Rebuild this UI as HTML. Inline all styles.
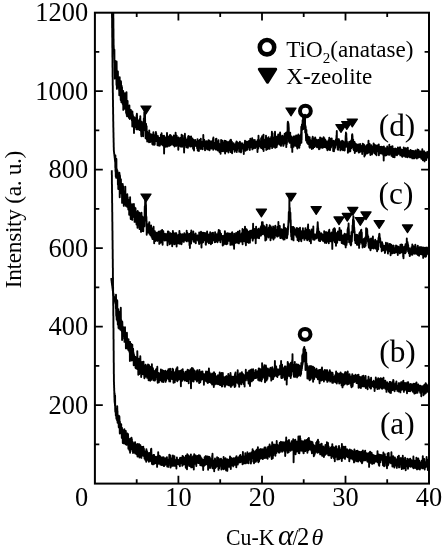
<!DOCTYPE html>
<html lang="en"><head><meta charset="utf-8"><title>XRD patterns</title>
<style>html,body{margin:0;padding:0;background:#fff}svg{display:block}</style></head>
<body>
<svg width="443" height="550" viewBox="0 0 443 550">
<rect width="443" height="550" fill="#fff"/>
<defs><clipPath id="cp"><rect x="94.9" y="12.7" width="334.1" height="470.9"/></clipPath></defs>
<g clip-path="url(#cp)" fill="none" stroke="#000" stroke-width="1.9" stroke-linejoin="round">
<polyline points="111.8,170.3 111.8,170.9 111.8,171.5 111.8,172.1 111.8,172.7 111.8,173.3 111.8,173.9 111.8,174.5 111.9,175.1 111.9,175.7 111.9,176.3 111.9,176.9 111.9,177.5 111.9,178.1 111.9,178.7 111.9,179.3 111.9,179.9 111.9,180.5 111.9,181.1 111.9,181.7 111.9,182.3 111.9,182.9 111.9,183.5 111.9,184.1 112.0,184.7 112.0,185.3 112.0,185.9 112.0,186.5 112.0,187.1 112.0,187.7 112.0,188.3 112.0,188.9 112.0,189.5 112.0,190.1 112.0,190.7 112.0,191.3 112.0,191.9 112.0,192.5 112.0,193.1 112.1,193.7 112.1,194.3 112.1,194.9 112.1,195.5 112.1,196.1 112.1,196.7 112.1,197.3 112.1,197.9 112.1,198.5 112.1,199.1 112.1,199.7 112.1,200.3 112.1,200.9 112.1,201.5 112.1,202.1 112.1,202.7 112.2,203.3 112.2,203.9 112.2,204.5 112.2,205.1 112.2,205.7 112.2,206.3 112.2,206.9 112.2,207.5 112.2,208.1 112.2,208.7 112.2,209.3 112.2,209.9 112.2,210.5 112.2,211.1 112.2,211.7 112.3,212.3 112.3,212.9 112.3,213.5 112.3,214.1 112.3,214.7 112.3,215.3 112.3,215.9 112.3,216.5 112.3,217.1 112.3,217.7 112.3,218.3 112.3,218.9 112.3,219.5 112.3,220.1 112.3,220.7 112.3,221.3 112.4,221.9 112.4,222.5 112.4,223.1 112.4,223.7 112.4,224.3 112.4,224.9 112.4,225.5 112.4,226.1 112.4,226.7 112.4,227.3 112.4,227.9 112.4,228.5 112.4,229.1 112.4,229.7 112.4,230.3 112.5,230.9 112.5,231.5 112.5,232.1 112.5,232.7 112.5,233.3 112.5,233.9 112.5,234.5 112.5,235.1 112.5,235.7 112.5,236.3 112.5,236.9 112.5,237.5 112.5,238.1 112.5,238.7 112.5,239.3 112.5,239.9 112.6,240.5 112.6,241.1 112.6,241.7 112.6,242.3 112.6,242.9 112.6,243.5 112.6,244.1 112.6,244.7 112.6,245.3 112.6,245.9 112.6,246.5 112.6,247.1 112.6,247.7 112.6,248.3 112.6,248.9 112.7,249.5 112.7,250.1 112.7,250.7 112.7,251.3 112.7,251.9 112.7,252.5 112.7,253.1 112.7,253.7 112.7,254.3 112.7,254.9 112.7,255.5 112.7,256.1 112.7,256.7 112.7,257.3 112.7,257.9 112.7,258.5 112.8,259.1 112.8,259.7 112.8,260.3 112.8,260.9 112.8,261.5 112.8,262.1 112.8,262.7 112.8,263.3 112.8,263.9 112.8,264.5 112.8,265.1 112.8,265.7 112.8,266.3 112.8,266.9 112.8,267.5 112.9,268.1 112.9,268.7 112.9,269.3 112.9,269.9 112.9,270.5 112.9,271.1 112.9,271.7 112.9,272.3 112.9,272.9 112.9,273.5 112.9,274.1 112.9,274.7 112.9,275.3 112.9,275.9 112.9,276.5 112.9,277.1 113.0,277.7 113.0,278.3 113.0,278.9 113.0,279.5 113.0,280.1 113.0,280.7 113.0,281.3 113.0,281.9 113.0,282.5 113.0,283.1 113.0,283.7 113.0,284.3 113.0,284.9 113.0,285.5 113.0,286.1 113.0,286.7 113.1,287.3 113.1,287.9 113.1,288.5 113.1,289.1 113.1,289.7 113.1,290.3 113.1,290.9 113.1,291.5 113.1,292.1 113.1,292.7 113.1,293.3 113.1,293.9 113.1,294.5 113.1,295.1 113.1,295.7 113.2,296.3 113.2,296.9 113.2,297.5 113.2,298.1 113.2,298.7 113.2,299.3 113.2,299.9 113.2,300.5 113.2,301.1 113.2,301.7 113.2,302.3 113.2,302.9 113.2,303.5 113.2,304.1 113.2,304.7 113.2,305.3 113.3,305.9 113.3,306.5 113.3,307.1 113.3,307.7 113.3,308.3 113.3,308.9 113.3,309.5 113.3,310.1 113.3,310.7 113.3,311.3 113.3,311.9 113.3,312.5 113.3,313.1 113.3,313.7 113.3,314.3 113.3,314.9 113.3,315.5 113.4,316.1 113.4,316.7 113.4,317.3 113.4,317.9 113.4,318.5 113.4,319.1 113.4,319.7 113.4,320.3 113.4,320.9 113.4,321.5 113.4,322.1 113.4,322.7 113.4,323.3 113.4,323.9 113.4,324.5 113.4,325.1 113.4,325.7 113.4,326.3 113.4,326.9 113.4,327.5 113.5,328.1 113.5,328.7 113.5,329.3 113.5,329.9 113.5,330.5 113.5,331.1 113.5,331.7 113.5,332.3 113.5,332.9 113.5,333.5 113.5,334.1 113.5,334.7 113.5,335.3 113.5,335.9 113.5,336.5 113.5,337.1 113.5,337.7 113.5,338.3 113.5,338.9 113.6,339.5 113.6,340.1 113.6,340.7 113.6,341.3 113.6,341.9 113.6,342.5 113.6,343.1 113.6,343.7 113.6,344.3 113.6,344.9 113.6,345.5 113.6,346.1 113.6,346.7 113.6,347.3 113.6,347.9 113.6,348.5 113.6,349.1 113.6,349.7 113.6,350.3 113.7,350.9 113.7,351.5 113.7,352.1 113.7,352.7 113.7,353.3 113.7,353.9 113.7,354.5 113.7,355.1 113.7,355.7 113.7,356.3 113.7,356.9 113.7,357.5 113.7,358.1 113.7,358.7 113.7,359.3 113.7,359.9 113.7,360.5 113.7,361.1 113.7,361.7 113.7,362.3 113.8,362.9 113.8,363.5 113.8,364.1 113.8,364.7 113.8,365.3 113.8,365.9 113.8,366.5 113.8,367.1 113.8,367.7 113.8,368.3 113.8,368.9 113.8,369.5 113.8,370.1 113.8,370.7 113.8,371.3 113.8,371.9 113.8,372.5 113.8,373.1 113.8,373.7 113.9,374.3 113.9,374.9 113.9,375.5 113.9,376.1 113.9,376.7 113.9,377.3 113.9,377.9 113.9,378.5 113.9,379.1 113.9,379.7 113.9,380.3 113.9,380.9 113.9,381.5 114.0,382.1 114.0,382.7 114.0,383.3 114.0,383.9 114.0,384.5 114.1,385.1 114.1,385.7 114.1,386.3 114.1,386.9 114.1,387.5 114.2,388.1 114.2,388.7 114.2,389.3 114.2,389.9 114.2,390.5 114.3,391.1 114.3,391.7 114.3,392.3 114.3,392.9 114.3,393.5 114.3,394.1 114.4,394.7 114.4,395.3 114.4,395.9 114.4,396.5 114.4,397.1 114.5,397.7 114.5,398.3 114.5,398.9 114.5,399.5 114.5,400.1 114.6,400.7 114.6,401.3 114.6,401.9 114.6,393.1 114.7,402.9 114.8,401.9 115.0,405.8 115.1,395.4 115.2,409.8 115.3,411.5 115.4,412.1 115.6,409.1 115.7,409.3 115.8,415.6 115.9,413.1 116.0,408.9 116.2,413.1 116.3,415.6 116.4,418.7 116.5,415.3 116.6,409.2 116.8,411.3 116.9,415.4 117.0,416.4 117.1,420.5 117.2,406.1 117.4,412.6 117.5,410.9 117.6,422.8 117.7,421.7 117.8,420.1 118.0,422.9 118.1,416.6 118.2,422.5 118.3,420.7 118.4,421.3 118.6,420.7 118.7,426.4 118.8,427.4 118.9,415.7 119.0,420.5 119.2,423.8 119.3,426.6 119.4,416.5 119.5,420.1 119.6,423.5 119.8,433.6 119.9,421.6 120.0,424.2 120.1,426.3 120.2,426.3 120.4,427.8 120.5,427.3 120.6,426.9 120.7,429.4 120.8,429.7 121.0,430.5 121.1,430.9 121.2,424.1 121.3,430.5 121.4,430.7 121.6,433.9 121.7,433.7 121.8,437.9 121.9,427.6 122.0,430.9 122.2,432.7 122.3,429.2 122.4,431.1 122.5,430.9 122.6,430.7 122.8,443.1 122.9,433.0 123.0,440.0 123.1,430.1 123.2,435.3 123.4,431.5 123.5,436.0 123.6,442.0 123.7,443.4 123.8,438.7 124.0,437.4 124.1,435.6 124.2,437.5 124.3,441.9 124.4,429.3 124.6,435.1 124.7,432.5 124.8,441.1 124.9,431.7 125.0,440.7 125.2,432.5 125.3,433.0 125.4,444.0 125.5,442.2 125.6,434.3 125.8,431.0 125.9,434.5 126.0,441.0 126.1,438.6 126.2,435.0 126.4,441.3 126.5,444.9 126.6,434.7 126.7,439.2 126.8,436.3 127.0,444.3 127.1,440.4 127.2,437.4 127.3,433.4 127.4,443.2 127.6,439.3 127.7,441.1 127.8,440.0 127.9,442.5 128.0,434.0 128.2,437.8 128.3,442.6 128.4,448.7 128.5,442.8 128.6,441.3 128.8,439.2 128.9,439.2 129.0,441.1 129.1,438.9 129.2,442.7 129.4,442.4 129.5,450.4 129.6,442.2 129.7,447.1 129.8,441.2 130.0,446.7 130.1,452.7 130.2,440.9 130.3,438.8 130.4,447.6 130.6,443.8 130.7,442.6 130.8,445.5 130.9,445.0 131.0,448.8 131.2,445.7 131.3,442.0 131.4,440.0 131.5,437.7 131.6,440.3 131.8,448.9 131.9,439.2 132.0,445.0 132.1,449.7 132.2,447.3 132.4,451.0 132.5,448.1 132.6,451.3 132.7,443.2 132.8,442.3 133.0,453.1 133.1,447.0 133.2,446.2 133.3,443.8 133.4,452.1 133.6,448.0 133.7,448.1 133.8,443.8 133.9,446.7 134.0,444.9 134.2,446.2 134.3,447.9 134.4,444.8 134.5,443.7 134.6,449.9 134.8,443.2 134.9,452.4 135.0,453.0 135.1,442.1 135.2,453.4 135.4,444.4 135.5,452.5 135.6,445.5 135.7,450.6 135.8,443.9 136.0,450.3 136.1,448.3 136.2,453.9 136.3,451.0 136.4,444.9 136.6,449.5 136.7,445.9 136.8,449.2 136.9,454.3 137.0,454.5 137.2,449.4 137.3,445.9 137.4,449.2 137.5,456.6 137.6,448.6 137.8,443.9 137.9,444.2 138.0,445.0 138.1,453.4 138.2,448.3 138.4,446.9 138.5,450.9 138.6,453.2 138.7,449.3 138.8,447.0 139.0,450.8 139.1,453.0 139.2,444.2 139.3,445.2 139.4,457.5 139.6,451.9 139.7,451.8 139.8,445.6 139.9,447.1 140.0,449.8 140.2,455.3 140.3,451.2 140.4,445.2 140.5,456.5 140.6,456.7 140.8,454.3 140.9,447.4 141.0,449.1 141.1,450.5 141.2,452.0 141.4,457.9 141.5,446.9 141.6,449.2 141.7,451.8 141.8,449.9 142.0,450.2 142.1,446.9 142.2,452.3 142.3,451.1 142.4,452.9 142.6,455.6 142.7,451.5 142.8,452.1 142.9,453.5 143.0,451.1 143.2,453.4 143.3,446.8 143.4,449.9 143.5,454.7 143.6,453.8 143.8,456.0 143.9,448.7 144.0,451.5 144.1,453.1 144.2,453.1 144.4,452.8 144.5,458.4 144.6,452.1 144.7,452.7 144.8,455.6 145.0,455.5 145.1,454.5 145.2,459.7 145.3,456.1 145.4,453.5 145.6,451.1 145.7,458.5 145.8,452.4 145.9,455.9 146.0,452.9 146.2,461.8 146.3,457.3 146.4,449.1 146.5,456.0 146.6,450.5 146.8,453.3 146.9,457.9 147.0,451.1 147.1,456.5 147.2,455.2 147.4,458.0 147.5,452.5 147.6,457.8 147.7,454.6 147.8,459.2 148.0,456.1 148.1,458.2 148.2,460.5 148.3,459.7 148.4,456.2 148.6,458.6 148.7,456.4 148.8,457.9 148.9,461.8 149.0,453.9 149.2,452.9 149.3,458.3 149.4,455.1 149.5,460.9 149.6,459.7 149.8,459.1 149.9,457.1 150.0,455.7 150.1,454.5 150.2,455.6 150.4,457.3 150.5,454.4 150.6,460.7 150.7,459.6 150.8,453.5 151.0,449.2 151.1,461.2 151.2,454.0 151.3,448.8 151.4,452.8 151.6,458.7 151.7,462.3 151.8,461.0 151.9,462.8 152.0,463.8 152.2,464.1 152.3,455.4 152.4,457.9 152.5,456.6 152.6,458.7 152.8,457.5 152.9,459.5 153.0,464.4 153.1,456.6 153.2,461.1 153.4,455.9 153.5,454.9 153.6,462.1 153.7,458.6 153.8,459.2 154.0,463.5 154.1,455.0 154.2,459.4 154.3,463.7 154.4,456.1 154.6,460.1 154.7,462.2 154.8,462.2 154.9,461.5 155.0,462.4 155.2,461.0 155.3,461.9 155.4,460.7 155.5,456.9 155.6,460.0 155.8,459.4 155.9,463.2 156.0,461.3 156.1,461.4 156.2,460.4 156.4,461.9 156.5,458.3 156.6,460.8 156.7,458.0 156.8,459.0 157.0,456.8 157.1,466.9 157.2,462.0 157.3,457.4 157.4,459.2 157.6,461.4 157.7,459.1 157.8,462.6 157.9,461.8 158.0,463.9 158.2,452.1 158.3,462.8 158.4,461.3 158.5,463.6 158.6,459.0 158.8,458.6 158.9,457.4 159.0,462.2 159.1,461.3 159.2,455.8 159.4,459.2 159.5,460.9 159.6,457.4 159.7,459.9 159.8,460.7 160.0,459.4 160.1,456.3 160.2,464.5 160.3,461.9 160.4,462.2 160.6,459.5 160.7,461.7 160.8,459.3 160.9,460.9 161.0,461.7 161.2,463.0 161.3,459.6 161.4,459.1 161.5,465.0 161.6,457.4 161.8,462.0 161.9,461.1 162.0,463.5 162.1,460.2 162.2,458.5 162.4,461.9 162.5,457.6 162.6,458.5 162.7,461.5 162.8,461.9 163.0,457.3 163.1,465.3 163.2,461.5 163.3,465.2 163.4,464.8 163.6,461.8 163.7,460.5 163.8,457.5 163.9,464.6 164.0,466.1 164.2,462.2 164.3,461.8 164.4,459.1 164.5,458.8 164.6,461.4 164.8,465.2 164.9,460.9 165.0,464.3 165.1,462.9 165.2,461.4 165.4,459.3 165.5,460.7 165.6,458.3 165.7,464.2 165.8,463.2 166.0,459.0 166.1,459.8 166.2,458.0 166.3,462.3 166.4,463.6 166.6,459.3 166.7,460.6 166.8,462.9 166.9,457.1 167.0,462.5 167.2,466.4 167.3,466.6 167.4,461.5 167.5,461.8 167.6,464.1 167.8,463.9 167.9,466.2 168.0,462.7 168.1,463.0 168.2,463.0 168.4,466.9 168.5,459.4 168.6,465.8 168.7,462.8 168.8,463.0 169.0,459.8 169.1,462.1 169.2,459.7 169.3,454.8 169.4,462.9 169.6,458.4 169.7,462.4 169.8,458.5 169.9,461.2 170.0,461.1 170.2,457.3 170.3,462.3 170.4,460.6 170.5,455.4 170.6,467.5 170.8,463.7 170.9,463.3 171.0,462.4 171.1,464.7 171.2,460.9 171.4,464.3 171.5,465.0 171.6,460.8 171.7,462.4 171.8,462.7 172.0,458.1 172.1,463.3 172.2,462.1 172.3,465.8 172.4,462.7 172.6,459.7 172.7,462.6 172.8,460.7 172.9,455.5 173.0,461.6 173.2,458.5 173.3,465.7 173.4,463.0 173.5,464.6 173.6,463.1 173.8,461.5 173.9,464.0 174.0,457.7 174.1,464.3 174.2,461.6 174.4,456.3 174.5,461.5 174.6,463.7 174.7,460.6 174.8,465.9 175.0,465.7 175.1,460.2 175.2,459.8 175.3,461.3 175.4,460.6 175.6,464.0 175.7,465.1 175.8,463.8 175.9,463.9 176.0,461.8 176.2,461.6 176.3,459.9 176.4,468.6 176.5,464.5 176.6,463.6 176.8,460.0 176.9,457.5 177.0,459.7 177.1,460.6 177.2,460.8 177.4,463.7 177.5,460.7 177.6,463.7 177.7,463.3 177.8,463.8 178.0,461.5 178.1,464.1 178.2,462.2 178.3,462.4 178.4,461.3 178.6,461.4 178.7,462.4 178.8,463.7 178.9,459.7 179.0,460.9 179.2,461.9 179.3,465.0 179.4,461.8 179.5,463.6 179.6,464.4 179.8,461.8 179.9,466.2 180.0,458.9 180.1,457.8 180.2,458.4 180.4,459.3 180.5,460.0 180.6,460.9 180.7,462.7 180.8,460.3 181.0,460.1 181.1,463.3 181.2,461.1 181.3,462.2 181.4,460.3 181.6,457.8 181.7,461.4 181.8,461.2 181.9,462.6 182.0,461.5 182.2,459.1 182.3,465.8 182.4,457.9 182.5,456.0 182.6,459.5 182.8,459.9 182.9,462.8 183.0,459.7 183.1,461.4 183.2,462.0 183.4,463.3 183.5,456.6 183.6,462.0 183.7,457.7 183.8,464.5 184.0,459.1 184.1,459.3 184.2,462.8 184.3,461.2 184.4,461.0 184.6,463.3 184.7,459.8 184.8,459.4 184.9,464.2 185.0,459.6 185.2,461.8 185.3,457.6 185.4,461.1 185.5,460.3 185.6,462.3 185.8,467.7 185.9,455.6 186.0,458.3 186.1,460.2 186.2,461.6 186.4,456.9 186.5,461.0 186.6,458.7 186.7,461.3 186.8,458.4 187.0,469.3 187.1,461.7 187.2,463.2 187.3,454.3 187.4,458.7 187.6,460.6 187.7,466.1 187.8,458.6 187.9,462.2 188.0,458.4 188.2,460.7 188.3,455.4 188.4,455.4 188.5,458.8 188.6,463.5 188.8,463.5 188.9,460.4 189.0,457.2 189.1,464.3 189.2,460.0 189.4,458.3 189.5,459.8 189.6,460.2 189.7,466.0 189.8,460.9 190.0,459.4 190.1,459.6 190.2,456.3 190.3,464.6 190.4,458.1 190.6,461.3 190.7,458.0 190.8,458.6 190.9,454.4 191.0,461.1 191.2,467.4 191.3,466.2 191.4,462.1 191.5,465.1 191.6,458.5 191.8,457.5 191.9,464.3 192.0,458.9 192.1,467.2 192.2,465.0 192.4,457.4 192.5,459.7 192.6,459.7 192.7,463.1 192.8,459.6 193.0,460.7 193.1,456.2 193.2,465.6 193.3,463.4 193.4,461.0 193.6,456.0 193.7,461.2 193.8,469.6 193.9,461.9 194.0,464.4 194.2,454.3 194.3,459.8 194.4,460.0 194.5,463.9 194.6,457.7 194.8,463.2 194.9,463.9 195.0,460.9 195.1,460.1 195.2,462.0 195.4,457.5 195.5,455.8 195.6,455.4 195.7,461.0 195.8,459.6 196.0,460.1 196.1,458.8 196.2,460.1 196.3,466.0 196.4,459.5 196.6,457.6 196.7,456.7 196.8,457.5 196.9,462.0 197.0,459.7 197.2,459.1 197.3,459.7 197.4,455.9 197.5,457.6 197.6,459.0 197.8,459.0 197.9,461.0 198.0,462.9 198.1,458.2 198.2,461.1 198.4,461.4 198.5,458.4 198.6,461.8 198.7,463.1 198.8,455.3 199.0,461.4 199.1,461.4 199.2,461.1 199.3,455.6 199.4,463.2 199.6,459.8 199.7,457.8 199.8,455.5 199.9,461.5 200.0,459.7 200.2,456.1 200.3,465.2 200.4,456.5 200.5,462.3 200.6,457.4 200.8,459.7 200.9,462.3 201.0,459.6 201.1,462.0 201.2,460.5 201.4,465.0 201.5,462.7 201.6,462.0 201.7,458.4 201.8,459.3 202.0,461.2 202.1,465.7 202.2,465.2 202.3,461.2 202.4,464.2 202.6,461.2 202.7,461.5 202.8,461.0 202.9,459.9 203.0,462.4 203.2,470.1 203.3,460.1 203.4,464.4 203.5,463.6 203.6,461.1 203.8,463.3 203.9,459.7 204.0,461.5 204.1,465.4 204.2,465.8 204.4,461.1 204.5,460.6 204.6,457.2 204.7,463.4 204.8,459.5 205.0,458.6 205.1,461.8 205.2,461.1 205.3,456.9 205.4,464.7 205.6,456.2 205.7,456.3 205.8,464.0 205.9,460.3 206.0,456.1 206.2,464.2 206.3,463.8 206.4,460.6 206.5,461.0 206.6,461.8 206.8,463.6 206.9,460.8 207.0,458.0 207.1,461.0 207.2,459.8 207.4,456.5 207.5,459.8 207.6,458.2 207.7,461.6 207.8,464.9 208.0,462.8 208.1,469.7 208.2,462.7 208.3,461.9 208.4,458.8 208.6,464.0 208.7,462.6 208.8,456.7 208.9,459.7 209.0,463.5 209.2,460.3 209.3,462.9 209.4,462.3 209.5,467.7 209.6,457.3 209.8,461.2 209.9,457.8 210.0,459.2 210.1,467.5 210.2,464.5 210.4,463.6 210.5,461.7 210.6,462.0 210.7,467.9 210.8,458.9 211.0,465.8 211.1,465.3 211.2,459.4 211.3,462.7 211.4,460.0 211.6,462.3 211.7,464.7 211.8,463.1 211.9,465.8 212.0,464.4 212.2,455.7 212.3,464.7 212.4,458.6 212.5,453.8 212.6,461.3 212.8,460.8 212.9,468.4 213.0,465.4 213.1,464.9 213.2,462.6 213.4,465.1 213.5,460.6 213.6,465.8 213.7,461.3 213.8,462.1 214.0,463.4 214.1,460.6 214.2,471.3 214.3,463.3 214.4,461.5 214.6,460.0 214.7,460.9 214.8,462.6 214.9,464.4 215.0,458.5 215.2,461.5 215.3,468.1 215.4,463.8 215.5,463.0 215.6,461.8 215.8,462.3 215.9,463.4 216.0,467.0 216.1,466.9 216.2,461.5 216.4,460.6 216.5,464.5 216.6,461.5 216.7,465.9 216.8,466.3 217.0,461.1 217.1,457.2 217.2,459.3 217.3,462.9 217.4,459.8 217.6,464.1 217.7,463.8 217.8,463.4 217.9,462.8 218.0,461.3 218.2,465.0 218.3,457.9 218.4,464.6 218.5,469.9 218.6,467.0 218.8,463.4 218.9,462.6 219.0,464.5 219.1,463.1 219.2,468.1 219.4,461.9 219.5,463.0 219.6,460.1 219.7,465.1 219.8,459.1 220.0,465.8 220.1,465.1 220.2,459.9 220.3,464.7 220.4,462.8 220.6,462.0 220.7,459.8 220.8,459.0 220.9,459.5 221.0,458.8 221.2,463.6 221.3,460.7 221.4,469.5 221.5,464.6 221.6,466.8 221.8,461.6 221.9,467.9 222.0,462.3 222.1,466.3 222.2,464.5 222.4,465.5 222.5,460.2 222.6,460.8 222.7,466.1 222.8,464.7 223.0,461.8 223.1,465.1 223.2,463.7 223.3,461.8 223.4,469.2 223.6,456.9 223.7,462.6 223.8,465.8 223.9,464.5 224.0,468.9 224.2,465.0 224.3,464.7 224.4,461.5 224.5,467.9 224.6,461.6 224.8,462.2 224.9,462.2 225.0,465.0 225.1,461.5 225.2,463.0 225.4,461.7 225.5,458.2 225.6,461.2 225.7,468.9 225.8,462.0 226.0,463.5 226.1,470.4 226.2,460.8 226.3,465.0 226.4,466.5 226.6,460.3 226.7,467.4 226.8,465.5 226.9,459.5 227.0,463.1 227.2,459.4 227.3,470.9 227.4,468.9 227.5,462.9 227.6,460.9 227.8,464.1 227.9,459.5 228.0,462.1 228.1,459.6 228.2,462.0 228.4,463.9 228.5,463.6 228.6,464.8 228.7,461.2 228.8,465.2 229.0,462.9 229.1,463.6 229.2,466.9 229.3,462.7 229.4,459.8 229.6,464.5 229.7,459.5 229.8,462.7 229.9,462.3 230.0,456.4 230.2,458.3 230.3,459.7 230.4,463.3 230.5,464.9 230.6,462.5 230.8,469.0 230.9,464.6 231.0,457.8 231.1,464.0 231.2,459.3 231.4,459.9 231.5,461.3 231.6,461.4 231.7,463.1 231.8,464.3 232.0,465.3 232.1,460.4 232.2,462.2 232.3,465.4 232.4,458.7 232.6,464.8 232.7,464.0 232.8,460.8 232.9,465.4 233.0,463.0 233.2,463.8 233.3,466.4 233.4,461.4 233.5,458.3 233.6,460.3 233.8,458.4 233.9,464.5 234.0,460.4 234.1,460.2 234.2,459.6 234.4,464.7 234.5,462.3 234.6,463.7 234.7,462.0 234.8,459.1 235.0,458.6 235.1,464.8 235.2,460.4 235.3,463.2 235.4,457.8 235.6,460.2 235.7,459.4 235.8,458.5 235.9,462.7 236.0,463.6 236.2,460.2 236.3,467.2 236.4,460.8 236.5,456.1 236.6,462.4 236.8,457.0 236.9,459.6 237.0,461.6 237.1,464.2 237.2,462.4 237.4,458.5 237.5,464.5 237.6,461.4 237.7,464.4 237.8,464.5 238.0,460.6 238.1,458.3 238.2,462.6 238.3,460.7 238.4,460.2 238.6,460.8 238.7,457.8 238.8,457.2 238.9,458.7 239.0,460.7 239.2,459.3 239.3,462.1 239.4,462.4 239.5,461.4 239.6,457.0 239.8,455.6 239.9,457.1 240.0,456.4 240.1,462.4 240.2,462.3 240.4,454.9 240.5,458.6 240.6,459.3 240.7,457.1 240.8,458.8 241.0,457.1 241.1,458.3 241.2,459.6 241.3,460.6 241.4,457.1 241.6,461.7 241.7,456.9 241.8,458.3 241.9,458.8 242.0,456.5 242.2,460.7 242.3,457.3 242.4,456.4 242.5,464.3 242.6,458.4 242.8,457.9 242.9,452.0 243.0,458.6 243.1,463.7 243.2,457.9 243.4,458.0 243.5,461.3 243.6,461.5 243.7,462.5 243.8,461.0 244.0,458.0 244.1,456.6 244.2,460.5 244.3,460.3 244.4,460.2 244.6,456.6 244.7,457.1 244.8,463.4 244.9,457.4 245.0,460.4 245.2,458.5 245.3,453.2 245.4,460.1 245.5,455.1 245.6,463.4 245.8,457.1 245.9,456.2 246.0,457.6 246.1,458.0 246.2,456.8 246.4,457.0 246.5,461.4 246.6,458.5 246.7,460.3 246.8,458.2 247.0,459.8 247.1,455.8 247.2,462.7 247.3,454.9 247.4,452.3 247.6,453.4 247.7,454.5 247.8,456.7 247.9,462.9 248.0,453.6 248.2,459.7 248.3,454.5 248.4,461.7 248.5,459.2 248.6,463.2 248.8,456.4 248.9,459.8 249.0,460.0 249.1,455.8 249.2,456.9 249.4,455.1 249.5,454.6 249.6,455.1 249.7,453.2 249.8,459.6 250.0,456.6 250.1,454.0 250.2,456.9 250.3,457.7 250.4,455.6 250.6,460.0 250.7,455.9 250.8,457.1 250.9,463.6 251.0,454.8 251.2,456.6 251.3,457.4 251.4,452.4 251.5,455.0 251.6,458.9 251.8,461.6 251.9,454.1 252.0,457.8 252.1,455.3 252.2,454.8 252.4,452.2 252.5,457.4 252.6,449.3 252.7,458.1 252.8,456.8 253.0,457.0 253.1,455.3 253.2,451.7 253.3,450.8 253.4,456.2 253.6,457.5 253.7,456.3 253.8,452.7 253.9,458.6 254.0,463.3 254.2,454.2 254.3,452.4 254.4,454.3 254.5,461.4 254.6,452.8 254.8,453.9 254.9,454.9 255.0,454.4 255.1,457.6 255.2,453.8 255.4,451.3 255.5,455.8 255.6,455.4 255.7,461.9 255.8,459.2 256.0,461.2 256.1,455.3 256.2,456.5 256.3,456.7 256.4,455.1 256.6,449.7 256.7,456.9 256.8,455.7 256.9,460.5 257.0,458.5 257.2,453.2 257.3,456.0 257.4,451.1 257.5,458.7 257.6,454.1 257.8,450.2 257.9,447.3 258.0,457.3 258.1,456.6 258.2,451.4 258.4,462.3 258.5,452.5 258.6,459.8 258.7,452.0 258.8,455.2 259.0,452.4 259.1,461.3 259.2,457.6 259.3,455.1 259.4,455.5 259.6,454.7 259.7,454.8 259.8,449.5 259.9,455.6 260.0,458.7 260.2,451.6 260.3,449.5 260.4,449.1 260.5,450.6 260.6,457.2 260.8,455.3 260.9,449.2 261.0,458.6 261.1,452.5 261.2,455.8 261.4,452.4 261.5,450.0 261.6,454.0 261.7,452.2 261.8,454.3 262.0,453.6 262.1,449.3 262.2,454.9 262.3,451.8 262.4,455.0 262.6,456.4 262.7,454.9 262.8,456.4 262.9,459.1 263.0,452.1 263.2,450.9 263.3,449.5 263.4,456.6 263.5,450.0 263.6,455.2 263.8,457.9 263.9,450.0 264.0,457.9 264.1,449.4 264.2,455.4 264.4,452.9 264.5,447.5 264.6,452.6 264.7,458.1 264.8,452.1 265.0,448.4 265.1,455.9 265.2,455.9 265.3,448.7 265.4,453.0 265.6,448.0 265.7,447.4 265.8,454.9 265.9,455.0 266.0,457.8 266.2,455.0 266.3,451.6 266.4,456.2 266.5,449.2 266.6,450.8 266.8,452.7 266.9,450.6 267.0,451.6 267.1,449.2 267.2,455.4 267.4,457.3 267.5,456.0 267.6,458.7 267.7,455.5 267.8,454.9 268.0,447.3 268.1,452.5 268.2,446.7 268.3,455.7 268.4,452.6 268.6,451.4 268.7,450.3 268.8,449.3 268.9,451.3 269.0,450.5 269.2,452.8 269.3,447.0 269.4,449.9 269.5,456.8 269.6,444.4 269.8,449.7 269.9,446.8 270.0,452.6 270.1,453.9 270.2,449.8 270.4,448.6 270.5,450.2 270.6,454.4 270.7,448.3 270.8,450.0 271.0,454.8 271.1,447.1 271.2,446.2 271.3,453.3 271.4,455.4 271.6,453.4 271.7,459.1 271.8,447.0 271.9,448.4 272.0,452.0 272.2,442.3 272.3,448.7 272.4,457.8 272.5,454.9 272.6,446.6 272.8,458.2 272.9,455.7 273.0,451.2 273.1,448.2 273.2,452.7 273.4,455.3 273.5,450.5 273.6,447.1 273.7,452.0 273.8,451.5 274.0,444.4 274.1,444.8 274.2,446.1 274.3,452.5 274.4,445.4 274.6,448.7 274.7,450.5 274.8,445.8 274.9,445.7 275.0,446.2 275.2,448.2 275.3,445.7 275.4,455.8 275.5,451.0 275.6,452.9 275.8,445.3 275.9,445.3 276.0,444.4 276.1,445.4 276.2,451.2 276.4,453.0 276.5,452.8 276.6,451.9 276.7,440.9 276.8,447.0 277.0,450.0 277.1,451.2 277.2,447.8 277.3,449.7 277.4,448.0 277.6,447.6 277.7,450.3 277.8,445.2 277.9,445.9 278.0,449.4 278.2,449.1 278.3,448.3 278.4,451.2 278.5,446.1 278.6,448.9 278.8,452.1 278.9,445.3 279.0,446.5 279.1,452.7 279.2,446.6 279.4,450.3 279.5,444.6 279.6,445.2 279.7,443.1 279.8,442.6 280.0,451.9 280.1,447.2 280.2,445.1 280.3,451.0 280.4,448.3 280.6,449.1 280.7,447.9 280.8,450.4 280.9,442.1 281.0,441.8 281.2,445.8 281.3,447.7 281.4,447.4 281.5,444.7 281.6,449.0 281.8,448.3 281.9,446.8 282.0,446.7 282.1,451.8 282.2,446.1 282.4,442.3 282.5,442.9 282.6,450.8 282.7,446.0 282.8,448.0 283.0,448.4 283.1,446.9 283.2,444.2 283.3,446.5 283.4,449.4 283.6,443.5 283.7,447.0 283.8,447.1 283.9,442.2 284.0,445.7 284.2,448.3 284.3,447.0 284.4,443.6 284.5,451.6 284.6,444.5 284.8,449.9 284.9,448.8 285.0,446.9 285.1,451.9 285.2,456.0 285.4,450.4 285.5,448.7 285.6,447.7 285.7,447.1 285.8,441.4 286.0,449.7 286.1,443.6 286.2,437.5 286.3,447.0 286.4,445.2 286.6,441.0 286.7,449.6 286.8,447.3 286.9,450.6 287.0,445.1 287.2,445.3 287.3,447.6 287.4,450.0 287.5,447.2 287.6,452.8 287.8,445.1 287.9,445.3 288.0,443.9 288.1,443.2 288.2,441.8 288.4,440.8 288.5,444.9 288.6,448.0 288.7,452.2 288.8,446.2 289.0,439.9 289.1,449.4 289.2,443.1 289.3,449.1 289.4,446.9 289.6,444.2 289.7,444.8 289.8,444.1 289.9,448.6 290.0,443.3 290.2,445.0 290.3,443.8 290.4,443.7 290.5,448.9 290.6,450.7 290.8,444.8 290.9,446.7 291.0,449.8 291.1,449.1 291.2,444.2 291.4,449.2 291.5,446.4 291.6,441.2 291.7,444.6 291.8,442.4 292.0,448.1 292.1,448.9 292.2,449.7 292.3,445.2 292.4,444.0 292.6,444.9 292.7,446.2 292.8,443.4 292.9,447.3 293.0,449.5 293.2,439.3 293.3,449.3 293.4,449.3 293.5,441.2 293.6,462.2 293.8,449.3 293.9,447.3 294.0,440.1 294.1,446.7 294.2,446.2 294.4,448.0 294.5,444.2 294.6,442.0 294.7,441.8 294.8,446.9 295.0,443.1 295.1,447.0 295.2,452.2 295.3,439.7 295.4,444.9 295.6,454.3 295.7,447.7 295.8,452.7 295.9,446.6 296.0,452.0 296.2,450.0 296.3,450.3 296.4,441.6 296.5,451.3 296.6,446.3 296.8,444.3 296.9,449.2 297.0,443.8 297.1,441.6 297.2,446.4 297.4,450.0 297.5,444.7 297.6,448.5 297.7,451.4 297.8,445.9 298.0,445.6 298.1,443.3 298.2,443.8 298.3,445.6 298.4,436.4 298.6,446.7 298.7,453.0 298.8,446.4 298.9,446.2 299.0,443.4 299.2,448.5 299.3,444.8 299.4,453.2 299.5,447.9 299.6,448.3 299.8,447.5 299.9,444.6 300.0,436.3 300.1,444.4 300.2,448.8 300.4,438.7 300.5,447.9 300.6,447.8 300.7,448.4 300.8,446.9 301.0,447.1 301.1,444.8 301.2,450.7 301.3,441.0 301.4,441.9 301.6,442.5 301.7,442.8 301.8,448.9 301.9,445.2 302.0,449.5 302.2,441.3 302.3,444.6 302.4,443.3 302.5,446.5 302.6,447.1 302.8,447.2 302.9,443.8 303.0,451.2 303.1,445.1 303.2,449.5 303.4,452.9 303.5,451.6 303.6,441.5 303.7,453.2 303.8,445.8 304.0,449.2 304.1,447.0 304.2,446.6 304.3,447.0 304.4,448.6 304.6,449.9 304.7,443.1 304.8,440.3 304.9,444.9 305.0,441.6 305.2,443.1 305.3,451.1 305.4,449.0 305.5,443.7 305.6,444.3 305.8,444.6 305.9,445.0 306.0,445.9 306.1,447.2 306.2,450.3 306.4,445.9 306.5,439.9 306.6,446.9 306.7,446.1 306.8,444.9 307.0,449.9 307.1,439.6 307.2,442.6 307.3,443.8 307.4,452.8 307.6,443.4 307.7,445.3 307.8,448.5 307.9,447.3 308.0,438.7 308.2,447.3 308.3,445.0 308.4,448.4 308.5,450.3 308.6,447.8 308.8,444.4 308.9,437.9 309.0,447.9 309.1,449.1 309.2,448.2 309.4,441.1 309.5,444.4 309.6,440.7 309.7,447.6 309.8,444.3 310.0,448.3 310.1,445.0 310.2,442.0 310.3,442.2 310.4,449.6 310.6,449.6 310.7,445.7 310.8,441.9 310.9,444.0 311.0,448.9 311.2,445.6 311.3,444.1 311.4,450.7 311.5,448.3 311.6,444.1 311.8,441.7 311.9,453.3 312.0,449.8 312.1,444.2 312.2,448.4 312.4,446.6 312.5,442.2 312.6,447.4 312.7,446.0 312.8,448.4 313.0,444.3 313.1,449.0 313.2,448.5 313.3,450.2 313.4,445.6 313.6,452.8 313.7,447.4 313.8,456.2 313.9,449.2 314.0,448.3 314.2,445.4 314.3,452.1 314.4,455.1 314.5,450.3 314.6,447.4 314.8,448.7 314.9,453.8 315.0,447.0 315.1,448.7 315.2,446.5 315.4,450.8 315.5,449.9 315.6,449.9 315.7,449.5 315.8,447.5 316.0,450.0 316.1,447.6 316.2,442.7 316.3,451.7 316.4,445.2 316.6,451.9 316.7,449.9 316.8,451.4 316.9,448.2 317.0,441.4 317.2,448.0 317.3,443.2 317.4,452.8 317.5,450.8 317.6,441.9 317.8,451.1 317.9,448.6 318.0,439.8 318.1,446.3 318.2,446.8 318.4,450.2 318.5,449.3 318.6,441.6 318.7,452.4 318.8,446.5 319.0,450.5 319.1,446.1 319.2,451.9 319.3,449.0 319.4,445.2 319.6,444.8 319.7,451.5 319.8,451.1 319.9,447.5 320.0,451.4 320.2,454.4 320.3,448.7 320.4,444.6 320.5,453.8 320.6,447.5 320.8,448.8 320.9,444.1 321.0,451.4 321.1,450.7 321.2,447.2 321.4,450.7 321.5,448.2 321.6,447.3 321.7,443.7 321.8,453.1 322.0,450.2 322.1,455.8 322.2,454.1 322.3,448.3 322.4,452.1 322.6,446.7 322.7,450.3 322.8,455.9 322.9,450.8 323.0,451.6 323.2,446.4 323.3,449.1 323.4,449.3 323.5,452.1 323.6,447.0 323.8,447.6 323.9,457.0 324.0,456.4 324.1,453.7 324.2,448.5 324.4,447.7 324.5,449.3 324.6,455.2 324.7,453.3 324.8,453.1 325.0,452.5 325.1,454.7 325.2,449.6 325.3,452.8 325.4,445.0 325.6,446.2 325.7,449.0 325.8,452.7 325.9,449.2 326.0,453.2 326.2,452.9 326.3,453.6 326.4,449.2 326.5,453.8 326.6,449.8 326.8,452.1 326.9,442.2 327.0,452.8 327.1,450.7 327.2,453.3 327.4,450.4 327.5,453.3 327.6,453.5 327.7,448.4 327.8,450.0 328.0,443.0 328.1,451.3 328.2,450.1 328.3,455.2 328.4,452.0 328.6,449.8 328.7,446.4 328.8,453.5 328.9,449.9 329.0,451.0 329.2,450.2 329.3,449.0 329.4,452.5 329.5,455.4 329.6,448.8 329.8,451.6 329.9,452.8 330.0,449.9 330.1,454.9 330.2,453.5 330.4,451.8 330.5,450.9 330.6,449.2 330.7,447.7 330.8,453.8 331.0,450.3 331.1,453.6 331.2,447.3 331.3,449.8 331.4,458.0 331.6,455.5 331.7,452.1 331.8,455.2 331.9,453.6 332.0,455.3 332.2,450.4 332.3,444.1 332.4,450.3 332.5,451.7 332.6,451.5 332.8,455.9 332.9,449.5 333.0,452.6 333.1,447.7 333.2,455.5 333.4,447.8 333.5,457.0 333.6,454.6 333.7,447.2 333.8,454.4 334.0,458.3 334.1,451.4 334.2,454.9 334.3,452.1 334.4,453.5 334.6,455.2 334.7,458.0 334.8,461.2 334.9,447.8 335.0,449.2 335.2,451.7 335.3,453.5 335.4,450.2 335.5,457.1 335.6,448.3 335.8,446.6 335.9,453.3 336.0,446.1 336.1,454.0 336.2,452.1 336.4,446.5 336.5,450.4 336.6,453.8 336.7,456.1 336.8,455.5 337.0,450.8 337.1,452.4 337.2,449.0 337.3,459.6 337.4,451.2 337.6,455.5 337.7,456.3 337.8,449.5 337.9,454.7 338.0,456.0 338.2,457.6 338.3,455.4 338.4,459.2 338.5,456.9 338.6,450.8 338.8,454.9 338.9,448.9 339.0,446.0 339.1,459.3 339.2,453.6 339.4,452.0 339.5,453.9 339.6,455.8 339.7,448.0 339.8,457.0 340.0,454.0 340.1,454.6 340.2,456.3 340.3,454.0 340.4,450.7 340.6,449.9 340.7,458.3 340.8,454.5 340.9,451.8 341.0,450.9 341.2,455.3 341.3,458.3 341.4,455.7 341.5,453.1 341.6,452.2 341.8,461.0 341.9,444.0 342.0,451.2 342.1,452.3 342.2,449.8 342.4,453.8 342.5,458.3 342.6,454.4 342.7,448.0 342.8,448.6 343.0,452.8 343.1,455.9 343.2,456.5 343.3,450.7 343.4,455.7 343.6,451.5 343.7,446.7 343.8,455.2 343.9,452.8 344.0,457.5 344.2,449.2 344.3,454.5 344.4,454.0 344.5,451.6 344.6,449.1 344.8,455.6 344.9,453.4 345.0,458.9 345.1,450.7 345.2,457.1 345.4,446.6 345.5,457.3 345.6,451.4 345.7,454.5 345.8,455.4 346.0,455.1 346.1,450.6 346.2,456.1 346.3,455.8 346.4,454.2 346.6,455.0 346.7,450.9 346.8,453.7 346.9,454.1 347.0,449.1 347.2,452.5 347.3,456.6 347.4,453.8 347.5,454.4 347.6,450.0 347.8,457.2 347.9,452.1 348.0,453.2 348.1,450.1 348.2,455.5 348.4,453.7 348.5,450.6 348.6,457.2 348.7,454.5 348.8,453.6 349.0,457.9 349.1,453.0 349.2,452.0 349.3,461.3 349.4,454.9 349.6,458.4 349.7,457.4 349.8,449.4 349.9,453.8 350.0,454.8 350.2,452.7 350.3,455.6 350.4,458.6 350.5,452.9 350.6,454.6 350.8,454.4 350.9,455.0 351.0,453.0 351.1,457.3 351.2,450.1 351.4,451.9 351.5,450.9 351.6,455.6 351.7,457.6 351.8,458.1 352.0,458.8 352.1,450.8 352.2,454.8 352.3,457.9 352.4,454.6 352.6,457.0 352.7,457.3 352.8,454.9 352.9,453.2 353.0,453.7 353.2,459.8 353.3,455.8 353.4,453.6 353.5,453.0 353.6,458.6 353.8,451.5 353.9,457.0 354.0,462.4 354.1,455.5 354.2,451.9 354.4,449.5 354.5,458.1 354.6,451.7 354.7,456.3 354.8,461.4 355.0,457.0 355.1,455.0 355.2,455.1 355.3,458.5 355.4,453.6 355.6,454.7 355.7,458.7 355.8,459.9 355.9,454.2 356.0,459.4 356.2,456.7 356.3,450.9 356.4,456.3 356.5,456.0 356.6,455.4 356.8,456.3 356.9,461.3 357.0,455.6 357.1,457.7 357.2,461.2 357.4,454.5 357.5,450.6 357.6,451.9 357.7,451.2 357.8,459.0 358.0,461.0 358.1,455.3 358.2,461.5 358.3,454.8 358.4,458.5 358.6,457.9 358.7,453.7 358.8,455.6 358.9,458.8 359.0,451.7 359.2,455.9 359.3,453.5 359.4,453.5 359.5,458.2 359.6,453.1 359.8,460.4 359.9,457.3 360.0,454.2 360.1,452.0 360.2,458.7 360.4,457.4 360.5,452.8 360.6,458.0 360.7,455.3 360.8,461.6 361.0,458.3 361.1,453.9 361.2,456.2 361.3,461.3 361.4,460.5 361.6,455.2 361.7,451.8 361.8,460.2 361.9,454.2 362.0,463.3 362.2,452.7 362.3,455.3 362.4,461.9 362.5,457.6 362.6,460.2 362.8,460.8 362.9,450.4 363.0,454.3 363.1,459.0 363.2,458.4 363.4,455.1 363.5,453.5 363.6,457.4 363.7,459.4 363.8,459.1 364.0,453.3 364.1,455.1 364.2,460.4 364.3,460.2 364.4,458.4 364.6,455.5 364.7,459.8 364.8,456.2 364.9,451.2 365.0,452.2 365.2,450.7 365.3,457.6 365.4,460.3 365.5,458.9 365.6,458.4 365.8,454.0 365.9,459.3 366.0,453.8 366.1,455.1 366.2,459.3 366.4,458.9 366.5,453.2 366.6,457.0 366.7,456.1 366.8,456.5 367.0,455.0 367.1,455.8 367.2,456.4 367.3,461.0 367.4,461.7 367.6,457.4 367.7,458.9 367.8,459.6 367.9,455.2 368.0,460.1 368.2,458.1 368.3,453.3 368.4,458.4 368.5,458.2 368.6,455.9 368.8,454.3 368.9,454.7 369.0,455.3 369.1,466.9 369.2,454.1 369.4,456.7 369.5,458.5 369.6,460.8 369.7,454.7 369.8,452.4 370.0,457.2 370.1,451.6 370.2,452.6 370.3,461.3 370.4,458.3 370.6,462.9 370.7,454.1 370.8,456.6 370.9,459.5 371.0,461.8 371.2,458.9 371.3,457.2 371.4,454.4 371.5,459.7 371.6,452.7 371.8,460.2 371.9,458.8 372.0,459.4 372.1,458.4 372.2,464.0 372.4,462.4 372.5,463.2 372.6,455.2 372.7,460.1 372.8,454.8 373.0,458.7 373.1,458.7 373.2,459.4 373.3,460.4 373.4,460.7 373.6,458.9 373.7,460.6 373.8,455.6 373.9,460.5 374.0,463.4 374.2,455.8 374.3,461.4 374.4,456.8 374.5,460.8 374.6,455.7 374.8,461.4 374.9,457.1 375.0,461.9 375.1,459.4 375.2,458.9 375.4,460.3 375.5,456.5 375.6,456.1 375.7,458.4 375.8,459.5 376.0,458.3 376.1,458.4 376.2,455.8 376.3,460.9 376.4,459.3 376.6,457.2 376.7,459.5 376.8,461.2 376.9,459.2 377.0,460.7 377.2,462.2 377.3,461.6 377.4,459.0 377.5,451.3 377.6,460.7 377.8,454.0 377.9,458.2 378.0,458.3 378.1,462.2 378.2,460.2 378.4,457.8 378.5,458.5 378.6,461.1 378.7,454.6 378.8,465.0 379.0,456.5 379.1,456.2 379.2,455.8 379.3,465.8 379.4,455.8 379.6,459.4 379.7,454.8 379.8,462.3 379.9,457.9 380.0,458.1 380.2,457.2 380.3,460.3 380.4,461.6 380.5,462.2 380.6,460.3 380.8,456.2 380.9,459.8 381.0,455.0 381.1,456.4 381.2,459.9 381.4,459.4 381.5,458.7 381.6,457.2 381.7,455.2 381.8,457.4 382.0,459.4 382.1,457.3 382.2,459.7 382.3,458.4 382.4,458.3 382.6,459.7 382.7,455.8 382.8,456.9 382.9,455.9 383.0,465.2 383.2,461.1 383.3,460.4 383.4,452.5 383.5,457.8 383.6,464.8 383.8,460.0 383.9,457.5 384.0,461.7 384.1,466.2 384.2,458.9 384.4,460.2 384.5,458.4 384.6,459.3 384.7,455.1 384.8,454.3 385.0,460.8 385.1,456.9 385.2,457.5 385.3,457.9 385.4,458.0 385.6,457.8 385.7,456.7 385.8,462.4 385.9,458.2 386.0,460.9 386.2,465.7 386.3,456.9 386.4,464.6 386.5,458.6 386.6,461.6 386.8,459.1 386.9,463.7 387.0,468.3 387.1,461.1 387.2,461.8 387.4,460.1 387.5,465.8 387.6,453.4 387.7,458.7 387.8,460.3 388.0,460.6 388.1,465.2 388.2,462.9 388.3,458.0 388.4,464.2 388.6,458.0 388.7,452.9 388.8,460.0 388.9,456.7 389.0,460.6 389.2,459.5 389.3,458.1 389.4,461.3 389.5,461.0 389.6,460.7 389.8,461.4 389.9,461.0 390.0,458.7 390.1,462.5 390.2,457.5 390.4,459.5 390.5,462.9 390.6,457.6 390.7,461.9 390.8,462.7 391.0,462.3 391.1,459.8 391.2,463.4 391.3,461.9 391.4,452.3 391.6,459.1 391.7,460.5 391.8,457.2 391.9,458.5 392.0,463.7 392.2,460.0 392.3,461.8 392.4,466.5 392.5,457.4 392.6,459.9 392.8,457.6 392.9,457.9 393.0,463.0 393.1,462.2 393.2,456.2 393.4,465.1 393.5,462.8 393.6,462.7 393.7,462.4 393.8,461.9 394.0,461.5 394.1,460.7 394.2,463.5 394.3,467.5 394.4,458.9 394.6,462.6 394.7,462.8 394.8,462.7 394.9,457.4 395.0,461.0 395.2,461.8 395.3,460.5 395.4,463.5 395.5,465.6 395.6,461.6 395.8,461.8 395.9,459.6 396.0,462.2 396.1,459.7 396.2,464.8 396.4,460.0 396.5,460.2 396.6,464.9 396.7,463.2 396.8,467.9 397.0,462.4 397.1,459.4 397.2,463.9 397.3,458.9 397.4,460.3 397.6,460.4 397.7,459.9 397.8,456.7 397.9,463.5 398.0,462.2 398.2,464.0 398.3,460.4 398.4,464.6 398.5,459.4 398.6,466.1 398.8,465.5 398.9,455.8 399.0,467.4 399.1,464.6 399.2,462.3 399.4,461.8 399.5,460.5 399.6,467.3 399.7,465.9 399.8,458.5 400.0,462.0 400.1,463.5 400.2,463.6 400.3,458.6 400.4,462.7 400.6,464.4 400.7,459.1 400.8,462.7 400.9,458.0 401.0,462.3 401.2,464.4 401.3,464.7 401.4,463.4 401.5,463.5 401.6,463.3 401.8,469.1 401.9,464.7 402.0,463.5 402.1,468.3 402.2,459.1 402.4,464.8 402.5,464.1 402.6,460.9 402.7,462.3 402.8,455.7 403.0,465.6 403.1,458.4 403.2,461.3 403.3,461.8 403.4,468.6 403.6,465.7 403.7,466.5 403.8,460.8 403.9,461.2 404.0,467.5 404.2,460.8 404.3,462.2 404.4,461.1 404.5,468.1 404.6,461.0 404.8,463.0 404.9,461.7 405.0,460.8 405.1,457.7 405.2,462.4 405.4,462.0 405.5,467.8 405.6,463.3 405.7,470.3 405.8,466.9 406.0,463.5 406.1,464.3 406.2,466.1 406.3,466.6 406.4,461.7 406.6,464.5 406.7,460.8 406.8,465.1 406.9,462.7 407.0,461.8 407.2,463.3 407.3,458.8 407.4,464.3 407.5,459.0 407.6,460.1 407.8,459.7 407.9,463.3 408.0,468.8 408.1,466.8 408.2,464.5 408.4,459.5 408.5,464.6 408.6,464.3 408.7,463.6 408.8,465.3 409.0,464.8 409.1,466.2 409.2,462.7 409.3,462.7 409.4,460.2 409.6,462.5 409.7,459.1 409.8,463.1 409.9,461.0 410.0,459.4 410.2,458.6 410.3,460.9 410.4,464.3 410.5,466.2 410.6,466.7 410.8,466.3 410.9,462.9 411.0,466.3 411.1,464.3 411.2,465.2 411.4,462.3 411.5,460.2 411.6,463.2 411.7,461.8 411.8,460.6 412.0,462.1 412.1,463.6 412.2,466.6 412.3,464.9 412.4,464.8 412.6,464.9 412.7,465.0 412.8,466.6 412.9,463.1 413.0,467.5 413.2,463.4 413.3,464.2 413.4,456.4 413.5,468.3 413.6,460.0 413.8,463.9 413.9,466.2 414.0,466.0 414.1,463.5 414.2,464.5 414.4,466.5 414.5,462.1 414.6,467.7 414.7,465.8 414.8,460.8 415.0,466.4 415.1,464.4 415.2,467.2 415.3,467.9 415.4,466.3 415.6,465.1 415.7,461.2 415.8,462.0 415.9,462.4 416.0,465.7 416.2,468.3 416.3,461.3 416.4,457.7 416.5,462.9 416.6,463.6 416.8,466.0 416.9,465.3 417.0,469.4 417.1,464.5 417.2,458.8 417.4,462.3 417.5,464.9 417.6,458.6 417.7,462.2 417.8,463.6 418.0,461.9 418.1,464.3 418.2,467.7 418.3,458.4 418.4,462.9 418.6,468.7 418.7,461.2 418.8,460.9 418.9,461.6 419.0,467.7 419.2,460.5 419.3,467.0 419.4,465.6 419.5,464.7 419.6,467.4 419.8,466.4 419.9,469.5 420.0,464.3 420.1,465.4 420.2,462.8 420.4,467.9 420.5,464.1 420.6,465.5 420.7,463.5 420.8,462.2 421.0,463.6 421.1,463.6 421.2,467.9 421.3,464.2 421.4,466.3 421.6,465.2 421.7,460.6 421.8,461.7 421.9,464.1 422.0,466.1 422.2,467.4 422.3,465.2 422.4,468.4 422.5,462.7 422.6,466.9 422.8,456.1 422.9,464.3 423.0,464.1 423.1,464.5 423.2,466.6 423.4,462.2 423.5,467.5 423.6,464.0 423.7,461.7 423.8,464.8 424.0,465.4 424.1,467.5 424.2,468.4 424.3,458.9 424.4,463.8 424.6,463.1 424.7,469.6 424.8,465.0 424.9,463.8 425.0,461.9 425.2,463.8 425.3,464.7 425.4,465.3 425.5,465.4 425.6,467.4 425.8,466.1 425.9,466.0 426.0,465.5 426.1,466.7 426.2,465.7 426.4,464.6 426.5,464.2 426.6,456.9 426.7,464.2 426.8,462.8 427.0,464.2 427.1,464.1 427.2,461.9 427.3,464.1 427.4,462.3 427.6,463.2 427.7,463.7 427.8,470.1 427.9,463.4 428.0,459.6 428.2,462.8 428.3,467.6 428.4,469.8"/>
<polyline points="111.2,278.0 111.3,278.6 111.4,279.2 111.4,279.8 111.5,280.4 111.6,281.0 111.7,281.6 111.7,282.2 111.8,282.8 111.9,283.4 112.0,284.0 112.0,284.6 112.1,285.2 112.2,285.8 112.3,286.4 112.4,287.0 112.4,287.6 112.5,288.2 112.6,288.8 112.7,289.4 112.7,290.0 112.8,290.6 112.9,291.2 113.0,291.8 113.1,292.4 113.2,293.0 113.3,293.6 113.5,294.2 113.6,294.8 113.7,295.4 113.8,296.0 114.0,296.6 114.1,297.2 114.2,297.8 114.3,298.4 114.5,299.0 114.6,299.6 114.7,300.2 114.8,300.8 115.0,301.4 115.1,302.0 115.2,302.6 115.3,303.2 115.5,303.8 115.5,303.8 115.6,304.1 115.7,302.7 115.9,308.5 116.0,294.8 116.1,307.3 116.2,315.4 116.3,314.7 116.5,316.6 116.6,317.0 116.7,319.6 116.8,304.1 116.9,316.3 117.1,300.3 117.2,308.3 117.3,300.8 117.4,319.0 117.5,321.1 117.7,312.3 117.8,324.5 117.9,310.3 118.0,315.6 118.1,316.1 118.3,309.3 118.4,318.6 118.5,327.9 118.6,310.9 118.7,322.7 118.9,316.9 119.0,328.6 119.1,321.5 119.2,323.1 119.3,323.3 119.5,321.4 119.6,312.3 119.7,328.8 119.8,313.3 119.9,322.9 120.1,325.5 120.2,317.6 120.3,323.5 120.4,329.7 120.5,323.3 120.7,318.8 120.8,307.8 120.9,319.1 121.0,321.6 121.1,322.4 121.3,320.3 121.4,328.1 121.5,323.2 121.6,326.2 121.7,330.9 121.9,322.8 122.0,326.2 122.1,340.0 122.2,333.3 122.3,321.8 122.5,328.8 122.6,332.6 122.7,336.6 122.8,331.1 122.9,327.7 123.1,327.0 123.2,334.7 123.3,333.3 123.4,329.2 123.5,331.2 123.7,330.4 123.8,336.8 123.9,329.6 124.0,336.1 124.1,338.4 124.3,336.8 124.4,330.1 124.5,341.9 124.6,331.6 124.7,337.7 124.9,331.9 125.0,327.1 125.1,337.6 125.2,338.3 125.3,336.7 125.5,338.8 125.6,334.4 125.7,334.3 125.8,337.5 125.9,348.4 126.1,343.2 126.2,336.7 126.3,342.5 126.4,337.5 126.5,337.9 126.7,344.9 126.8,338.2 126.9,332.8 127.0,337.0 127.1,342.2 127.3,342.7 127.4,348.6 127.5,339.2 127.6,346.6 127.7,345.4 127.9,342.9 128.0,348.0 128.1,346.6 128.2,340.3 128.3,350.0 128.5,339.1 128.6,345.6 128.7,345.6 128.8,348.0 128.9,342.7 129.1,346.3 129.2,346.1 129.3,351.8 129.4,343.5 129.5,348.0 129.7,346.6 129.8,342.0 129.9,361.1 130.0,348.4 130.1,342.0 130.3,355.9 130.4,344.5 130.5,351.5 130.6,354.1 130.7,347.3 130.9,348.6 131.0,348.4 131.1,350.5 131.2,344.0 131.3,346.0 131.5,351.3 131.6,356.9 131.7,355.3 131.8,360.5 131.9,356.1 132.1,350.9 132.2,352.9 132.3,344.6 132.4,349.7 132.5,349.7 132.7,355.7 132.8,357.6 132.9,352.4 133.0,352.6 133.1,348.6 133.3,355.1 133.4,356.9 133.5,358.0 133.6,352.9 133.7,365.2 133.9,361.9 134.0,356.5 134.1,354.9 134.2,356.0 134.3,358.2 134.5,357.7 134.6,360.1 134.7,361.5 134.8,364.3 134.9,363.5 135.1,358.3 135.2,360.7 135.3,357.5 135.4,356.9 135.5,367.7 135.7,357.8 135.8,368.3 135.9,358.7 136.0,361.4 136.1,365.0 136.3,360.8 136.4,362.5 136.5,360.0 136.6,359.2 136.7,360.6 136.9,358.8 137.0,368.4 137.1,361.1 137.2,369.1 137.3,351.1 137.5,362.3 137.6,364.7 137.7,361.4 137.8,367.2 137.9,365.5 138.1,361.9 138.2,364.9 138.3,374.7 138.4,364.4 138.5,364.8 138.7,361.9 138.8,364.4 138.9,358.8 139.0,363.3 139.1,374.1 139.3,368.6 139.4,367.1 139.5,369.0 139.6,372.3 139.7,367.3 139.9,373.2 140.0,369.4 140.1,366.0 140.2,372.2 140.3,356.3 140.5,363.4 140.6,366.9 140.7,362.4 140.8,365.5 140.9,363.7 141.1,363.8 141.2,377.0 141.3,369.0 141.4,366.5 141.5,371.9 141.7,366.0 141.8,370.5 141.9,368.5 142.0,373.6 142.1,361.9 142.3,370.5 142.4,368.1 142.5,363.3 142.6,372.0 142.7,364.7 142.9,374.3 143.0,370.2 143.1,371.0 143.2,368.8 143.3,372.0 143.5,361.6 143.6,369.1 143.7,366.5 143.8,370.1 143.9,369.0 144.1,371.6 144.2,366.2 144.3,376.4 144.4,378.2 144.5,368.9 144.7,369.7 144.8,371.0 144.9,374.7 145.0,377.1 145.1,365.8 145.3,368.0 145.4,366.5 145.5,366.4 145.6,364.6 145.7,372.1 145.9,366.6 146.0,376.5 146.1,374.4 146.2,367.4 146.3,367.5 146.5,369.1 146.6,376.5 146.7,368.5 146.8,366.2 146.9,371.6 147.1,373.2 147.2,369.6 147.3,377.9 147.4,373.0 147.5,373.8 147.7,369.2 147.8,372.3 147.9,371.9 148.0,364.5 148.1,373.7 148.3,366.3 148.4,372.7 148.5,367.7 148.6,380.2 148.7,374.2 148.9,376.2 149.0,376.5 149.1,368.6 149.2,365.3 149.3,372.3 149.5,376.7 149.6,373.9 149.7,376.4 149.8,377.0 149.9,368.5 150.1,374.8 150.2,380.8 150.3,372.0 150.4,366.9 150.5,373.3 150.7,372.5 150.8,375.6 150.9,371.1 151.0,374.6 151.1,366.6 151.3,377.3 151.4,379.9 151.5,379.0 151.6,369.3 151.7,375.7 151.9,364.3 152.0,375.6 152.1,374.5 152.2,371.3 152.3,376.0 152.5,375.3 152.6,378.1 152.7,375.3 152.8,375.8 152.9,368.3 153.1,371.0 153.2,373.4 153.3,376.1 153.4,375.1 153.5,380.3 153.7,372.2 153.8,374.4 153.9,376.1 154.0,374.5 154.1,377.0 154.3,373.4 154.4,380.2 154.5,374.3 154.6,379.2 154.7,375.3 154.9,380.6 155.0,370.7 155.1,377.3 155.2,374.1 155.3,376.3 155.5,379.6 155.6,371.7 155.7,371.1 155.8,372.2 155.9,376.5 156.1,369.3 156.2,376.0 156.3,371.3 156.4,371.8 156.5,374.5 156.7,377.0 156.8,373.6 156.9,374.1 157.0,375.6 157.1,374.9 157.3,366.7 157.4,374.4 157.5,376.1 157.6,379.6 157.7,382.8 157.9,378.1 158.0,376.1 158.1,372.6 158.2,376.2 158.3,378.5 158.5,380.2 158.6,372.9 158.7,376.7 158.8,378.6 158.9,382.2 159.1,376.7 159.2,374.0 159.3,373.5 159.4,374.6 159.5,373.6 159.7,378.7 159.8,379.5 159.9,378.3 160.0,379.9 160.1,374.3 160.3,377.1 160.4,374.5 160.5,376.0 160.6,380.0 160.7,375.7 160.9,369.5 161.0,374.9 161.1,373.4 161.2,370.6 161.3,373.1 161.5,379.0 161.6,381.5 161.7,374.1 161.8,379.1 161.9,379.7 162.1,371.8 162.2,375.6 162.3,375.6 162.4,376.3 162.5,370.3 162.7,374.5 162.8,379.3 162.9,380.0 163.0,381.9 163.1,374.5 163.3,382.0 163.4,377.9 163.5,371.0 163.6,378.2 163.7,374.4 163.9,377.4 164.0,375.3 164.1,379.7 164.2,376.5 164.3,374.6 164.5,378.9 164.6,376.5 164.7,374.2 164.8,379.9 164.9,374.2 165.1,373.4 165.2,373.7 165.3,370.6 165.4,373.7 165.5,381.9 165.7,372.4 165.8,375.6 165.9,371.7 166.0,373.4 166.1,380.7 166.3,378.6 166.4,373.4 166.5,375.5 166.6,372.7 166.7,372.8 166.9,372.3 167.0,372.4 167.1,376.6 167.2,377.5 167.3,377.1 167.5,374.9 167.6,370.8 167.7,375.2 167.8,372.3 167.9,378.4 168.1,377.3 168.2,378.0 168.3,374.2 168.4,369.2 168.5,378.7 168.7,379.6 168.8,370.3 168.9,375.8 169.0,379.4 169.1,371.7 169.3,381.4 169.4,374.1 169.5,371.7 169.6,380.0 169.7,376.3 169.9,373.1 170.0,378.3 170.1,368.6 170.2,381.5 170.3,372.5 170.5,376.3 170.6,373.9 170.7,376.8 170.8,378.3 170.9,372.4 171.1,377.9 171.2,374.2 171.3,372.9 171.4,374.5 171.5,371.8 171.7,372.5 171.8,378.5 171.9,374.7 172.0,379.1 172.1,376.7 172.3,371.7 172.4,368.7 172.5,372.8 172.6,376.1 172.7,375.2 172.9,372.3 173.0,378.6 173.1,369.2 173.2,370.8 173.3,375.6 173.5,382.7 173.6,376.6 173.7,371.7 173.8,377.2 173.9,377.5 174.1,378.3 174.2,373.7 174.3,372.4 174.4,375.5 174.5,376.5 174.7,380.6 174.8,382.3 174.9,372.6 175.0,373.3 175.1,374.8 175.3,374.2 175.4,376.7 175.5,376.7 175.6,375.9 175.7,379.7 175.9,374.5 176.0,371.4 176.1,369.7 176.2,371.5 176.3,371.4 176.5,368.5 176.6,377.3 176.7,375.6 176.8,373.5 176.9,371.9 177.1,369.5 177.2,371.8 177.3,381.3 177.4,367.3 177.5,375.4 177.7,377.5 177.8,375.4 177.9,373.8 178.0,377.6 178.1,371.1 178.3,376.8 178.4,379.8 178.5,371.3 178.6,372.1 178.7,375.4 178.9,378.3 179.0,379.5 179.1,377.2 179.2,372.6 179.3,371.1 179.5,375.7 179.6,376.3 179.7,371.1 179.8,375.1 179.9,376.0 180.1,378.5 180.2,371.5 180.3,376.8 180.4,370.9 180.5,373.4 180.7,374.6 180.8,380.1 180.9,386.3 181.0,375.8 181.1,376.6 181.3,378.4 181.4,370.2 181.5,377.5 181.6,370.6 181.7,380.5 181.9,379.9 182.0,376.6 182.1,372.1 182.2,380.7 182.3,375.8 182.5,375.3 182.6,376.9 182.7,369.1 182.8,376.4 182.9,378.4 183.1,376.1 183.2,375.5 183.3,371.7 183.4,377.2 183.5,375.7 183.7,375.0 183.8,373.1 183.9,378.0 184.0,379.3 184.1,376.4 184.3,378.1 184.4,379.6 184.5,380.5 184.6,375.9 184.7,374.4 184.9,373.7 185.0,375.2 185.1,377.0 185.2,378.4 185.3,373.7 185.5,375.7 185.6,371.7 185.7,379.5 185.8,373.8 185.9,376.4 186.1,372.7 186.2,374.2 186.3,372.9 186.4,381.1 186.5,376.5 186.7,374.7 186.8,372.0 186.9,373.2 187.0,377.2 187.1,381.0 187.3,370.4 187.4,372.2 187.5,374.7 187.6,373.2 187.7,369.6 187.9,375.4 188.0,377.9 188.1,370.0 188.2,376.1 188.3,378.7 188.5,378.7 188.6,374.0 188.7,383.3 188.8,377.3 188.9,372.7 189.1,378.8 189.2,371.6 189.3,378.5 189.4,371.2 189.5,378.2 189.7,373.5 189.8,379.4 189.9,378.0 190.0,377.0 190.1,375.7 190.3,379.2 190.4,369.4 190.5,377.0 190.6,377.0 190.7,377.5 190.9,378.4 191.0,388.2 191.1,376.0 191.2,378.4 191.3,376.2 191.5,381.0 191.6,368.8 191.7,381.4 191.8,373.4 191.9,368.0 192.1,372.0 192.2,375.1 192.3,376.4 192.4,375.6 192.5,378.5 192.7,375.6 192.8,375.6 192.9,368.5 193.0,377.5 193.1,379.2 193.3,374.4 193.4,369.5 193.5,371.3 193.6,381.5 193.7,373.8 193.9,373.6 194.0,373.1 194.1,378.2 194.2,373.9 194.3,373.0 194.5,370.8 194.6,375.6 194.7,379.4 194.8,375.5 194.9,379.0 195.1,376.6 195.2,376.5 195.3,376.6 195.4,376.2 195.5,379.5 195.7,377.7 195.8,374.1 195.9,376.5 196.0,375.8 196.1,377.7 196.3,376.7 196.4,377.5 196.5,371.2 196.6,377.4 196.7,380.6 196.9,371.6 197.0,381.6 197.1,377.2 197.2,375.5 197.3,370.1 197.5,379.9 197.6,373.0 197.7,374.5 197.8,378.1 197.9,372.8 198.1,373.0 198.2,372.4 198.3,375.9 198.4,378.3 198.5,377.7 198.7,377.7 198.8,375.2 198.9,376.9 199.0,374.1 199.1,383.1 199.3,377.1 199.4,369.9 199.5,372.9 199.6,381.8 199.7,371.9 199.9,375.0 200.0,377.9 200.1,372.9 200.2,380.1 200.3,382.2 200.5,373.8 200.6,380.4 200.7,373.6 200.8,373.3 200.9,377.5 201.1,377.5 201.2,374.7 201.3,379.5 201.4,371.8 201.5,373.9 201.7,373.2 201.8,379.3 201.9,379.5 202.0,379.0 202.1,372.5 202.3,377.3 202.4,378.4 202.5,371.5 202.6,374.2 202.7,379.1 202.9,379.3 203.0,377.8 203.1,378.8 203.2,378.1 203.3,377.5 203.5,376.7 203.6,374.2 203.7,376.3 203.8,375.8 203.9,384.8 204.1,378.0 204.2,377.2 204.3,376.4 204.4,376.9 204.5,376.4 204.7,379.1 204.8,377.2 204.9,380.0 205.0,375.1 205.1,378.5 205.3,380.3 205.4,373.6 205.5,378.0 205.6,378.3 205.7,376.4 205.9,375.9 206.0,371.4 206.1,381.3 206.2,374.5 206.3,373.5 206.5,379.8 206.6,371.6 206.7,380.8 206.8,379.1 206.9,379.7 207.1,377.2 207.2,373.8 207.3,371.6 207.4,382.6 207.5,376.3 207.7,376.2 207.8,383.0 207.9,375.8 208.0,377.1 208.1,377.2 208.3,377.5 208.4,374.6 208.5,376.2 208.6,382.2 208.7,380.5 208.9,368.4 209.0,371.7 209.1,379.2 209.2,377.8 209.3,376.9 209.5,381.6 209.6,372.4 209.7,382.1 209.8,378.7 209.9,380.0 210.1,379.1 210.2,381.0 210.3,377.5 210.4,376.6 210.5,380.9 210.7,379.0 210.8,374.3 210.9,382.8 211.0,382.4 211.1,383.1 211.3,378.7 211.4,379.6 211.5,377.3 211.6,375.4 211.7,378.8 211.9,379.2 212.0,376.5 212.1,384.5 212.2,373.4 212.3,376.0 212.5,376.5 212.6,382.9 212.7,377.9 212.8,377.7 212.9,375.9 213.1,376.3 213.2,374.6 213.3,382.1 213.4,380.8 213.5,382.0 213.7,376.7 213.8,387.0 213.9,375.8 214.0,372.3 214.1,378.0 214.3,379.4 214.4,381.4 214.5,375.8 214.6,380.9 214.7,384.5 214.9,376.3 215.0,376.7 215.1,373.7 215.2,379.9 215.3,381.9 215.5,381.6 215.6,381.8 215.7,383.7 215.8,379.6 215.9,382.3 216.1,376.2 216.2,376.8 216.3,380.1 216.4,376.7 216.5,381.2 216.7,383.7 216.8,380.7 216.9,377.1 217.0,377.0 217.1,383.8 217.3,376.9 217.4,379.8 217.5,378.7 217.6,379.7 217.7,383.0 217.9,377.8 218.0,375.1 218.1,384.2 218.2,380.3 218.3,381.9 218.5,379.6 218.6,382.1 218.7,383.7 218.8,384.0 218.9,378.9 219.1,378.6 219.2,381.0 219.3,380.4 219.4,381.6 219.5,377.6 219.7,372.5 219.8,381.3 219.9,382.3 220.0,381.9 220.1,385.1 220.3,382.6 220.4,378.7 220.5,383.0 220.6,379.7 220.7,383.9 220.9,380.7 221.0,381.4 221.1,380.7 221.2,380.2 221.3,375.3 221.5,380.2 221.6,372.9 221.7,381.6 221.8,383.2 221.9,386.5 222.1,381.3 222.2,377.9 222.3,375.2 222.4,386.3 222.5,375.7 222.7,383.0 222.8,373.0 222.9,380.1 223.0,382.4 223.1,381.3 223.3,380.1 223.4,377.7 223.5,377.4 223.6,383.4 223.7,381.7 223.9,379.8 224.0,381.0 224.1,377.4 224.2,383.5 224.3,384.3 224.5,377.9 224.6,380.7 224.7,383.7 224.8,378.4 224.9,386.8 225.1,385.1 225.2,379.6 225.3,383.5 225.4,385.6 225.5,376.6 225.7,382.4 225.8,380.1 225.9,379.8 226.0,382.7 226.1,379.1 226.3,376.2 226.4,376.1 226.5,380.5 226.6,382.5 226.7,380.5 226.9,380.1 227.0,380.5 227.1,384.6 227.2,382.3 227.3,378.3 227.5,379.8 227.6,384.4 227.7,378.9 227.8,379.5 227.9,380.6 228.1,377.4 228.2,383.5 228.3,374.0 228.4,385.2 228.5,379.4 228.7,376.9 228.8,381.7 228.9,375.5 229.0,382.5 229.1,383.2 229.3,379.0 229.4,379.6 229.5,383.7 229.6,378.7 229.7,380.9 229.9,381.9 230.0,385.6 230.1,379.3 230.2,380.9 230.3,384.3 230.5,372.9 230.6,380.0 230.7,374.9 230.8,375.1 230.9,386.9 231.1,381.4 231.2,385.4 231.3,380.0 231.4,382.4 231.5,379.4 231.7,379.1 231.8,380.5 231.9,381.1 232.0,385.5 232.1,380.1 232.3,381.9 232.4,379.9 232.5,381.1 232.6,376.6 232.7,384.0 232.9,379.0 233.0,380.8 233.1,379.9 233.2,383.7 233.3,382.2 233.5,380.6 233.6,381.1 233.7,381.6 233.8,382.9 233.9,382.1 234.1,384.5 234.2,385.5 234.3,382.3 234.4,376.3 234.5,385.8 234.7,387.1 234.8,379.2 234.9,379.0 235.0,373.9 235.1,382.7 235.3,377.1 235.4,386.0 235.5,372.5 235.6,380.4 235.7,382.3 235.9,378.9 236.0,377.7 236.1,380.9 236.2,378.5 236.3,379.0 236.5,379.9 236.6,378.3 236.7,379.3 236.8,382.5 236.9,378.8 237.1,380.5 237.2,377.6 237.3,382.8 237.4,375.9 237.5,382.9 237.7,370.3 237.8,377.0 237.9,374.8 238.0,383.0 238.1,380.6 238.3,375.6 238.4,377.9 238.5,383.9 238.6,379.5 238.7,381.4 238.9,374.8 239.0,374.8 239.1,381.4 239.2,386.8 239.3,377.8 239.5,381.4 239.6,376.5 239.7,383.4 239.8,378.0 239.9,378.0 240.1,373.3 240.2,378.0 240.3,379.9 240.4,383.6 240.5,375.5 240.7,382.3 240.8,378.1 240.9,378.2 241.0,376.1 241.1,373.7 241.3,375.2 241.4,384.2 241.5,375.2 241.6,377.6 241.7,382.5 241.9,372.1 242.0,380.3 242.1,377.2 242.2,379.4 242.3,381.5 242.5,378.2 242.6,378.1 242.7,381.0 242.8,380.7 242.9,376.3 243.1,378.0 243.2,374.2 243.3,382.7 243.4,374.6 243.5,379.0 243.7,384.0 243.8,381.0 243.9,377.4 244.0,376.0 244.1,376.3 244.3,381.2 244.4,379.3 244.5,378.2 244.6,386.6 244.7,375.4 244.9,376.5 245.0,376.9 245.1,378.8 245.2,379.0 245.3,377.1 245.5,380.4 245.6,379.7 245.7,376.9 245.8,369.8 245.9,380.4 246.1,374.7 246.2,375.6 246.3,377.2 246.4,373.6 246.5,374.9 246.7,377.7 246.8,376.3 246.9,378.5 247.0,374.6 247.1,376.6 247.3,373.8 247.4,376.3 247.5,378.2 247.6,376.4 247.7,372.4 247.9,376.5 248.0,377.6 248.1,380.8 248.2,376.9 248.3,375.6 248.5,373.1 248.6,383.5 248.7,373.8 248.8,373.1 248.9,376.3 249.1,370.8 249.2,380.3 249.3,377.4 249.4,378.3 249.5,373.4 249.7,375.0 249.8,379.5 249.9,379.6 250.0,386.0 250.1,380.2 250.3,370.2 250.4,376.8 250.5,375.3 250.6,380.1 250.7,376.1 250.9,378.0 251.0,375.3 251.1,378.4 251.2,381.2 251.3,374.2 251.5,369.4 251.6,372.8 251.7,381.4 251.8,376.9 251.9,375.1 252.1,372.9 252.2,379.6 252.3,377.0 252.4,375.6 252.5,374.2 252.7,375.4 252.8,374.8 252.9,377.8 253.0,380.2 253.1,369.2 253.3,370.9 253.4,375.4 253.5,376.0 253.6,370.5 253.7,373.6 253.9,374.3 254.0,374.1 254.1,374.0 254.2,375.3 254.3,378.5 254.5,378.0 254.6,377.5 254.7,376.4 254.8,373.0 254.9,373.7 255.1,377.7 255.2,375.7 255.3,378.0 255.4,376.2 255.5,375.4 255.7,376.7 255.8,369.9 255.9,374.6 256.0,373.1 256.1,378.0 256.3,372.7 256.4,375.8 256.5,373.5 256.6,376.6 256.7,377.4 256.9,374.1 257.0,375.2 257.1,375.4 257.2,377.4 257.3,373.6 257.5,374.8 257.6,373.2 257.7,371.3 257.8,375.2 257.9,376.0 258.1,371.7 258.2,379.9 258.3,371.9 258.4,377.0 258.5,375.7 258.7,368.5 258.8,374.2 258.9,368.8 259.0,373.9 259.1,376.6 259.3,380.6 259.4,376.9 259.5,368.8 259.6,372.9 259.7,379.3 259.9,374.7 260.0,380.2 260.1,371.5 260.2,372.1 260.3,369.3 260.5,372.6 260.6,378.3 260.7,370.7 260.8,376.8 260.9,375.5 261.1,376.6 261.2,372.9 261.3,373.9 261.4,381.2 261.5,369.4 261.7,376.4 261.8,379.0 261.9,375.3 262.0,379.5 262.1,363.2 262.3,372.5 262.4,369.5 262.5,372.1 262.6,373.2 262.7,375.2 262.9,370.5 263.0,376.6 263.1,367.9 263.2,376.8 263.3,372.5 263.5,367.2 263.6,367.1 263.7,367.0 263.8,369.8 263.9,373.7 264.1,377.9 264.2,376.0 264.3,368.6 264.4,365.1 264.5,372.1 264.7,368.2 264.8,372.5 264.9,370.7 265.0,382.2 265.1,367.0 265.3,374.2 265.4,379.6 265.5,371.6 265.6,370.3 265.7,378.9 265.9,365.5 266.0,366.9 266.1,368.6 266.2,374.3 266.3,375.7 266.5,372.5 266.6,380.6 266.7,372.2 266.8,372.9 266.9,371.8 267.1,377.2 267.2,372.9 267.3,371.5 267.4,378.9 267.5,377.5 267.7,376.5 267.8,368.4 267.9,369.1 268.0,372.0 268.1,371.9 268.3,371.3 268.4,372.1 268.5,375.2 268.6,369.2 268.7,373.7 268.9,371.4 269.0,371.1 269.1,371.8 269.2,375.5 269.3,373.8 269.5,370.0 269.6,374.0 269.7,373.3 269.8,374.3 269.9,371.9 270.1,376.4 270.2,374.2 270.3,368.7 270.4,368.2 270.5,367.8 270.7,374.2 270.8,370.3 270.9,371.6 271.0,372.5 271.1,377.2 271.3,380.6 271.4,372.4 271.5,379.9 271.6,374.7 271.7,377.1 271.9,371.8 272.0,368.3 272.1,374.5 272.2,377.3 272.3,367.1 272.5,372.5 272.6,373.5 272.7,374.8 272.8,368.8 272.9,370.6 273.1,376.0 273.2,379.1 273.3,373.0 273.4,376.1 273.5,373.2 273.7,374.1 273.8,371.2 273.9,371.7 274.0,370.4 274.1,372.9 274.3,376.5 274.4,373.2 274.5,374.8 274.6,370.1 274.7,375.0 274.9,361.0 275.0,367.3 275.1,371.2 275.2,365.8 275.3,374.4 275.5,373.1 275.6,369.0 275.7,372.6 275.8,366.8 275.9,369.0 276.1,370.9 276.2,366.4 276.3,376.0 276.4,369.8 276.5,375.9 276.7,371.7 276.8,373.3 276.9,368.9 277.0,371.0 277.1,370.6 277.3,373.0 277.4,377.1 277.5,370.1 277.6,371.5 277.7,373.4 277.9,375.2 278.0,371.6 278.1,370.6 278.2,369.9 278.3,372.0 278.5,372.9 278.6,369.5 278.7,370.9 278.8,374.7 278.9,371.9 279.1,369.9 279.2,374.5 279.3,374.5 279.4,374.1 279.5,374.3 279.7,370.4 279.8,372.6 279.9,373.0 280.0,372.3 280.1,365.5 280.3,371.8 280.4,373.1 280.5,373.6 280.6,370.7 280.7,371.9 280.9,365.2 281.0,366.3 281.1,361.0 281.2,370.9 281.3,377.6 281.5,378.1 281.6,367.6 281.7,374.1 281.8,376.3 281.9,370.6 282.1,364.6 282.2,376.8 282.3,370.4 282.4,370.2 282.5,377.9 282.7,373.4 282.8,374.7 282.9,377.5 283.0,371.1 283.1,368.1 283.3,374.5 283.4,371.7 283.5,374.4 283.6,373.1 283.7,368.9 283.9,371.8 284.0,370.5 284.1,370.8 284.2,371.5 284.3,372.9 284.5,372.4 284.6,367.0 284.7,374.0 284.8,366.4 284.9,379.7 285.1,368.9 285.2,371.4 285.3,376.5 285.4,370.9 285.5,367.0 285.7,366.4 285.8,372.6 285.9,373.1 286.0,374.6 286.1,372.6 286.3,369.8 286.4,373.3 286.5,376.8 286.6,368.7 286.7,384.6 286.9,370.0 287.0,376.1 287.1,378.4 287.2,374.9 287.3,372.6 287.5,374.2 287.6,376.4 287.7,361.9 287.8,373.2 287.9,370.0 288.1,368.9 288.2,371.9 288.3,372.1 288.4,373.2 288.5,369.3 288.7,375.5 288.8,363.8 288.9,367.8 289.0,366.9 289.1,371.7 289.3,369.5 289.4,373.2 289.5,368.4 289.6,376.0 289.7,374.0 289.9,369.3 290.0,365.0 290.1,366.9 290.2,365.5 290.3,375.7 290.5,373.9 290.6,366.5 290.7,378.0 290.8,370.0 290.9,362.8 291.1,375.0 291.2,375.7 291.3,370.7 291.4,367.0 291.5,374.4 291.7,367.3 291.8,368.2 291.9,369.0 292.0,367.2 292.1,363.1 292.3,359.7 292.4,366.3 292.5,354.1 292.6,364.6 292.7,365.0 292.9,367.0 293.0,364.5 293.1,368.0 293.2,371.2 293.3,365.1 293.5,369.9 293.6,371.6 293.7,365.9 293.8,367.3 293.9,376.7 294.1,374.7 294.2,368.2 294.3,373.6 294.4,372.4 294.5,376.1 294.7,375.1 294.8,362.0 294.9,369.8 295.0,376.0 295.1,376.9 295.3,368.7 295.4,366.4 295.5,371.9 295.6,368.5 295.7,370.8 295.9,366.6 296.0,373.7 296.1,373.0 296.2,372.6 296.3,366.9 296.5,364.7 296.6,366.2 296.7,372.7 296.8,364.3 296.9,373.3 297.1,377.4 297.2,368.6 297.3,370.2 297.4,374.5 297.5,374.2 297.7,368.6 297.8,370.2 297.9,371.3 298.0,369.9 298.1,373.0 298.3,372.1 298.4,375.7 298.5,364.6 298.6,375.2 298.7,373.9 298.9,370.4 299.0,372.4 299.1,374.5 299.2,372.0 299.3,369.9 299.5,371.9 299.6,368.2 299.7,365.9 299.8,367.5 299.9,367.8 300.1,371.3 300.2,373.4 300.3,371.3 300.4,375.7 300.5,369.8 300.7,367.5 300.8,367.0 300.9,366.1 301.0,368.0 301.1,374.0 301.3,362.9 301.4,370.2 301.5,367.5 301.6,370.3 301.7,364.6 301.9,368.7 302.0,363.1 302.1,366.9 302.2,355.7 302.3,364.7 302.5,364.9 302.6,354.3 302.7,363.6 302.8,354.2 302.9,362.4 303.1,357.2 303.2,359.3 303.3,357.1 303.4,349.3 303.5,360.9 303.7,358.8 303.8,348.1 303.9,354.9 304.0,354.1 304.1,348.7 304.3,347.0 304.4,357.7 304.5,350.2 304.6,356.4 304.7,361.4 304.9,355.5 305.0,349.9 305.1,359.0 305.2,349.4 305.3,352.3 305.5,370.0 305.6,354.8 305.7,360.7 305.8,355.7 305.9,360.7 306.1,363.0 306.2,352.4 306.3,361.4 306.4,367.6 306.5,369.2 306.7,367.9 306.8,363.7 306.9,369.5 307.0,366.8 307.1,366.3 307.3,369.7 307.4,378.6 307.5,367.2 307.6,374.8 307.7,372.2 307.9,366.1 308.0,368.5 308.1,371.4 308.2,370.5 308.3,373.3 308.5,368.9 308.6,368.9 308.7,376.3 308.8,372.7 308.9,369.8 309.1,372.9 309.2,379.5 309.3,371.0 309.4,367.8 309.5,376.5 309.7,380.2 309.8,377.7 309.9,368.6 310.0,366.0 310.1,377.8 310.3,372.7 310.4,375.2 310.5,372.8 310.6,379.4 310.7,373.7 310.9,372.4 311.0,374.0 311.1,369.3 311.2,374.2 311.3,373.3 311.5,366.2 311.6,369.6 311.7,369.3 311.8,368.2 311.9,375.0 312.1,377.7 312.2,374.9 312.3,368.6 312.4,367.6 312.5,376.6 312.7,372.8 312.8,373.5 312.9,369.3 313.0,366.8 313.1,381.7 313.3,371.8 313.4,373.3 313.5,370.0 313.6,379.4 313.7,372.8 313.9,373.5 314.0,374.2 314.1,374.0 314.2,379.0 314.3,367.8 314.5,376.3 314.6,372.0 314.7,372.7 314.8,372.0 314.9,375.7 315.1,369.7 315.2,372.3 315.3,376.2 315.4,372.3 315.5,372.6 315.7,375.6 315.8,374.6 315.9,373.1 316.0,374.5 316.1,371.3 316.3,377.3 316.4,370.6 316.5,368.8 316.6,375.9 316.7,369.8 316.9,371.1 317.0,373.7 317.1,376.9 317.2,372.8 317.3,372.9 317.5,373.0 317.6,375.8 317.7,372.7 317.8,375.3 317.9,379.2 318.1,373.7 318.2,373.3 318.3,371.3 318.4,371.9 318.5,370.3 318.7,370.8 318.8,372.6 318.9,375.8 319.0,376.3 319.1,373.2 319.3,375.8 319.4,370.2 319.5,381.8 319.6,383.2 319.7,374.3 319.9,376.5 320.0,375.1 320.1,377.5 320.2,372.7 320.3,369.6 320.5,377.6 320.6,371.2 320.7,376.1 320.8,371.8 320.9,372.3 321.1,378.3 321.2,380.5 321.3,374.5 321.4,373.6 321.5,376.1 321.7,373.2 321.8,369.2 321.9,375.1 322.0,367.5 322.1,376.6 322.3,373.5 322.4,375.9 322.5,370.2 322.6,372.7 322.7,377.2 322.9,380.0 323.0,378.2 323.1,376.7 323.2,371.6 323.3,377.4 323.5,375.9 323.6,374.4 323.7,379.9 323.8,372.9 323.9,381.5 324.1,373.4 324.2,373.3 324.3,375.3 324.4,371.2 324.5,374.1 324.7,375.9 324.8,370.0 324.9,372.9 325.0,371.0 325.1,374.3 325.3,379.6 325.4,374.3 325.5,375.2 325.6,376.6 325.7,372.1 325.9,376.7 326.0,374.2 326.1,373.8 326.2,370.2 326.3,373.9 326.5,379.5 326.6,380.1 326.7,375.1 326.8,376.3 326.9,374.7 327.1,372.5 327.2,370.1 327.3,381.9 327.4,372.9 327.5,377.0 327.7,381.5 327.8,375.0 327.9,375.8 328.0,377.3 328.1,375.2 328.3,377.3 328.4,375.4 328.5,380.3 328.6,378.2 328.7,372.6 328.9,372.2 329.0,374.5 329.1,374.7 329.2,374.3 329.3,379.8 329.5,374.4 329.6,375.3 329.7,377.3 329.8,370.2 329.9,378.3 330.1,378.8 330.2,381.6 330.3,373.7 330.4,375.4 330.5,377.7 330.7,375.8 330.8,372.2 330.9,380.1 331.0,376.2 331.1,378.3 331.3,373.6 331.4,380.3 331.5,376.0 331.6,374.8 331.7,379.8 331.9,380.9 332.0,374.2 332.1,380.6 332.2,382.7 332.3,378.2 332.5,372.7 332.6,379.3 332.7,380.9 332.8,374.1 332.9,382.9 333.1,376.8 333.2,377.1 333.3,381.1 333.4,378.2 333.5,381.6 333.7,377.5 333.8,378.8 333.9,377.7 334.0,378.4 334.1,379.5 334.3,379.2 334.4,376.6 334.5,380.7 334.6,377.4 334.7,381.6 334.9,379.7 335.0,377.4 335.1,375.3 335.2,377.9 335.3,382.3 335.5,378.4 335.6,381.0 335.7,377.5 335.8,376.8 335.9,375.6 336.1,371.5 336.2,378.9 336.3,378.0 336.4,377.7 336.5,380.5 336.7,374.7 336.8,383.5 336.9,373.2 337.0,378.8 337.1,374.1 337.3,377.1 337.4,381.8 337.5,373.1 337.6,378.6 337.7,378.4 337.9,378.6 338.0,378.9 338.1,380.7 338.2,379.7 338.3,379.3 338.5,381.0 338.6,380.3 338.7,377.7 338.8,374.2 338.9,380.8 339.1,377.1 339.2,383.5 339.3,376.4 339.4,374.3 339.5,381.9 339.7,375.8 339.8,373.4 339.9,382.1 340.0,373.6 340.1,382.6 340.3,375.2 340.4,379.7 340.5,379.1 340.6,372.5 340.7,378.3 340.9,377.0 341.0,378.8 341.1,380.1 341.2,383.5 341.3,377.7 341.5,378.1 341.6,385.4 341.7,380.8 341.8,381.0 341.9,373.6 342.1,374.0 342.2,376.8 342.3,378.0 342.4,380.2 342.5,387.4 342.7,374.6 342.8,377.3 342.9,380.7 343.0,379.5 343.1,382.3 343.3,377.7 343.4,375.8 343.5,385.4 343.6,380.1 343.7,374.9 343.9,377.6 344.0,378.6 344.1,374.0 344.2,381.3 344.3,379.3 344.5,377.6 344.6,376.7 344.7,384.1 344.8,378.6 344.9,376.3 345.1,372.3 345.2,375.4 345.3,381.1 345.4,383.6 345.5,375.2 345.7,372.3 345.8,379.0 345.9,378.8 346.0,381.7 346.1,376.7 346.3,379.3 346.4,373.0 346.5,375.0 346.6,377.3 346.7,377.6 346.9,380.7 347.0,382.9 347.1,374.5 347.2,384.5 347.3,376.7 347.5,377.8 347.6,382.7 347.7,371.5 347.8,374.5 347.9,376.5 348.1,379.5 348.2,382.7 348.3,382.7 348.4,376.4 348.5,381.7 348.7,378.0 348.8,384.1 348.9,378.5 349.0,382.7 349.1,376.1 349.3,381.9 349.4,375.1 349.5,379.8 349.6,374.3 349.7,379.0 349.9,377.0 350.0,376.4 350.1,380.3 350.2,382.1 350.3,380.0 350.5,380.6 350.6,381.9 350.7,383.5 350.8,382.9 350.9,381.0 351.1,386.0 351.2,378.1 351.3,382.3 351.4,376.2 351.5,387.3 351.7,379.0 351.8,380.3 351.9,384.2 352.0,379.3 352.1,377.2 352.3,374.1 352.4,379.1 352.5,386.4 352.6,380.5 352.7,385.4 352.9,382.6 353.0,378.6 353.1,375.6 353.2,379.4 353.3,382.0 353.5,379.4 353.6,380.6 353.7,381.9 353.8,379.0 353.9,375.6 354.1,379.1 354.2,382.0 354.3,377.6 354.4,376.9 354.5,377.1 354.7,379.5 354.8,379.8 354.9,380.1 355.0,376.3 355.1,380.4 355.3,378.3 355.4,377.4 355.5,374.6 355.6,376.9 355.7,378.4 355.9,380.8 356.0,381.7 356.1,380.5 356.2,381.1 356.3,376.9 356.5,383.0 356.6,383.0 356.7,382.6 356.8,379.0 356.9,380.3 357.1,379.1 357.2,376.5 357.3,379.6 357.4,375.9 357.5,375.2 357.7,382.4 357.8,382.4 357.9,383.3 358.0,379.4 358.1,380.9 358.3,382.5 358.4,379.7 358.5,374.6 358.6,387.8 358.7,384.7 358.9,384.8 359.0,381.3 359.1,378.6 359.2,381.3 359.3,382.0 359.5,376.9 359.6,379.7 359.7,382.9 359.8,385.8 359.9,383.1 360.1,380.0 360.2,377.3 360.3,387.5 360.4,381.7 360.5,383.7 360.7,381.5 360.8,377.3 360.9,388.0 361.0,383.5 361.1,385.2 361.3,379.1 361.4,381.4 361.5,385.7 361.6,380.5 361.7,379.4 361.9,378.2 362.0,377.5 362.1,384.1 362.2,381.5 362.3,376.2 362.5,386.3 362.6,385.6 362.7,385.2 362.8,376.1 362.9,382.1 363.1,385.7 363.2,378.7 363.3,379.4 363.4,381.1 363.5,375.8 363.7,382.6 363.8,384.9 363.9,383.9 364.0,386.5 364.1,382.3 364.3,381.9 364.4,381.5 364.5,379.9 364.6,378.8 364.7,379.8 364.9,381.8 365.0,380.5 365.1,382.5 365.2,382.4 365.3,384.1 365.5,380.7 365.6,376.0 365.7,379.4 365.8,388.0 365.9,384.5 366.1,381.1 366.2,381.7 366.3,382.1 366.4,381.0 366.5,383.0 366.7,384.5 366.8,386.1 366.9,381.4 367.0,381.6 367.1,381.5 367.3,382.6 367.4,385.7 367.5,380.3 367.6,389.2 367.7,384.3 367.9,385.9 368.0,380.0 368.1,381.5 368.2,381.1 368.3,382.8 368.5,376.7 368.6,384.2 368.7,377.8 368.8,383.9 368.9,385.8 369.1,382.7 369.2,382.4 369.3,382.4 369.4,382.3 369.5,383.7 369.7,385.7 369.8,384.9 369.9,387.5 370.0,383.3 370.1,381.6 370.3,381.8 370.4,379.5 370.5,382.1 370.6,381.5 370.7,388.5 370.9,384.8 371.0,388.6 371.1,377.7 371.2,384.2 371.3,386.4 371.5,384.4 371.6,382.1 371.7,383.9 371.8,383.8 371.9,383.9 372.1,384.3 372.2,386.3 372.3,384.2 372.4,384.4 372.5,383.6 372.7,385.0 372.8,381.6 372.9,385.4 373.0,382.8 373.1,386.2 373.3,382.0 373.4,383.6 373.5,383.3 373.6,380.8 373.7,386.9 373.9,384.9 374.0,384.0 374.1,387.4 374.2,382.9 374.3,383.8 374.5,387.1 374.6,391.0 374.7,384.2 374.8,388.6 374.9,384.5 375.1,381.7 375.2,385.5 375.3,387.6 375.4,384.6 375.5,385.4 375.7,380.9 375.8,377.5 375.9,384.7 376.0,379.9 376.1,383.8 376.3,382.1 376.4,384.4 376.5,386.4 376.6,379.1 376.7,383.4 376.9,383.4 377.0,387.7 377.1,384.1 377.2,381.5 377.3,382.2 377.5,389.1 377.6,381.4 377.7,384.1 377.8,384.7 377.9,380.7 378.1,381.6 378.2,378.3 378.3,381.4 378.4,385.9 378.5,384.7 378.7,378.6 378.8,388.2 378.9,380.3 379.0,381.4 379.1,388.7 379.3,385.5 379.4,383.9 379.5,388.4 379.6,384.0 379.7,385.2 379.9,382.6 380.0,383.9 380.1,384.1 380.2,387.4 380.3,382.5 380.5,383.7 380.6,378.1 380.7,379.4 380.8,386.3 380.9,383.2 381.1,383.4 381.2,386.1 381.3,383.4 381.4,384.7 381.5,383.6 381.7,378.7 381.8,386.2 381.9,388.6 382.0,387.8 382.1,384.6 382.3,385.2 382.4,385.6 382.5,388.7 382.6,387.9 382.7,383.5 382.9,384.1 383.0,383.9 383.1,382.9 383.2,382.8 383.3,384.2 383.5,377.7 383.6,385.6 383.7,383.2 383.8,381.1 383.9,384.0 384.1,382.4 384.2,387.9 384.3,381.5 384.4,384.8 384.5,385.5 384.7,382.3 384.8,381.2 384.9,385.7 385.0,383.5 385.1,382.0 385.3,380.6 385.4,386.4 385.5,388.9 385.6,383.3 385.7,386.2 385.9,387.8 386.0,387.6 386.1,383.2 386.2,386.3 386.3,386.8 386.5,391.9 386.6,385.5 386.7,387.9 386.8,387.3 386.9,386.8 387.1,382.3 387.2,385.9 387.3,389.2 387.4,384.1 387.5,385.8 387.7,383.1 387.8,386.0 387.9,386.2 388.0,387.2 388.1,384.2 388.3,384.1 388.4,383.8 388.5,386.1 388.6,385.8 388.7,391.5 388.9,383.7 389.0,387.3 389.1,383.9 389.2,384.2 389.3,388.4 389.5,386.6 389.6,386.9 389.7,381.9 389.8,392.5 389.9,391.1 390.1,383.6 390.2,381.9 390.3,383.6 390.4,386.2 390.5,383.1 390.7,386.4 390.8,383.9 390.9,393.1 391.0,385.0 391.1,384.4 391.3,391.1 391.4,386.6 391.5,385.7 391.6,385.6 391.7,387.3 391.9,384.6 392.0,386.1 392.1,384.3 392.2,382.2 392.3,385.0 392.5,386.3 392.6,390.1 392.7,386.5 392.8,385.0 392.9,386.2 393.1,387.5 393.2,379.9 393.3,384.8 393.4,380.2 393.5,381.3 393.7,384.0 393.8,385.6 393.9,386.1 394.0,386.3 394.1,389.5 394.3,387.2 394.4,387.1 394.5,385.2 394.6,391.2 394.7,389.5 394.9,384.6 395.0,384.6 395.1,388.2 395.2,388.8 395.3,385.3 395.5,389.2 395.6,383.1 395.7,385.8 395.8,388.9 395.9,384.8 396.1,386.7 396.2,386.3 396.3,385.6 396.4,381.4 396.5,385.5 396.7,386.8 396.8,386.9 396.9,388.4 397.0,388.9 397.1,385.5 397.3,385.9 397.4,390.9 397.5,388.8 397.6,386.6 397.7,386.0 397.9,389.3 398.0,389.4 398.1,386.3 398.2,387.8 398.3,386.7 398.5,386.5 398.6,391.5 398.7,383.3 398.8,388.7 398.9,383.9 399.1,384.8 399.2,388.9 399.3,383.2 399.4,384.2 399.5,383.7 399.7,385.2 399.8,387.5 399.9,389.8 400.0,385.0 400.1,389.2 400.3,383.6 400.4,392.4 400.5,385.6 400.6,385.5 400.7,387.4 400.9,387.0 401.0,386.3 401.1,382.3 401.2,389.0 401.3,388.6 401.5,385.7 401.6,383.7 401.7,387.4 401.8,389.7 401.9,382.2 402.1,383.8 402.2,387.0 402.3,384.7 402.4,385.9 402.5,386.5 402.7,388.9 402.8,388.9 402.9,389.4 403.0,389.2 403.1,385.2 403.3,380.6 403.4,387.7 403.5,388.1 403.6,388.1 403.7,385.2 403.9,391.9 404.0,382.6 404.1,389.1 404.2,388.6 404.3,389.4 404.5,390.7 404.6,388.3 404.7,387.9 404.8,386.3 404.9,389.1 405.1,388.1 405.2,389.2 405.3,384.1 405.4,383.2 405.5,387.3 405.7,388.5 405.8,383.2 405.9,384.5 406.0,386.3 406.1,388.0 406.3,388.0 406.4,389.8 406.5,386.8 406.6,388.4 406.7,390.6 406.9,386.6 407.0,393.2 407.1,386.4 407.2,387.7 407.3,382.5 407.5,387.2 407.6,386.0 407.7,385.7 407.8,388.2 407.9,384.6 408.1,388.0 408.2,382.3 408.3,386.2 408.4,391.0 408.5,387.8 408.7,389.1 408.8,385.2 408.9,384.2 409.0,391.1 409.1,390.2 409.3,389.8 409.4,387.6 409.5,390.6 409.6,386.5 409.7,389.4 409.9,389.3 410.0,385.3 410.1,391.3 410.2,388.0 410.3,389.8 410.5,383.9 410.6,384.7 410.7,386.6 410.8,389.0 410.9,390.7 411.1,388.7 411.2,387.4 411.3,389.2 411.4,387.2 411.5,388.2 411.7,388.8 411.8,386.1 411.9,388.9 412.0,384.2 412.1,385.8 412.3,389.5 412.4,386.2 412.5,389.1 412.6,388.5 412.7,387.4 412.9,391.8 413.0,389.1 413.1,386.5 413.2,386.7 413.3,388.3 413.5,384.2 413.6,390.9 413.7,387.8 413.8,383.7 413.9,385.5 414.1,391.6 414.2,388.6 414.3,393.5 414.4,388.1 414.5,389.3 414.7,393.0 414.8,393.5 414.9,385.8 415.0,390.3 415.1,385.5 415.3,387.0 415.4,383.8 415.5,389.6 415.6,385.6 415.7,386.2 415.9,393.0 416.0,390.4 416.1,387.8 416.2,383.7 416.3,389.0 416.5,382.5 416.6,386.0 416.7,390.0 416.8,390.3 416.9,388.7 417.1,390.4 417.2,388.8 417.3,386.4 417.4,388.4 417.5,392.7 417.7,388.3 417.8,389.2 417.9,389.8 418.0,385.0 418.1,385.9 418.3,384.5 418.4,389.4 418.5,387.6 418.6,385.4 418.7,385.3 418.9,390.3 419.0,390.6 419.1,389.6 419.2,388.6 419.3,389.8 419.5,388.6 419.6,389.4 419.7,387.5 419.8,386.0 419.9,386.7 420.1,389.2 420.2,392.8 420.3,386.5 420.4,385.8 420.5,390.4 420.7,390.4 420.8,386.8 420.9,387.2 421.0,387.2 421.1,389.5 421.3,396.3 421.4,386.9 421.5,389.4 421.6,387.4 421.7,389.1 421.9,389.7 422.0,389.4 422.1,386.2 422.2,386.3 422.3,391.0 422.5,389.4 422.6,389.2 422.7,390.2 422.8,386.9 422.9,391.7 423.1,386.7 423.2,386.1 423.3,386.3 423.4,388.5 423.5,395.3 423.7,388.9 423.8,389.5 423.9,392.6 424.0,387.9 424.1,385.3 424.3,387.3 424.4,387.9 424.5,384.8 424.6,388.2 424.7,389.1 424.9,393.8 425.0,390.8 425.1,389.2 425.2,387.6 425.3,387.1 425.5,384.4 425.6,388.5 425.7,383.3 425.8,388.5 425.9,392.9 426.1,387.9 426.2,389.9 426.3,386.8 426.4,384.3 426.5,389.6 426.7,388.3 426.8,390.1 426.9,389.3 427.0,390.5 427.1,387.8 427.3,390.3 427.4,391.5 427.5,387.7 427.6,388.2 427.7,391.6 427.9,390.3 428.0,388.5 428.1,385.3 428.2,388.4 428.3,392.7"/>
<polyline points="111.7,-30.0 111.7,-29.4 111.7,-28.8 111.7,-28.2 111.7,-27.6 111.7,-27.0 111.7,-26.4 111.7,-25.8 111.7,-25.2 111.7,-24.6 111.7,-24.0 111.7,-23.4 111.8,-22.8 111.8,-22.2 111.8,-21.6 111.8,-21.0 111.8,-20.4 111.8,-19.8 111.8,-19.2 111.8,-18.6 111.8,-18.0 111.8,-17.4 111.8,-16.8 111.8,-16.2 111.8,-15.6 111.8,-15.0 111.8,-14.4 111.8,-13.8 111.8,-13.2 111.8,-12.6 111.8,-12.0 111.8,-11.4 111.8,-10.8 111.8,-10.2 111.8,-9.6 111.8,-9.0 111.9,-8.4 111.9,-7.8 111.9,-7.2 111.9,-6.6 111.9,-6.0 111.9,-5.4 111.9,-4.8 111.9,-4.2 111.9,-3.6 111.9,-3.0 111.9,-2.4 111.9,-1.8 111.9,-1.2 111.9,-0.6 111.9,0.0 111.9,0.6 111.9,1.2 111.9,1.8 111.9,2.4 111.9,3.0 111.9,3.6 111.9,4.2 111.9,4.8 111.9,5.4 112.0,6.0 112.0,6.6 112.0,7.2 112.0,7.8 112.0,8.4 112.0,9.0 112.0,9.6 112.0,10.2 112.0,10.8 112.0,11.4 112.0,12.0 112.0,12.6 112.0,13.2 112.0,13.8 112.0,14.4 112.0,15.0 112.0,15.6 112.0,16.2 112.0,16.8 112.0,17.4 112.1,18.0 112.1,18.6 112.1,19.2 112.1,19.8 112.1,20.4 112.1,21.0 112.1,21.6 112.1,22.2 112.1,22.8 112.1,23.4 112.1,24.0 112.1,24.6 112.1,25.2 112.1,25.8 112.1,26.4 112.1,27.0 112.1,27.6 112.2,28.2 112.2,28.8 112.2,29.4 112.2,30.0 112.2,30.6 112.2,31.2 112.2,31.8 112.2,32.4 112.2,33.0 112.2,33.6 112.2,34.2 112.2,34.8 112.2,35.4 112.2,36.0 112.2,36.6 112.2,37.2 112.3,37.8 112.3,38.4 112.3,39.0 112.3,39.6 112.3,40.2 112.3,40.8 112.3,41.4 112.3,42.0 112.3,42.6 112.3,43.2 112.3,43.8 112.3,44.4 112.3,45.0 112.3,45.6 112.3,46.2 112.3,46.8 112.3,47.4 112.4,48.0 112.4,48.6 112.4,49.2 112.4,49.8 112.4,50.4 112.4,51.0 112.4,51.6 112.4,52.2 112.4,52.8 112.4,53.4 112.4,54.0 112.4,54.6 112.4,55.2 112.4,55.8 112.4,56.4 112.4,57.0 112.5,57.6 112.5,58.2 112.5,58.8 112.5,59.4 112.5,60.0 112.5,60.6 112.5,61.2 112.5,61.8 112.5,62.4 112.5,63.0 112.5,63.6 112.5,64.2 112.5,64.8 112.5,65.4 112.5,66.0 112.5,66.6 112.5,67.2 112.6,67.8 112.6,68.4 112.6,69.0 112.6,69.6 112.6,70.2 112.6,70.8 112.6,71.4 112.6,72.0 112.6,72.6 112.6,73.2 112.6,73.8 112.6,74.4 112.6,75.0 112.6,75.6 112.6,76.2 112.6,76.8 112.7,77.4 112.7,78.0 112.7,78.6 112.7,79.2 112.7,79.8 112.7,80.4 112.7,81.0 112.7,81.6 112.7,82.2 112.7,82.8 112.7,83.4 112.7,84.0 112.7,84.6 112.7,85.2 112.8,85.8 112.8,86.4 112.8,87.0 112.8,87.6 112.8,88.2 112.8,88.8 112.8,89.4 112.8,90.0 112.8,90.6 112.8,91.2 112.8,91.8 112.8,92.4 112.9,93.0 112.9,93.6 112.9,94.2 112.9,94.8 112.9,95.4 112.9,96.0 112.9,96.6 112.9,97.2 112.9,97.8 112.9,98.4 112.9,99.0 112.9,99.6 113.0,100.2 113.0,100.8 113.0,101.4 113.0,102.0 113.0,102.6 113.0,103.2 113.0,103.8 113.0,104.4 113.0,105.0 113.0,105.6 113.0,106.2 113.0,106.8 113.1,107.4 113.1,108.0 113.1,108.6 113.1,109.2 113.1,109.8 113.1,110.4 113.1,111.0 113.1,111.6 113.1,112.2 113.1,112.8 113.1,113.4 113.1,114.0 113.2,114.6 113.2,115.2 113.2,115.8 113.2,116.4 113.2,117.0 113.2,117.6 113.2,118.2 113.2,118.8 113.2,119.4 113.2,120.0 113.2,120.6 113.2,121.2 113.3,121.8 113.3,122.4 113.3,123.0 113.3,123.6 113.3,124.2 113.3,124.8 113.3,125.4 113.3,126.0 113.3,126.6 113.3,127.2 113.4,127.8 113.4,128.4 113.4,129.0 113.4,129.6 113.4,130.2 113.4,130.8 113.4,131.4 113.4,132.0 113.5,132.6 113.5,133.2 113.5,133.8 113.5,134.4 113.5,135.0 113.5,135.6 113.5,136.2 113.5,136.8 113.5,137.4 113.6,138.0 113.6,138.6 113.6,139.2 113.6,139.8 113.6,140.4 113.6,141.0 113.6,141.6 113.6,142.2 113.7,142.8 113.7,143.4 113.7,144.0 113.7,144.6 113.7,145.2 113.7,145.8 113.7,146.4 113.7,147.0 113.8,147.6 113.8,148.2 113.8,148.8 113.8,149.4 113.8,150.0 113.9,150.6 113.9,151.2 114.0,151.8 114.1,152.4 114.1,153.0 114.2,153.6 114.3,154.2 114.4,154.8 114.4,155.4 114.5,156.0 114.6,156.6 114.6,157.2 114.7,157.8 114.8,158.4 114.8,159.0 114.9,159.6 115.0,160.2 115.0,160.8 115.1,161.4 115.2,162.0 115.3,162.6 115.3,167.6 115.4,155.5 115.5,171.3 115.7,171.3 115.8,176.7 115.9,169.4 116.0,164.9 116.1,177.8 116.3,173.9 116.4,159.0 116.5,174.8 116.6,169.2 116.7,177.7 116.9,169.2 117.0,176.5 117.1,173.4 117.2,176.1 117.3,172.9 117.5,171.0 117.6,174.3 117.7,178.1 117.8,177.3 117.9,184.8 118.1,178.2 118.2,179.9 118.3,189.0 118.4,177.5 118.5,180.8 118.7,174.6 118.8,178.8 118.9,188.5 119.0,181.3 119.1,188.3 119.3,174.3 119.4,172.8 119.5,183.0 119.6,173.9 119.7,197.2 119.9,189.5 120.0,175.8 120.1,182.3 120.2,180.4 120.3,186.3 120.5,184.0 120.6,189.9 120.7,193.2 120.8,184.2 120.9,179.3 121.1,189.2 121.2,185.5 121.3,193.1 121.4,186.3 121.5,192.0 121.7,189.7 121.8,187.2 121.9,186.1 122.0,192.7 122.1,202.9 122.3,194.1 122.4,189.2 122.5,194.0 122.6,191.2 122.7,184.0 122.9,192.9 123.0,199.8 123.1,190.2 123.2,186.2 123.3,195.1 123.5,202.5 123.6,198.1 123.7,198.8 123.8,205.9 123.9,202.6 124.1,198.1 124.2,193.6 124.3,195.7 124.4,194.7 124.5,200.0 124.7,191.3 124.8,204.1 124.9,197.2 125.0,194.6 125.1,201.2 125.3,186.6 125.4,193.3 125.5,194.5 125.6,202.3 125.7,195.9 125.9,205.9 126.0,196.7 126.1,201.8 126.2,195.9 126.3,205.5 126.5,198.7 126.6,202.8 126.7,198.0 126.8,195.3 126.9,199.9 127.1,206.7 127.2,196.5 127.3,194.2 127.4,200.5 127.5,206.1 127.7,197.3 127.8,200.1 127.9,203.9 128.0,201.6 128.1,204.9 128.3,209.5 128.4,204.1 128.5,203.9 128.6,208.2 128.7,204.4 128.9,200.3 129.0,200.3 129.1,200.0 129.2,214.8 129.3,205.6 129.5,208.8 129.6,209.7 129.7,202.0 129.8,209.7 129.9,204.3 130.1,197.3 130.2,206.4 130.3,202.6 130.4,206.3 130.5,209.7 130.7,219.0 130.8,206.2 130.9,207.9 131.0,210.7 131.1,210.0 131.3,208.6 131.4,204.6 131.5,205.4 131.6,209.2 131.7,204.9 131.9,207.4 132.0,204.9 132.1,216.0 132.2,204.2 132.3,219.9 132.5,208.8 132.6,206.9 132.7,206.5 132.8,215.6 132.9,216.9 133.1,208.7 133.2,214.2 133.3,212.2 133.4,212.0 133.5,214.0 133.7,216.9 133.8,205.2 133.9,204.0 134.0,215.0 134.1,214.0 134.3,217.5 134.4,207.2 134.5,210.6 134.6,221.9 134.7,209.6 134.9,217.1 135.0,212.2 135.1,214.1 135.2,210.0 135.3,221.3 135.5,208.1 135.6,211.4 135.7,212.8 135.8,221.9 135.9,218.3 136.1,220.1 136.2,217.3 136.3,218.6 136.4,219.8 136.5,224.5 136.7,219.1 136.8,212.0 136.9,223.2 137.0,218.9 137.1,214.0 137.3,218.0 137.4,214.8 137.5,227.8 137.6,217.8 137.7,211.0 137.9,220.8 138.0,216.2 138.1,225.1 138.2,220.5 138.3,212.6 138.5,218.1 138.6,215.8 138.7,217.3 138.8,217.9 138.9,212.4 139.1,221.6 139.2,217.3 139.3,217.3 139.4,224.2 139.5,229.0 139.7,218.8 139.8,228.9 139.9,213.2 140.0,224.0 140.1,219.4 140.3,221.6 140.4,218.0 140.5,219.7 140.6,220.9 140.7,220.9 140.9,224.1 141.0,231.9 141.1,220.0 141.2,222.1 141.3,215.8 141.5,212.8 141.6,228.6 141.7,217.8 141.8,220.2 141.9,223.4 142.1,227.1 142.2,224.8 142.3,231.1 142.4,223.0 142.5,216.6 142.7,224.5 142.8,224.5 142.9,220.9 143.0,223.0 143.1,222.1 143.3,231.3 143.4,222.1 143.5,219.1 143.6,225.7 143.7,217.4 143.9,226.1 144.0,225.7 144.1,220.1 144.2,220.4 144.3,218.9 144.5,226.4 144.6,219.1 144.7,209.5 144.8,206.2 144.9,208.3 145.1,205.6 145.2,199.2 145.3,202.4 145.4,198.9 145.5,205.2 145.7,203.0 145.8,202.4 145.9,206.2 146.0,204.7 146.1,216.2 146.3,217.2 146.4,216.8 146.5,221.6 146.6,221.1 146.7,234.7 146.9,224.5 147.0,229.1 147.1,229.2 147.2,225.3 147.3,228.6 147.5,227.7 147.6,230.0 147.7,230.2 147.8,232.3 147.9,232.5 148.1,228.2 148.2,227.9 148.3,227.9 148.4,227.0 148.5,223.9 148.7,232.6 148.8,230.3 148.9,229.9 149.0,224.9 149.1,225.6 149.3,222.1 149.4,230.9 149.5,233.8 149.6,233.6 149.7,231.4 149.9,227.9 150.0,231.9 150.1,232.0 150.2,234.6 150.3,235.0 150.5,231.4 150.6,232.4 150.7,235.0 150.8,234.3 150.9,232.2 151.1,225.4 151.2,230.7 151.3,236.1 151.4,233.8 151.5,236.7 151.7,232.3 151.8,233.8 151.9,236.4 152.0,236.1 152.1,235.2 152.3,237.7 152.4,238.6 152.5,238.9 152.6,228.5 152.7,232.6 152.9,233.2 153.0,233.2 153.1,229.0 153.2,239.0 153.3,231.3 153.5,235.1 153.6,226.7 153.7,233.2 153.8,234.1 153.9,231.9 154.1,237.6 154.2,243.2 154.3,232.3 154.4,232.4 154.5,241.3 154.7,237.4 154.8,234.5 154.9,231.3 155.0,238.1 155.1,236.4 155.3,241.0 155.4,233.0 155.5,235.3 155.6,235.0 155.7,235.3 155.9,239.6 156.0,238.9 156.1,234.1 156.2,236.0 156.3,235.6 156.5,239.3 156.6,235.8 156.7,232.8 156.8,235.4 156.9,236.4 157.1,239.6 157.2,240.8 157.3,240.9 157.4,237.9 157.5,235.1 157.7,238.7 157.8,236.2 157.9,234.9 158.0,237.9 158.1,238.3 158.3,239.8 158.4,234.1 158.5,231.7 158.6,238.8 158.7,234.0 158.9,240.4 159.0,233.6 159.1,235.3 159.2,231.4 159.3,243.9 159.5,235.8 159.6,237.1 159.7,235.7 159.8,236.6 159.9,240.1 160.1,237.8 160.2,237.4 160.3,241.3 160.4,233.1 160.5,241.2 160.7,242.7 160.8,233.1 160.9,238.5 161.0,233.5 161.1,230.8 161.3,234.9 161.4,239.3 161.5,240.1 161.6,236.5 161.7,234.9 161.9,236.3 162.0,235.4 162.1,235.7 162.2,230.0 162.3,237.0 162.5,237.4 162.6,244.8 162.7,240.0 162.8,237.4 162.9,238.1 163.1,238.9 163.2,235.6 163.3,231.2 163.4,235.5 163.5,237.2 163.7,238.3 163.8,235.6 163.9,234.9 164.0,237.0 164.1,238.1 164.3,239.7 164.4,237.1 164.5,239.3 164.6,234.7 164.7,240.5 164.9,237.7 165.0,233.6 165.1,237.1 165.2,238.3 165.3,234.5 165.5,240.2 165.6,236.8 165.7,239.4 165.8,234.7 165.9,238.9 166.1,240.2 166.2,236.5 166.3,237.3 166.4,236.1 166.5,239.0 166.7,238.0 166.8,239.5 166.9,237.7 167.0,233.8 167.1,233.7 167.3,236.5 167.4,239.4 167.5,245.2 167.6,240.7 167.7,236.0 167.9,231.4 168.0,239.6 168.1,238.0 168.2,234.0 168.3,240.8 168.5,237.9 168.6,236.6 168.7,231.7 168.8,241.0 168.9,238.1 169.1,237.1 169.2,234.8 169.3,236.7 169.4,241.9 169.5,239.6 169.7,244.3 169.8,241.3 169.9,239.0 170.0,240.8 170.1,238.4 170.3,233.3 170.4,236.0 170.5,239.0 170.6,234.9 170.7,236.3 170.9,233.9 171.0,243.3 171.1,233.7 171.2,234.6 171.3,235.1 171.5,241.0 171.6,241.5 171.7,236.2 171.8,239.8 171.9,235.1 172.1,237.9 172.2,246.3 172.3,241.0 172.4,237.8 172.5,233.7 172.7,237.0 172.8,233.7 172.9,230.9 173.0,239.9 173.1,239.8 173.3,238.6 173.4,241.1 173.5,232.6 173.6,242.4 173.7,234.5 173.9,239.2 174.0,239.4 174.1,241.4 174.2,244.3 174.3,239.1 174.5,236.7 174.6,234.4 174.7,238.8 174.8,235.2 174.9,233.6 175.1,237.3 175.2,240.1 175.3,237.0 175.4,234.6 175.5,238.4 175.7,234.0 175.8,233.1 175.9,242.6 176.0,238.7 176.1,244.3 176.3,233.2 176.4,241.3 176.5,237.4 176.6,246.5 176.7,237.3 176.9,236.5 177.0,239.3 177.1,238.5 177.2,236.5 177.3,240.9 177.5,240.2 177.6,240.8 177.7,239.2 177.8,235.7 177.9,235.7 178.1,239.8 178.2,234.9 178.3,243.4 178.4,238.0 178.5,235.4 178.7,241.3 178.8,237.9 178.9,241.8 179.0,238.6 179.1,243.6 179.3,236.7 179.4,230.9 179.5,233.1 179.6,232.7 179.7,239.8 179.9,243.7 180.0,237.3 180.1,233.7 180.2,240.1 180.3,239.4 180.5,236.7 180.6,239.2 180.7,238.0 180.8,234.2 180.9,240.1 181.1,236.3 181.2,234.9 181.3,237.2 181.4,242.9 181.5,244.2 181.7,242.4 181.8,236.3 181.9,234.6 182.0,239.0 182.1,237.4 182.3,238.4 182.4,234.3 182.5,235.1 182.6,234.5 182.7,240.4 182.9,241.3 183.0,235.7 183.1,239.8 183.2,240.0 183.3,235.6 183.5,238.0 183.6,240.5 183.7,234.7 183.8,241.9 183.9,237.3 184.1,238.1 184.2,237.1 184.3,233.2 184.4,239.0 184.5,237.9 184.7,236.6 184.8,237.2 184.9,239.3 185.0,237.4 185.1,236.2 185.3,238.2 185.4,240.3 185.5,238.0 185.6,235.4 185.7,240.6 185.9,237.0 186.0,239.8 186.1,237.4 186.2,234.9 186.3,233.8 186.5,235.0 186.6,237.2 186.7,230.7 186.8,239.1 186.9,241.4 187.1,237.1 187.2,234.4 187.3,232.6 187.4,238.6 187.5,239.2 187.7,238.1 187.8,240.1 187.9,235.7 188.0,237.1 188.1,238.8 188.3,237.2 188.4,239.5 188.5,239.5 188.6,237.0 188.7,234.8 188.9,235.6 189.0,241.4 189.1,234.0 189.2,238.1 189.3,234.7 189.5,245.3 189.6,235.9 189.7,239.9 189.8,234.8 189.9,248.1 190.1,233.6 190.2,239.0 190.3,233.9 190.4,240.5 190.5,233.9 190.7,236.5 190.8,232.8 190.9,236.6 191.0,237.9 191.1,243.5 191.3,230.5 191.4,239.6 191.5,238.0 191.6,235.9 191.7,237.2 191.9,239.1 192.0,237.8 192.1,237.7 192.2,235.4 192.3,236.6 192.5,239.4 192.6,234.9 192.7,236.2 192.8,238.1 192.9,238.9 193.1,239.1 193.2,237.2 193.3,231.4 193.4,240.3 193.5,241.1 193.7,241.7 193.8,239.0 193.9,240.6 194.0,236.9 194.1,234.3 194.3,237.3 194.4,237.1 194.5,241.1 194.6,240.4 194.7,236.2 194.9,236.5 195.0,237.7 195.1,238.1 195.2,242.4 195.3,236.3 195.5,242.0 195.6,233.4 195.7,235.7 195.8,243.2 195.9,239.1 196.1,238.1 196.2,239.7 196.3,237.1 196.4,238.0 196.5,238.5 196.7,238.5 196.8,238.9 196.9,236.0 197.0,239.0 197.1,235.5 197.3,239.7 197.4,237.3 197.5,238.6 197.6,238.7 197.7,235.4 197.9,236.1 198.0,237.3 198.1,239.2 198.2,240.8 198.3,237.6 198.5,235.6 198.6,238.6 198.7,237.7 198.8,240.2 198.9,241.6 199.1,244.0 199.2,232.5 199.3,236.3 199.4,237.6 199.5,240.3 199.7,239.9 199.8,238.0 199.9,240.2 200.0,236.0 200.1,236.6 200.3,238.7 200.4,234.4 200.5,242.8 200.6,235.3 200.7,234.2 200.9,238.8 201.0,231.7 201.1,236.4 201.2,237.3 201.3,241.9 201.5,247.5 201.6,238.3 201.7,233.7 201.8,238.6 201.9,239.9 202.1,234.9 202.2,238.9 202.3,242.8 202.4,239.4 202.5,235.3 202.7,236.0 202.8,232.6 202.9,236.4 203.0,236.0 203.1,242.2 203.3,232.9 203.4,232.8 203.5,238.4 203.6,239.7 203.7,236.0 203.9,238.4 204.0,239.9 204.1,240.1 204.2,239.0 204.3,239.5 204.5,232.9 204.6,240.3 204.7,238.2 204.8,235.2 204.9,236.5 205.1,236.9 205.2,236.0 205.3,237.3 205.4,236.5 205.5,233.2 205.7,244.6 205.8,239.0 205.9,244.8 206.0,236.9 206.1,242.9 206.3,237.4 206.4,242.8 206.5,240.7 206.6,240.2 206.7,237.2 206.9,238.5 207.0,242.0 207.1,231.4 207.2,235.6 207.3,233.8 207.5,234.9 207.6,239.8 207.7,240.5 207.8,237.2 207.9,241.4 208.1,235.4 208.2,235.9 208.3,238.2 208.4,239.1 208.5,237.4 208.7,234.4 208.8,239.6 208.9,243.2 209.0,236.6 209.1,237.9 209.3,234.3 209.4,237.8 209.5,234.9 209.6,238.4 209.7,242.8 209.9,239.5 210.0,235.5 210.1,240.4 210.2,232.3 210.3,241.7 210.5,238.8 210.6,234.4 210.7,236.8 210.8,234.9 210.9,244.2 211.1,239.6 211.2,234.6 211.3,235.6 211.4,238.3 211.5,236.0 211.7,238.5 211.8,239.0 211.9,233.1 212.0,239.7 212.1,243.1 212.3,238.8 212.4,239.8 212.5,236.1 212.6,236.1 212.7,238.7 212.9,235.0 213.0,232.6 213.1,240.4 213.2,235.7 213.3,238.5 213.5,238.1 213.6,239.1 213.7,239.7 213.8,239.5 213.9,236.8 214.1,240.4 214.2,236.6 214.3,238.9 214.4,235.8 214.5,238.0 214.7,235.1 214.8,242.2 214.9,238.8 215.0,235.5 215.1,232.1 215.3,235.5 215.4,242.0 215.5,235.7 215.6,240.9 215.7,237.1 215.9,236.7 216.0,234.4 216.1,238.7 216.2,241.1 216.3,240.3 216.5,239.5 216.6,234.5 216.7,238.1 216.8,234.1 216.9,235.1 217.1,238.9 217.2,234.4 217.3,239.3 217.4,236.8 217.5,242.3 217.7,237.2 217.8,239.3 217.9,240.9 218.0,239.6 218.1,239.7 218.3,232.2 218.4,240.5 218.5,232.6 218.6,235.5 218.7,229.9 218.9,236.6 219.0,235.5 219.1,236.9 219.2,234.5 219.3,237.1 219.5,235.4 219.6,237.1 219.7,240.3 219.8,230.8 219.9,237.5 220.1,237.2 220.2,232.8 220.3,236.3 220.4,242.2 220.5,238.9 220.7,235.9 220.8,240.0 220.9,238.9 221.0,233.6 221.1,236.6 221.3,237.6 221.4,237.8 221.5,238.8 221.6,237.8 221.7,237.9 221.9,236.1 222.0,236.6 222.1,236.1 222.2,239.4 222.3,237.4 222.5,235.9 222.6,240.2 222.7,245.5 222.8,237.4 222.9,241.9 223.1,236.2 223.2,238.6 223.3,240.8 223.4,241.5 223.5,244.7 223.7,236.5 223.8,238.3 223.9,242.4 224.0,242.2 224.1,235.4 224.3,238.1 224.4,241.3 224.5,242.0 224.6,235.1 224.7,239.3 224.9,231.1 225.0,241.4 225.1,243.8 225.2,234.7 225.3,237.5 225.5,233.7 225.6,236.7 225.7,239.9 225.8,240.1 225.9,239.5 226.1,233.8 226.2,235.5 226.3,244.2 226.4,239.0 226.5,236.9 226.7,239.0 226.8,236.4 226.9,238.8 227.0,235.8 227.1,236.1 227.3,233.3 227.4,243.8 227.5,240.5 227.6,240.2 227.7,241.0 227.9,237.9 228.0,234.8 228.1,239.9 228.2,240.5 228.3,240.0 228.5,237.1 228.6,233.5 228.7,240.8 228.8,239.6 228.9,238.1 229.1,237.6 229.2,237.9 229.3,236.6 229.4,233.7 229.5,238.0 229.7,237.0 229.8,239.4 229.9,237.4 230.0,239.3 230.1,234.5 230.3,239.8 230.4,244.9 230.5,238.1 230.6,240.4 230.7,241.2 230.9,239.5 231.0,239.2 231.1,233.5 231.2,235.8 231.3,243.3 231.5,239.1 231.6,239.1 231.7,244.6 231.8,233.0 231.9,241.8 232.1,240.5 232.2,232.3 232.3,236.4 232.4,239.8 232.5,236.2 232.7,236.0 232.8,240.3 232.9,237.8 233.0,239.0 233.1,237.9 233.3,238.8 233.4,239.3 233.5,245.4 233.6,239.7 233.7,236.1 233.9,239.6 234.0,239.2 234.1,248.8 234.2,233.8 234.3,240.5 234.5,239.1 234.6,243.2 234.7,235.0 234.8,234.4 234.9,239.4 235.1,240.9 235.2,239.6 235.3,240.2 235.4,238.1 235.5,241.4 235.7,238.6 235.8,236.6 235.9,242.8 236.0,235.4 236.1,233.0 236.3,236.8 236.4,237.6 236.5,237.8 236.6,237.1 236.7,239.2 236.9,236.9 237.0,235.2 237.1,242.4 237.2,237.4 237.3,241.4 237.5,238.4 237.6,239.4 237.7,242.8 237.8,231.8 237.9,241.4 238.1,238.0 238.2,240.5 238.3,236.3 238.4,237.7 238.5,237.2 238.7,234.1 238.8,237.4 238.9,243.4 239.0,241.7 239.1,242.1 239.3,236.8 239.4,236.9 239.5,236.1 239.6,230.8 239.7,236.7 239.9,235.0 240.0,240.2 240.1,240.4 240.2,238.8 240.3,234.4 240.5,235.4 240.6,241.6 240.7,238.3 240.8,240.5 240.9,235.8 241.1,240.3 241.2,236.1 241.3,235.6 241.4,238.0 241.5,234.8 241.7,233.3 241.8,241.5 241.9,239.3 242.0,235.5 242.1,236.9 242.3,240.7 242.4,235.3 242.5,229.0 242.6,244.3 242.7,232.1 242.9,235.4 243.0,229.7 243.1,229.6 243.2,237.9 243.3,232.5 243.5,238.8 243.6,236.2 243.7,236.1 243.8,238.7 243.9,238.8 244.1,241.1 244.2,232.1 244.3,234.1 244.4,238.8 244.5,239.1 244.7,234.7 244.8,232.4 244.9,236.5 245.0,226.6 245.1,230.9 245.3,240.1 245.4,232.1 245.5,243.1 245.6,236.7 245.7,237.2 245.9,245.2 246.0,239.2 246.1,235.2 246.2,234.4 246.3,234.1 246.5,229.3 246.6,237.4 246.7,236.2 246.8,233.8 246.9,239.0 247.1,234.0 247.2,230.2 247.3,232.3 247.4,235.8 247.5,236.9 247.7,242.1 247.8,234.5 247.9,237.5 248.0,239.2 248.1,237.8 248.3,236.7 248.4,231.9 248.5,234.4 248.6,242.9 248.7,236.2 248.9,235.5 249.0,231.7 249.1,236.4 249.2,241.3 249.3,233.5 249.5,232.4 249.6,235.3 249.7,233.8 249.8,233.2 249.9,242.6 250.1,237.9 250.2,230.6 250.3,235.1 250.4,238.3 250.5,234.2 250.7,237.9 250.8,231.4 250.9,236.9 251.0,235.0 251.1,237.0 251.3,234.9 251.4,232.8 251.5,236.4 251.6,236.6 251.7,237.2 251.9,230.4 252.0,233.3 252.1,234.2 252.2,234.0 252.3,233.6 252.5,235.2 252.6,239.4 252.7,240.6 252.8,238.7 252.9,236.6 253.1,223.8 253.2,232.5 253.3,236.5 253.4,231.6 253.5,238.5 253.7,232.4 253.8,235.2 253.9,233.2 254.0,235.5 254.1,229.7 254.3,233.5 254.4,231.7 254.5,230.8 254.6,229.0 254.7,237.8 254.9,230.7 255.0,236.9 255.1,233.9 255.2,235.9 255.3,234.3 255.5,234.1 255.6,230.0 255.7,243.2 255.8,237.8 255.9,237.5 256.1,226.6 256.2,231.8 256.3,231.6 256.4,234.7 256.5,231.7 256.7,236.2 256.8,234.3 256.9,236.7 257.0,237.8 257.1,231.1 257.3,231.8 257.4,230.7 257.5,236.7 257.6,233.5 257.7,232.3 257.9,229.4 258.0,235.0 258.1,233.7 258.2,234.1 258.3,232.5 258.5,228.7 258.6,238.0 258.7,233.7 258.8,234.5 258.9,231.1 259.1,238.2 259.2,230.7 259.3,231.9 259.4,230.5 259.5,229.7 259.7,236.1 259.8,231.9 259.9,229.9 260.0,232.9 260.1,232.4 260.3,233.5 260.4,231.3 260.5,234.1 260.6,227.5 260.7,229.9 260.9,235.4 261.0,235.6 261.1,226.1 261.2,233.2 261.3,231.2 261.5,234.7 261.6,226.0 261.7,230.3 261.8,231.2 261.9,222.2 262.1,224.2 262.2,229.8 262.3,225.2 262.4,229.6 262.5,227.3 262.7,222.1 262.8,228.4 262.9,230.3 263.0,227.6 263.1,234.1 263.3,226.4 263.4,231.5 263.5,231.0 263.6,229.6 263.7,227.6 263.9,225.7 264.0,228.6 264.1,232.3 264.2,230.9 264.3,232.4 264.5,232.2 264.6,231.3 264.7,233.7 264.8,235.8 264.9,227.8 265.1,233.8 265.2,227.2 265.3,240.5 265.4,229.7 265.5,231.5 265.7,235.9 265.8,234.3 265.9,236.1 266.0,237.8 266.1,231.8 266.3,239.7 266.4,230.6 266.5,231.8 266.6,235.9 266.7,224.7 266.9,230.6 267.0,232.1 267.1,235.7 267.2,230.4 267.3,235.8 267.5,229.2 267.6,236.2 267.7,235.4 267.8,231.0 267.9,231.8 268.1,232.1 268.2,231.4 268.3,230.8 268.4,237.5 268.5,234.2 268.7,234.3 268.8,227.4 268.9,232.6 269.0,236.5 269.1,233.1 269.3,230.9 269.4,232.3 269.5,235.5 269.6,232.1 269.7,225.3 269.9,230.0 270.0,233.1 270.1,227.2 270.2,232.6 270.3,234.2 270.5,240.3 270.6,237.7 270.7,233.9 270.8,226.4 270.9,233.6 271.1,227.5 271.2,228.9 271.3,236.4 271.4,229.8 271.5,234.9 271.7,233.2 271.8,235.8 271.9,231.9 272.0,232.0 272.1,237.9 272.3,234.9 272.4,233.8 272.5,232.6 272.6,234.5 272.7,232.1 272.9,234.6 273.0,232.2 273.1,226.5 273.2,226.7 273.3,230.2 273.5,239.5 273.6,237.4 273.7,231.1 273.8,229.7 273.9,230.7 274.1,231.7 274.2,236.7 274.3,230.5 274.4,227.2 274.5,230.7 274.7,228.2 274.8,237.7 274.9,231.9 275.0,232.7 275.1,232.2 275.3,225.6 275.4,233.2 275.5,234.1 275.6,230.9 275.7,233.6 275.9,231.1 276.0,232.0 276.1,235.2 276.2,230.9 276.3,234.1 276.5,232.6 276.6,232.4 276.7,230.6 276.8,229.8 276.9,232.4 277.1,236.5 277.2,233.7 277.3,236.6 277.4,232.4 277.5,226.8 277.7,236.5 277.8,232.2 277.9,236.2 278.0,235.0 278.1,235.3 278.3,234.0 278.4,221.9 278.5,235.3 278.6,233.4 278.7,235.0 278.9,235.5 279.0,233.5 279.1,234.7 279.2,227.2 279.3,232.7 279.5,234.9 279.6,234.7 279.7,229.3 279.8,225.9 279.9,230.2 280.1,232.5 280.2,233.3 280.3,238.1 280.4,236.7 280.5,229.7 280.7,234.6 280.8,230.9 280.9,235.2 281.0,230.0 281.1,236.9 281.3,230.4 281.4,231.1 281.5,229.1 281.6,235.2 281.7,232.6 281.9,233.9 282.0,235.0 282.1,229.4 282.2,238.2 282.3,235.1 282.5,233.2 282.6,232.4 282.7,231.5 282.8,230.5 282.9,235.6 283.1,233.1 283.2,232.3 283.3,230.4 283.4,233.0 283.5,239.6 283.7,234.0 283.8,225.4 283.9,224.3 284.0,234.9 284.1,227.6 284.3,233.4 284.4,234.6 284.5,234.9 284.6,239.4 284.7,231.0 284.9,233.2 285.0,230.3 285.1,227.9 285.2,229.7 285.3,237.6 285.5,237.6 285.6,229.6 285.7,235.3 285.8,231.9 285.9,235.6 286.1,229.4 286.2,233.6 286.3,233.0 286.4,229.4 286.5,230.5 286.7,230.7 286.8,232.5 286.9,238.3 287.0,238.0 287.1,237.9 287.3,234.3 287.4,235.4 287.5,228.1 287.6,231.5 287.7,234.7 287.9,231.3 288.0,226.5 288.1,229.6 288.2,227.1 288.3,225.2 288.5,220.3 288.6,223.0 288.7,217.1 288.8,211.9 288.9,212.7 289.1,213.0 289.2,214.7 289.3,212.1 289.4,197.0 289.5,209.9 289.7,207.6 289.8,207.8 289.9,213.3 290.0,216.3 290.1,213.6 290.3,212.4 290.4,213.1 290.5,219.0 290.6,222.1 290.7,220.0 290.9,231.7 291.0,232.6 291.1,231.5 291.2,236.5 291.3,233.7 291.5,229.9 291.6,235.0 291.7,239.4 291.8,231.7 291.9,228.2 292.1,236.3 292.2,227.0 292.3,229.5 292.4,234.4 292.5,231.7 292.7,239.2 292.8,233.2 292.9,235.4 293.0,237.1 293.1,233.4 293.3,235.1 293.4,227.0 293.5,240.4 293.6,233.6 293.7,232.4 293.9,231.1 294.0,234.0 294.1,231.2 294.2,234.0 294.3,231.0 294.5,228.3 294.6,230.6 294.7,230.4 294.8,234.6 294.9,233.7 295.1,231.5 295.2,234.4 295.3,231.1 295.4,233.2 295.5,232.4 295.7,234.8 295.8,230.3 295.9,232.9 296.0,233.3 296.1,229.6 296.3,233.6 296.4,233.3 296.5,236.7 296.6,229.7 296.7,228.5 296.9,227.9 297.0,234.3 297.1,231.7 297.2,230.2 297.3,234.4 297.5,236.6 297.6,240.1 297.7,237.9 297.8,231.4 297.9,238.7 298.1,231.1 298.2,235.2 298.3,236.4 298.4,228.7 298.5,234.2 298.7,234.1 298.8,241.3 298.9,231.7 299.0,236.4 299.1,233.3 299.3,234.2 299.4,230.7 299.5,237.3 299.6,238.2 299.7,238.0 299.9,228.1 300.0,227.6 300.1,233.8 300.2,237.9 300.3,236.8 300.5,233.2 300.6,231.7 300.7,239.8 300.8,239.0 300.9,231.6 301.1,233.9 301.2,233.8 301.3,241.3 301.4,236.6 301.5,238.1 301.7,231.2 301.8,235.2 301.9,233.9 302.0,234.8 302.1,235.7 302.3,234.1 302.4,230.7 302.5,238.3 302.6,231.2 302.7,231.7 302.9,228.1 303.0,235.6 303.1,234.9 303.2,232.2 303.3,231.5 303.5,235.1 303.6,233.5 303.7,231.0 303.8,236.1 303.9,237.6 304.1,235.8 304.2,237.4 304.3,235.4 304.4,239.9 304.5,237.7 304.7,233.5 304.8,238.4 304.9,235.9 305.0,233.0 305.1,232.4 305.3,233.7 305.4,228.1 305.5,232.2 305.6,233.1 305.7,229.5 305.9,231.8 306.0,231.4 306.1,229.6 306.2,234.3 306.3,235.5 306.5,236.0 306.6,238.7 306.7,234.2 306.8,233.2 306.9,234.9 307.1,239.1 307.2,240.2 307.3,233.0 307.4,236.3 307.5,234.4 307.7,236.9 307.8,226.7 307.9,233.5 308.0,228.6 308.1,224.4 308.3,236.2 308.4,231.9 308.5,239.3 308.6,237.7 308.7,239.3 308.9,237.8 309.0,233.5 309.1,236.3 309.2,230.0 309.3,231.0 309.5,236.8 309.6,241.1 309.7,235.8 309.8,231.3 309.9,234.9 310.1,237.2 310.2,238.6 310.3,235.7 310.4,241.0 310.5,238.8 310.7,236.6 310.8,234.0 310.9,243.3 311.0,233.8 311.1,234.2 311.3,232.2 311.4,236.1 311.5,229.4 311.6,237.1 311.7,229.8 311.9,237.5 312.0,230.4 312.1,230.9 312.2,232.7 312.3,235.8 312.5,234.4 312.6,231.8 312.7,234.6 312.8,237.2 312.9,229.2 313.1,239.5 313.2,235.2 313.3,226.4 313.4,235.8 313.5,234.6 313.7,233.8 313.8,234.2 313.9,233.9 314.0,237.9 314.1,236.1 314.3,237.5 314.4,234.7 314.5,239.8 314.6,235.0 314.7,237.5 314.9,235.0 315.0,235.1 315.1,238.6 315.2,238.4 315.3,235.8 315.5,236.0 315.6,234.4 315.7,237.8 315.8,236.8 315.9,238.5 316.1,236.3 316.2,235.5 316.3,238.2 316.4,234.5 316.5,237.1 316.7,237.4 316.8,238.2 316.9,232.6 317.0,231.7 317.1,232.7 317.3,228.4 317.4,228.8 317.5,226.3 317.6,225.0 317.7,222.3 317.9,226.2 318.0,228.7 318.1,228.7 318.2,228.2 318.3,231.5 318.5,237.3 318.6,233.2 318.7,232.0 318.8,240.5 318.9,233.8 319.1,240.8 319.2,237.9 319.3,231.8 319.4,235.8 319.5,235.7 319.7,235.7 319.8,235.7 319.9,238.7 320.0,237.7 320.1,241.1 320.3,235.9 320.4,236.4 320.5,238.9 320.6,236.5 320.7,235.4 320.9,237.9 321.0,233.6 321.1,233.2 321.2,235.3 321.3,238.6 321.5,239.6 321.6,233.7 321.7,235.1 321.8,238.0 321.9,237.7 322.1,234.3 322.2,239.8 322.3,236.0 322.4,236.6 322.5,234.8 322.7,240.5 322.8,240.4 322.9,236.2 323.0,240.9 323.1,240.2 323.3,239.2 323.4,236.9 323.5,239.8 323.6,234.9 323.7,235.4 323.9,236.2 324.0,238.9 324.1,241.2 324.2,231.1 324.3,236.7 324.5,234.6 324.6,238.6 324.7,232.7 324.8,242.7 324.9,235.2 325.1,241.6 325.2,233.0 325.3,238.7 325.4,242.3 325.5,241.2 325.7,233.5 325.8,233.3 325.9,232.1 326.0,238.6 326.1,232.3 326.3,243.0 326.4,239.7 326.5,241.9 326.6,235.6 326.7,236.6 326.9,237.3 327.0,232.7 327.1,232.8 327.2,237.7 327.3,236.0 327.5,237.0 327.6,233.5 327.7,239.2 327.8,241.6 327.9,238.5 328.1,235.7 328.2,239.9 328.3,239.9 328.4,238.1 328.5,234.4 328.7,231.1 328.8,243.2 328.9,238.9 329.0,236.2 329.1,235.1 329.3,229.8 329.4,240.7 329.5,237.1 329.6,238.3 329.7,237.0 329.9,237.2 330.0,239.1 330.1,233.2 330.2,235.4 330.3,239.2 330.5,241.2 330.6,238.8 330.7,239.1 330.8,234.7 330.9,235.5 331.1,238.5 331.2,238.0 331.3,237.0 331.4,237.6 331.5,232.5 331.7,232.6 331.8,239.7 331.9,237.8 332.0,235.2 332.1,238.6 332.3,248.9 332.4,235.6 332.5,238.8 332.6,237.2 332.7,235.3 332.9,234.4 333.0,240.0 333.1,234.2 333.2,229.4 333.3,240.6 333.5,231.7 333.6,235.9 333.7,233.6 333.8,231.1 333.9,238.1 334.1,228.7 334.2,233.3 334.3,234.3 334.4,228.2 334.5,231.2 334.7,237.6 334.8,242.3 334.9,238.4 335.0,229.0 335.1,240.7 335.3,232.2 335.4,234.8 335.5,237.8 335.6,238.6 335.7,237.6 335.9,237.3 336.0,245.8 336.1,233.6 336.2,239.2 336.3,241.6 336.5,240.5 336.6,233.1 336.7,242.7 336.8,242.6 336.9,235.7 337.1,236.2 337.2,242.7 337.3,239.0 337.4,235.2 337.5,240.0 337.7,235.7 337.8,235.0 337.9,231.5 338.0,239.3 338.1,235.3 338.3,234.5 338.4,235.8 338.5,239.5 338.6,236.1 338.7,238.9 338.9,234.9 339.0,238.6 339.1,240.0 339.2,233.9 339.3,233.5 339.5,228.0 339.6,232.1 339.7,240.2 339.8,237.3 339.9,229.9 340.1,232.7 340.2,234.5 340.3,237.3 340.4,237.9 340.5,237.9 340.7,239.6 340.8,238.5 340.9,236.8 341.0,239.5 341.1,230.5 341.3,235.9 341.4,238.4 341.5,240.9 341.6,240.8 341.7,243.0 341.9,242.7 342.0,239.7 342.1,239.5 342.2,240.8 342.3,237.5 342.5,237.7 342.6,239.8 342.7,235.7 342.8,239.7 342.9,240.0 343.1,243.7 343.2,235.3 343.3,237.3 343.4,243.0 343.5,237.4 343.7,240.2 343.8,237.0 343.9,243.4 344.0,235.1 344.1,237.7 344.3,236.8 344.4,243.2 344.5,239.7 344.6,233.8 344.7,244.6 344.9,234.7 345.0,240.1 345.1,242.2 345.2,237.7 345.3,237.2 345.5,235.3 345.6,234.4 345.7,247.4 345.8,242.8 345.9,243.4 346.1,234.1 346.2,237.7 346.3,235.1 346.4,241.7 346.5,244.9 346.7,237.1 346.8,236.5 346.9,243.0 347.0,234.5 347.1,239.8 347.3,235.4 347.4,238.9 347.5,233.9 347.6,229.5 347.7,234.7 347.9,228.0 348.0,234.3 348.1,239.0 348.2,236.6 348.3,227.0 348.5,226.4 348.6,223.5 348.7,229.6 348.8,228.7 348.9,231.4 349.1,242.2 349.2,237.7 349.3,237.6 349.4,235.7 349.5,238.9 349.7,240.6 349.8,239.9 349.9,242.4 350.0,242.9 350.1,238.0 350.3,236.9 350.4,244.3 350.5,235.9 350.6,241.4 350.7,241.2 350.9,245.4 351.0,238.0 351.1,235.6 351.2,244.7 351.3,237.0 351.5,232.0 351.6,234.8 351.7,238.1 351.8,241.5 351.9,238.1 352.1,234.9 352.2,231.0 352.3,232.3 352.4,232.7 352.5,225.4 352.7,227.3 352.8,231.3 352.9,222.0 353.0,220.0 353.1,219.0 353.3,220.1 353.4,216.2 353.5,222.8 353.6,221.6 353.7,223.8 353.9,220.7 354.0,227.5 354.1,232.4 354.2,227.2 354.3,228.9 354.5,231.7 354.6,231.4 354.7,234.3 354.8,240.4 354.9,238.7 355.1,237.6 355.2,238.0 355.3,237.1 355.4,243.0 355.5,238.0 355.7,240.9 355.8,241.2 355.9,236.0 356.0,240.4 356.1,242.5 356.3,234.7 356.4,237.3 356.5,241.4 356.6,240.4 356.7,242.4 356.9,244.7 357.0,241.3 357.1,242.3 357.2,242.1 357.3,234.9 357.5,240.1 357.6,240.8 357.7,244.2 357.8,240.0 357.9,243.1 358.1,243.3 358.2,237.8 358.3,236.4 358.4,244.9 358.5,239.2 358.7,244.7 358.8,241.9 358.9,243.7 359.0,235.9 359.1,247.9 359.3,233.2 359.4,237.2 359.5,241.9 359.6,244.1 359.7,242.4 359.9,242.5 360.0,235.8 360.1,239.7 360.2,242.1 360.3,231.6 360.5,232.3 360.6,236.1 360.7,239.6 360.8,236.9 360.9,230.5 361.1,232.3 361.2,233.2 361.3,229.7 361.4,242.4 361.5,234.7 361.7,235.2 361.8,232.4 361.9,239.4 362.0,239.3 362.1,244.0 362.3,243.4 362.4,240.9 362.5,243.4 362.6,247.6 362.7,240.0 362.9,241.1 363.0,244.6 363.1,240.7 363.2,243.9 363.3,239.4 363.5,245.0 363.6,244.7 363.7,241.0 363.8,239.0 363.9,243.6 364.1,242.8 364.2,238.8 364.3,245.7 364.4,240.7 364.5,247.1 364.7,246.6 364.8,243.5 364.9,244.8 365.0,238.4 365.1,242.5 365.3,243.9 365.4,238.2 365.5,237.1 365.6,245.7 365.7,241.5 365.9,243.8 366.0,241.6 366.1,228.2 366.2,232.5 366.3,234.6 366.5,234.3 366.6,233.7 366.7,230.3 366.8,232.0 366.9,228.7 367.1,237.1 367.2,229.7 367.3,232.0 367.4,238.0 367.5,234.2 367.7,237.8 367.8,235.5 367.9,239.3 368.0,241.6 368.1,236.6 368.3,236.9 368.4,238.9 368.5,245.1 368.6,244.6 368.7,245.6 368.9,247.6 369.0,242.3 369.1,241.5 369.2,243.3 369.3,244.4 369.5,246.8 369.6,244.1 369.7,245.4 369.8,242.1 369.9,239.3 370.1,249.1 370.2,244.3 370.3,242.9 370.4,244.3 370.5,250.3 370.7,242.7 370.8,242.8 370.9,242.0 371.0,242.9 371.1,238.5 371.3,247.7 371.4,244.2 371.5,241.7 371.6,247.3 371.7,243.2 371.9,248.3 372.0,243.7 372.1,244.2 372.2,245.2 372.3,246.0 372.5,242.6 372.6,242.7 372.7,245.0 372.8,239.1 372.9,236.5 373.1,244.3 373.2,244.9 373.3,247.7 373.4,244.3 373.5,247.7 373.7,248.5 373.8,245.0 373.9,243.0 374.0,242.1 374.1,244.2 374.3,240.9 374.4,245.4 374.5,247.0 374.6,243.2 374.7,247.6 374.9,242.5 375.0,245.1 375.1,245.6 375.2,239.7 375.3,244.3 375.5,247.6 375.6,248.3 375.7,248.6 375.8,243.2 375.9,245.6 376.1,240.9 376.2,247.1 376.3,245.3 376.4,247.7 376.5,241.7 376.7,249.0 376.8,245.5 376.9,241.7 377.0,247.4 377.1,251.3 377.3,246.2 377.4,246.1 377.5,241.0 377.6,244.7 377.7,247.9 377.9,245.8 378.0,244.3 378.1,242.5 378.2,249.4 378.3,241.9 378.5,237.9 378.6,242.6 378.7,240.1 378.8,238.9 378.9,236.8 379.1,235.7 379.2,234.1 379.3,240.6 379.4,233.7 379.5,234.0 379.7,237.9 379.8,240.0 379.9,239.5 380.0,238.3 380.1,238.1 380.3,241.3 380.4,240.6 380.5,242.2 380.6,246.3 380.7,244.1 380.9,247.2 381.0,243.7 381.1,244.8 381.2,245.9 381.3,247.0 381.5,243.2 381.6,243.7 381.7,251.2 381.8,247.2 381.9,245.1 382.1,242.2 382.2,245.0 382.3,249.3 382.4,250.1 382.5,243.6 382.7,246.7 382.8,248.4 382.9,248.6 383.0,247.2 383.1,246.8 383.3,247.9 383.4,245.4 383.5,247.7 383.6,248.8 383.7,246.0 383.9,250.4 384.0,249.5 384.1,245.7 384.2,245.8 384.3,247.6 384.5,248.1 384.6,248.3 384.7,247.7 384.8,246.8 384.9,253.0 385.1,252.2 385.2,248.6 385.3,248.7 385.4,249.1 385.5,250.3 385.7,248.4 385.8,250.5 385.9,242.7 386.0,245.7 386.1,245.8 386.3,243.5 386.4,246.5 386.5,246.0 386.6,245.3 386.7,244.9 386.9,249.0 387.0,245.4 387.1,249.0 387.2,245.5 387.3,248.0 387.5,244.3 387.6,243.3 387.7,248.8 387.8,247.7 387.9,253.6 388.1,249.5 388.2,249.1 388.3,248.7 388.4,246.9 388.5,249.7 388.7,247.2 388.8,249.5 388.9,246.7 389.0,251.3 389.1,248.5 389.3,247.7 389.4,249.5 389.5,247.2 389.6,243.9 389.7,247.9 389.9,250.6 390.0,246.5 390.1,250.5 390.2,250.5 390.3,249.8 390.5,244.2 390.6,255.2 390.7,252.1 390.8,248.8 390.9,246.6 391.1,246.0 391.2,244.6 391.3,247.7 391.4,251.3 391.5,245.5 391.7,248.1 391.8,250.5 391.9,251.1 392.0,249.4 392.1,246.8 392.3,253.4 392.4,250.2 392.5,250.1 392.6,251.1 392.7,247.1 392.9,246.1 393.0,246.2 393.1,252.5 393.2,249.9 393.3,245.5 393.5,246.0 393.6,249.0 393.7,245.7 393.8,248.4 393.9,249.5 394.1,249.5 394.2,251.5 394.3,253.1 394.4,249.2 394.5,249.5 394.7,252.9 394.8,249.9 394.9,249.6 395.0,251.2 395.1,249.5 395.3,248.8 395.4,251.7 395.5,248.0 395.6,248.6 395.7,249.7 395.9,251.5 396.0,245.5 396.1,252.4 396.2,251.4 396.3,246.6 396.5,251.4 396.6,247.8 396.7,252.2 396.8,249.2 396.9,250.2 397.1,246.1 397.2,249.1 397.3,248.4 397.4,250.9 397.5,247.9 397.7,250.5 397.8,255.1 397.9,249.2 398.0,252.0 398.1,248.3 398.3,251.4 398.4,246.6 398.5,252.5 398.6,248.3 398.7,247.5 398.9,247.6 399.0,248.0 399.1,250.9 399.2,250.0 399.3,251.8 399.5,251.0 399.6,248.2 399.7,248.8 399.8,252.2 399.9,253.4 400.1,252.4 400.2,251.9 400.3,247.5 400.4,244.7 400.5,252.6 400.7,249.4 400.8,247.4 400.9,249.4 401.0,251.4 401.1,249.1 401.3,247.6 401.4,249.1 401.5,251.7 401.6,251.6 401.7,244.4 401.9,251.4 402.0,249.8 402.1,252.4 402.2,244.6 402.3,249.4 402.5,248.4 402.6,249.1 402.7,247.2 402.8,248.8 402.9,247.3 403.1,251.1 403.2,257.1 403.3,250.1 403.4,248.9 403.5,258.3 403.7,249.9 403.8,249.3 403.9,252.2 404.0,247.7 404.1,249.6 404.3,246.6 404.4,251.4 404.5,248.2 404.6,248.2 404.7,248.5 404.9,252.4 405.0,249.0 405.1,249.5 405.2,251.5 405.3,253.3 405.5,244.3 405.6,252.1 405.7,252.3 405.8,252.4 405.9,250.9 406.1,247.2 406.2,249.8 406.3,248.7 406.4,248.1 406.5,246.0 406.7,244.9 406.8,238.5 406.9,244.7 407.0,245.7 407.1,246.0 407.3,247.3 407.4,246.2 407.5,242.0 407.6,245.6 407.7,243.1 407.9,248.8 408.0,245.3 408.1,251.4 408.2,245.0 408.3,249.7 408.5,250.1 408.6,248.4 408.7,248.6 408.8,248.8 408.9,253.3 409.1,249.4 409.2,248.1 409.3,248.2 409.4,252.6 409.5,249.5 409.7,255.9 409.8,256.1 409.9,252.0 410.0,250.1 410.1,253.7 410.3,249.4 410.4,253.6 410.5,252.4 410.6,251.1 410.7,249.4 410.9,251.7 411.0,250.8 411.1,251.6 411.2,250.5 411.3,254.6 411.5,247.3 411.6,247.7 411.7,252.2 411.8,251.1 411.9,247.6 412.1,252.1 412.2,250.8 412.3,244.4 412.4,254.7 412.5,250.0 412.7,249.6 412.8,249.5 412.9,247.1 413.0,248.9 413.1,252.9 413.3,249.1 413.4,251.0 413.5,246.3 413.6,251.5 413.7,250.0 413.9,250.9 414.0,250.4 414.1,250.3 414.2,250.1 414.3,253.6 414.5,253.7 414.6,250.3 414.7,252.0 414.8,249.2 414.9,249.0 415.1,249.9 415.2,253.5 415.3,244.6 415.4,249.0 415.5,251.9 415.7,252.1 415.8,250.9 415.9,248.8 416.0,251.9 416.1,253.0 416.3,253.5 416.4,251.9 416.5,250.3 416.6,252.2 416.7,253.5 416.9,251.1 417.0,251.2 417.1,248.1 417.2,254.2 417.3,251.3 417.5,246.3 417.6,252.2 417.7,254.7 417.8,245.6 417.9,255.0 418.1,251.1 418.2,252.8 418.3,248.6 418.4,252.2 418.5,251.0 418.7,252.1 418.8,248.3 418.9,249.1 419.0,247.7 419.1,255.7 419.3,252.9 419.4,250.6 419.5,251.3 419.6,249.0 419.7,250.3 419.9,252.0 420.0,247.2 420.1,247.0 420.2,248.2 420.3,249.2 420.5,254.1 420.6,251.4 420.7,250.7 420.8,253.4 420.9,252.7 421.1,252.1 421.2,251.9 421.3,252.1 421.4,247.1 421.5,254.3 421.7,253.2 421.8,254.0 421.9,254.0 422.0,252.3 422.1,253.2 422.3,249.9 422.4,254.6 422.5,254.1 422.6,252.1 422.7,250.7 422.9,252.3 423.0,247.4 423.1,250.7 423.2,257.9 423.3,251.4 423.5,250.3 423.6,251.7 423.7,249.9 423.8,248.5 423.9,252.9 424.1,247.7 424.2,252.2 424.3,251.2 424.4,251.3 424.5,252.2 424.7,251.0 424.8,255.4 424.9,251.8 425.0,256.6 425.1,251.3 425.3,251.5 425.4,250.9 425.5,247.7 425.6,247.9 425.7,256.7 425.9,252.7 426.0,251.0 426.1,256.2 426.2,254.3 426.3,255.0 426.5,251.5 426.6,251.4 426.7,254.6 426.8,249.4 426.9,247.5 427.1,253.1 427.2,252.3 427.3,251.7 427.4,250.6 427.5,253.7 427.7,248.9 427.8,250.1 427.9,252.2 428.0,250.4 428.1,251.8 428.3,248.7 428.4,250.0"/>
<polyline points="113.0,-30.0 113.0,-29.4 113.0,-28.8 113.0,-28.2 113.0,-27.6 113.0,-27.0 113.0,-26.4 113.0,-25.8 113.0,-25.2 113.0,-24.6 113.0,-24.0 113.0,-23.4 113.1,-22.8 113.1,-22.2 113.1,-21.6 113.1,-21.0 113.1,-20.4 113.1,-19.8 113.1,-19.2 113.1,-18.6 113.1,-18.0 113.1,-17.4 113.1,-16.8 113.1,-16.2 113.1,-15.6 113.1,-15.0 113.1,-14.4 113.1,-13.8 113.1,-13.2 113.1,-12.6 113.1,-12.0 113.1,-11.4 113.1,-10.8 113.1,-10.2 113.1,-9.6 113.1,-9.0 113.2,-8.4 113.2,-7.8 113.2,-7.2 113.2,-6.6 113.2,-6.0 113.2,-5.4 113.2,-4.8 113.2,-4.2 113.2,-3.6 113.2,-3.0 113.2,-2.4 113.2,-1.8 113.2,-1.2 113.2,-0.6 113.2,0.0 113.2,0.6 113.2,1.2 113.2,1.8 113.2,2.4 113.2,3.0 113.2,3.6 113.2,4.2 113.2,4.8 113.2,5.4 113.3,6.0 113.3,6.6 113.3,7.2 113.3,7.8 113.3,8.4 113.3,9.0 113.3,9.6 113.3,10.2 113.3,10.8 113.3,11.4 113.3,12.0 113.3,12.6 113.3,13.2 113.3,13.8 113.3,14.4 113.3,15.0 113.3,15.6 113.3,16.2 113.3,16.8 113.3,17.4 113.3,18.0 113.4,18.6 113.4,19.2 113.4,19.8 113.4,20.4 113.4,21.0 113.4,21.6 113.4,22.2 113.4,22.8 113.4,23.4 113.4,24.0 113.4,24.6 113.4,25.2 113.4,25.8 113.4,26.4 113.4,27.0 113.4,27.6 113.4,28.2 113.5,28.8 113.5,29.4 113.5,30.0 113.5,30.6 113.5,31.2 113.5,31.8 113.5,32.4 113.5,33.0 113.5,33.6 113.5,34.2 113.5,34.8 113.5,35.4 113.5,36.0 113.5,36.6 113.5,37.2 113.5,37.8 113.5,38.4 113.6,39.0 113.6,39.6 113.6,40.2 113.6,40.8 113.6,41.4 113.6,42.0 113.6,42.6 113.6,43.2 113.6,43.8 113.6,44.4 113.6,45.0 113.7,45.6 113.7,46.2 113.7,46.8 113.7,47.4 113.8,48.0 113.8,48.6 113.8,49.2 113.9,49.8 113.9,50.4 113.9,51.0 113.9,51.6 114.0,52.2 114.0,52.8 114.0,53.4 114.0,54.0 114.1,54.6 114.1,55.2 114.1,55.8 114.1,56.4 114.2,57.0 114.2,57.6 114.2,58.2 114.2,58.8 114.3,59.4 114.3,62.4 114.4,49.7 114.5,71.3 114.7,78.6 114.8,68.3 114.9,65.4 115.0,65.6 115.1,66.1 115.3,67.4 115.4,60.9 115.5,65.0 115.6,62.6 115.7,70.5 115.9,67.7 116.0,72.9 116.1,69.4 116.2,76.8 116.3,72.7 116.5,84.9 116.6,61.4 116.7,69.2 116.8,78.8 116.9,88.9 117.1,73.2 117.2,75.5 117.3,74.5 117.4,84.1 117.5,75.3 117.7,81.5 117.8,76.3 117.9,71.5 118.0,81.0 118.1,82.6 118.3,87.6 118.4,80.2 118.5,77.9 118.6,85.0 118.7,83.7 118.9,84.4 119.0,82.9 119.1,90.2 119.2,86.3 119.3,95.2 119.5,91.3 119.6,89.3 119.7,77.3 119.8,89.9 119.9,89.3 120.1,91.9 120.2,93.5 120.3,86.2 120.4,93.2 120.5,86.2 120.7,100.0 120.8,82.9 120.9,81.1 121.0,82.1 121.1,86.5 121.3,85.7 121.4,102.2 121.5,90.6 121.6,85.7 121.7,98.9 121.9,90.3 122.0,87.3 122.1,98.7 122.2,97.7 122.3,92.6 122.5,102.4 122.6,96.2 122.7,104.1 122.8,98.7 122.9,104.4 123.1,97.4 123.2,90.9 123.3,109.9 123.4,95.0 123.5,97.1 123.7,94.9 123.8,97.7 123.9,100.2 124.0,100.3 124.1,102.9 124.3,108.8 124.4,99.6 124.5,94.4 124.6,95.0 124.7,97.8 124.9,93.2 125.0,105.8 125.1,99.6 125.2,100.8 125.3,102.6 125.5,96.1 125.6,99.0 125.7,106.8 125.8,106.8 125.9,101.9 126.1,113.1 126.2,98.3 126.3,103.3 126.4,104.1 126.5,92.1 126.7,115.0 126.8,107.8 126.9,101.4 127.0,116.3 127.1,109.7 127.3,109.2 127.4,104.6 127.5,108.2 127.6,100.9 127.7,112.0 127.9,106.8 128.0,109.5 128.1,114.7 128.2,110.7 128.3,110.9 128.5,111.2 128.6,106.9 128.7,114.3 128.8,117.8 128.9,114.5 129.1,115.3 129.2,107.6 129.3,107.9 129.4,105.5 129.5,117.9 129.7,111.4 129.8,119.1 129.9,109.5 130.0,111.3 130.1,114.0 130.3,117.9 130.4,114.3 130.5,115.2 130.6,114.6 130.7,115.5 130.9,110.0 131.0,115.5 131.1,114.6 131.2,115.4 131.3,118.0 131.5,113.1 131.6,115.9 131.7,115.2 131.8,118.5 131.9,120.4 132.1,113.0 132.2,119.9 132.3,126.5 132.4,111.5 132.5,114.4 132.7,114.4 132.8,117.2 132.9,125.5 133.0,118.8 133.1,116.0 133.3,121.8 133.4,116.8 133.5,124.3 133.6,121.0 133.7,125.7 133.9,117.3 134.0,133.0 134.1,123.9 134.2,123.3 134.3,120.5 134.5,117.9 134.6,117.5 134.7,120.7 134.8,118.1 134.9,122.7 135.1,118.3 135.2,124.4 135.3,126.0 135.4,119.3 135.5,127.2 135.7,121.5 135.8,127.3 135.9,124.5 136.0,127.5 136.1,119.0 136.3,122.7 136.4,129.2 136.5,120.9 136.6,115.3 136.7,115.8 136.9,113.7 137.0,115.4 137.1,122.4 137.2,129.4 137.3,122.6 137.5,125.8 137.6,124.1 137.7,124.7 137.8,124.1 137.9,124.2 138.1,126.9 138.2,120.5 138.3,129.3 138.4,129.0 138.5,124.7 138.7,128.8 138.8,122.9 138.9,123.7 139.0,126.5 139.1,125.2 139.3,124.3 139.4,123.6 139.5,124.1 139.6,130.1 139.7,118.9 139.9,128.0 140.0,125.8 140.1,129.7 140.2,129.0 140.3,116.2 140.5,129.4 140.6,128.5 140.7,127.5 140.8,125.7 140.9,130.9 141.1,126.1 141.2,134.9 141.3,130.1 141.4,136.3 141.5,125.2 141.7,121.6 141.8,131.2 141.9,131.8 142.0,128.8 142.1,122.9 142.3,127.2 142.4,131.4 142.5,128.4 142.6,128.8 142.7,128.7 142.9,125.9 143.0,127.5 143.1,124.2 143.2,136.2 143.3,127.5 143.5,130.8 143.6,124.4 143.7,130.3 143.8,118.4 143.9,127.7 144.1,121.7 144.2,128.6 144.3,112.1 144.4,116.5 144.5,117.1 144.7,121.0 144.8,114.8 144.9,118.7 145.0,111.7 145.1,119.7 145.3,127.2 145.4,131.8 145.5,128.2 145.6,138.2 145.7,138.0 145.9,131.9 146.0,123.8 146.1,126.4 146.2,130.3 146.3,137.3 146.5,134.6 146.6,126.1 146.7,132.9 146.8,139.6 146.9,132.7 147.1,131.5 147.2,141.6 147.3,134.6 147.4,132.8 147.5,135.9 147.7,134.8 147.8,133.4 147.9,139.3 148.0,139.1 148.1,138.2 148.3,135.0 148.4,139.5 148.5,135.4 148.6,137.3 148.7,139.4 148.9,138.7 149.0,142.2 149.1,137.7 149.2,130.4 149.3,132.3 149.5,141.1 149.6,135.4 149.7,138.0 149.8,133.8 149.9,140.2 150.1,135.6 150.2,142.0 150.3,135.3 150.4,141.0 150.5,139.5 150.7,134.9 150.8,141.1 150.9,134.4 151.0,134.8 151.1,140.1 151.3,135.6 151.4,135.7 151.5,136.7 151.6,134.5 151.7,141.5 151.9,140.1 152.0,137.8 152.1,137.8 152.2,139.7 152.3,144.1 152.5,141.2 152.6,136.6 152.7,141.0 152.8,138.0 152.9,137.8 153.1,144.7 153.2,137.1 153.3,137.0 153.4,132.1 153.5,134.0 153.7,140.2 153.8,136.4 153.9,140.5 154.0,135.1 154.1,136.3 154.3,141.1 154.4,143.8 154.5,140.9 154.6,143.0 154.7,144.7 154.9,142.5 155.0,136.1 155.1,138.8 155.2,141.2 155.3,137.8 155.5,140.7 155.6,134.1 155.7,136.6 155.8,141.1 155.9,132.0 156.1,135.7 156.2,139.4 156.3,133.8 156.4,139.7 156.5,136.9 156.7,138.6 156.8,138.7 156.9,140.2 157.0,137.8 157.1,139.9 157.3,137.7 157.4,141.5 157.5,145.3 157.6,140.4 157.7,140.3 157.9,136.0 158.0,142.1 158.1,137.4 158.2,137.3 158.3,141.7 158.5,140.5 158.6,143.6 158.7,144.7 158.8,138.3 158.9,140.5 159.1,145.8 159.2,143.2 159.3,142.4 159.4,144.4 159.5,138.2 159.7,142.2 159.8,144.8 159.9,145.5 160.0,137.6 160.1,139.4 160.3,141.5 160.4,139.4 160.5,139.1 160.6,142.6 160.7,139.2 160.9,134.6 161.0,141.6 161.1,139.1 161.2,138.1 161.3,135.4 161.5,143.8 161.6,133.3 161.7,135.0 161.8,139.6 161.9,144.5 162.1,144.8 162.2,136.9 162.3,140.0 162.4,135.8 162.5,143.9 162.7,135.9 162.8,140.2 162.9,144.0 163.0,140.0 163.1,145.5 163.3,137.9 163.4,141.9 163.5,143.5 163.6,140.3 163.7,145.2 163.9,142.6 164.0,135.6 164.1,153.5 164.2,142.9 164.3,141.2 164.5,136.4 164.6,141.1 164.7,139.4 164.8,143.0 164.9,142.1 165.1,146.9 165.2,141.4 165.3,142.6 165.4,142.1 165.5,140.5 165.7,140.4 165.8,144.5 165.9,143.5 166.0,139.0 166.1,137.4 166.3,140.8 166.4,144.7 166.5,140.9 166.6,146.6 166.7,138.6 166.9,141.5 167.0,133.0 167.1,139.2 167.2,140.1 167.3,142.7 167.5,146.6 167.6,141.2 167.7,145.8 167.8,143.2 167.9,144.3 168.1,139.6 168.2,145.6 168.3,137.7 168.4,142.7 168.5,138.1 168.7,139.5 168.8,136.5 168.9,139.5 169.0,142.3 169.1,141.0 169.3,136.9 169.4,145.9 169.5,142.3 169.6,144.4 169.7,143.7 169.9,139.1 170.0,135.0 170.1,138.3 170.2,145.2 170.3,137.9 170.5,143.9 170.6,139.3 170.7,142.6 170.8,135.5 170.9,145.0 171.1,141.2 171.2,144.2 171.3,141.9 171.4,143.9 171.5,141.0 171.7,143.7 171.8,136.6 171.9,137.9 172.0,143.7 172.1,141.3 172.3,140.7 172.4,140.8 172.5,143.0 172.6,139.5 172.7,143.1 172.9,138.5 173.0,140.2 173.1,144.6 173.2,144.9 173.3,138.0 173.5,144.1 173.6,138.2 173.7,143.8 173.8,135.5 173.9,138.0 174.1,139.9 174.2,141.0 174.3,146.1 174.4,144.4 174.5,146.5 174.7,145.4 174.8,140.7 174.9,140.7 175.0,145.0 175.1,141.7 175.3,141.1 175.4,137.4 175.5,141.3 175.6,132.8 175.7,140.2 175.9,138.5 176.0,143.8 176.1,140.1 176.2,140.6 176.3,145.9 176.5,138.4 176.6,142.7 176.7,135.7 176.8,142.0 176.9,143.0 177.1,144.4 177.2,138.9 177.3,142.7 177.4,142.7 177.5,141.7 177.7,142.2 177.8,143.2 177.9,143.0 178.0,138.6 178.1,138.0 178.3,149.7 178.4,147.9 178.5,137.4 178.6,143.2 178.7,143.8 178.9,144.2 179.0,142.3 179.1,138.9 179.2,141.3 179.3,140.3 179.5,142.3 179.6,141.0 179.7,141.5 179.8,145.1 179.9,145.8 180.1,138.2 180.2,140.5 180.3,139.4 180.4,145.8 180.5,141.8 180.7,146.5 180.8,140.5 180.9,142.0 181.0,137.7 181.1,146.1 181.3,140.8 181.4,137.3 181.5,140.1 181.6,134.8 181.7,141.9 181.9,142.4 182.0,142.9 182.1,146.8 182.2,141.1 182.3,144.6 182.5,143.0 182.6,141.5 182.7,135.6 182.8,145.1 182.9,140.5 183.1,142.2 183.2,138.1 183.3,143.0 183.4,142.5 183.5,142.2 183.7,141.7 183.8,145.4 183.9,145.2 184.0,144.4 184.1,152.6 184.3,140.3 184.4,141.0 184.5,139.0 184.6,143.6 184.7,140.1 184.9,133.8 185.0,138.4 185.1,142.5 185.2,145.4 185.3,137.4 185.5,140.4 185.6,141.9 185.7,140.0 185.8,144.0 185.9,142.3 186.1,143.3 186.2,140.1 186.3,147.2 186.4,142.4 186.5,146.4 186.7,141.0 186.8,144.2 186.9,140.3 187.0,139.5 187.1,140.2 187.3,142.3 187.4,141.8 187.5,147.3 187.6,138.9 187.7,139.1 187.9,147.8 188.0,144.4 188.1,136.7 188.2,144.1 188.3,143.3 188.5,135.9 188.6,141.4 188.7,142.5 188.8,144.9 188.9,145.6 189.1,142.9 189.2,145.9 189.3,142.2 189.4,140.0 189.5,139.8 189.7,144.4 189.8,136.6 189.9,144.8 190.0,139.3 190.1,141.6 190.3,144.3 190.4,146.6 190.5,136.8 190.6,140.3 190.7,143.0 190.9,141.0 191.0,145.5 191.1,136.4 191.2,144.0 191.3,144.2 191.5,143.1 191.6,146.3 191.7,139.1 191.8,146.4 191.9,140.8 192.1,145.2 192.2,142.0 192.3,145.5 192.4,145.4 192.5,138.5 192.7,142.6 192.8,142.8 192.9,142.3 193.0,140.8 193.1,148.8 193.3,143.8 193.4,147.9 193.5,141.4 193.6,139.9 193.7,143.6 193.9,141.4 194.0,150.6 194.1,144.0 194.2,146.8 194.3,142.5 194.5,142.2 194.6,143.2 194.7,144.4 194.8,145.9 194.9,142.9 195.1,141.2 195.2,140.0 195.3,143.1 195.4,145.1 195.5,144.8 195.7,143.3 195.8,141.6 195.9,143.9 196.0,145.2 196.1,143.3 196.3,143.8 196.4,143.0 196.5,146.3 196.6,142.1 196.7,144.1 196.9,144.7 197.0,145.7 197.1,148.1 197.2,145.6 197.3,145.4 197.5,139.1 197.6,145.4 197.7,150.6 197.8,141.1 197.9,140.5 198.1,143.0 198.2,146.8 198.3,145.3 198.4,142.2 198.5,143.6 198.7,146.9 198.8,145.8 198.9,151.1 199.0,146.8 199.1,144.8 199.3,145.7 199.4,142.7 199.5,140.8 199.6,144.3 199.7,145.3 199.9,139.6 200.0,142.3 200.1,142.8 200.2,144.7 200.3,143.1 200.5,145.3 200.6,144.2 200.7,147.2 200.8,138.8 200.9,149.0 201.1,148.3 201.2,144.2 201.3,146.0 201.4,145.9 201.5,141.8 201.7,144.6 201.8,146.4 201.9,145.0 202.0,147.3 202.1,144.4 202.3,144.4 202.4,141.8 202.5,143.0 202.6,142.8 202.7,149.3 202.9,144.9 203.0,141.2 203.1,145.4 203.2,143.7 203.3,135.0 203.5,145.7 203.6,139.6 203.7,146.0 203.8,141.4 203.9,139.9 204.1,145.8 204.2,139.8 204.3,143.0 204.4,145.0 204.5,146.2 204.7,146.6 204.8,144.3 204.9,141.9 205.0,150.2 205.1,142.6 205.3,149.9 205.4,143.1 205.5,148.0 205.6,147.7 205.7,141.4 205.9,145.6 206.0,146.8 206.1,146.7 206.2,144.0 206.3,145.5 206.5,143.4 206.6,141.1 206.7,147.6 206.8,143.0 206.9,148.8 207.1,146.5 207.2,142.0 207.3,144.2 207.4,143.8 207.5,142.1 207.7,146.2 207.8,143.3 207.9,149.6 208.0,147.3 208.1,142.2 208.3,144.7 208.4,144.1 208.5,140.2 208.6,147.6 208.7,147.7 208.9,147.6 209.0,143.5 209.1,148.1 209.2,144.3 209.3,147.7 209.5,150.3 209.6,145.4 209.7,140.7 209.8,144.0 209.9,146.9 210.1,148.6 210.2,141.6 210.3,144.5 210.4,145.7 210.5,146.4 210.7,147.8 210.8,142.3 210.9,143.8 211.0,148.1 211.1,146.3 211.3,146.5 211.4,148.5 211.5,145.5 211.6,146.8 211.7,144.3 211.9,141.2 212.0,141.4 212.1,145.5 212.2,144.7 212.3,143.3 212.5,146.2 212.6,142.7 212.7,145.6 212.8,145.3 212.9,142.9 213.1,138.6 213.2,149.7 213.3,146.3 213.4,137.5 213.5,144.2 213.7,146.6 213.8,144.8 213.9,147.2 214.0,142.6 214.1,146.0 214.3,145.3 214.4,145.0 214.5,144.9 214.6,146.1 214.7,148.3 214.9,144.0 215.0,144.4 215.1,146.1 215.2,145.3 215.3,146.8 215.5,147.8 215.6,149.5 215.7,145.3 215.8,139.0 215.9,145.5 216.1,146.8 216.2,145.2 216.3,145.3 216.4,138.6 216.5,147.3 216.7,144.8 216.8,141.4 216.9,143.3 217.0,143.3 217.1,147.6 217.3,147.5 217.4,150.3 217.5,147.8 217.6,142.0 217.7,141.8 217.9,149.2 218.0,150.5 218.1,145.3 218.2,147.6 218.3,141.6 218.5,140.3 218.6,142.6 218.7,145.0 218.8,144.5 218.9,145.4 219.1,144.7 219.2,148.1 219.3,150.3 219.4,146.2 219.5,152.0 219.7,144.3 219.8,144.6 219.9,147.3 220.0,145.2 220.1,149.6 220.3,144.4 220.4,150.1 220.5,146.8 220.6,153.7 220.7,144.9 220.9,145.7 221.0,146.7 221.1,140.0 221.2,148.1 221.3,147.7 221.5,146.7 221.6,141.9 221.7,141.9 221.8,148.1 221.9,149.8 222.1,151.0 222.2,143.9 222.3,143.5 222.4,145.7 222.5,140.8 222.7,144.8 222.8,149.0 222.9,151.2 223.0,147.4 223.1,151.3 223.3,147.8 223.4,147.1 223.5,146.1 223.6,147.1 223.7,145.9 223.9,146.2 224.0,144.7 224.1,147.4 224.2,146.7 224.3,142.4 224.5,146.0 224.6,144.2 224.7,140.8 224.8,148.1 224.9,151.2 225.1,153.5 225.2,151.2 225.3,144.2 225.4,150.1 225.5,149.9 225.7,141.0 225.8,149.2 225.9,148.6 226.0,147.2 226.1,147.6 226.3,146.9 226.4,151.4 226.5,145.6 226.6,146.2 226.7,146.8 226.9,147.6 227.0,141.7 227.1,150.8 227.2,147.4 227.3,148.4 227.5,147.4 227.6,146.3 227.7,145.8 227.8,147.1 227.9,147.2 228.1,150.1 228.2,147.8 228.3,146.4 228.4,152.5 228.5,143.1 228.7,143.0 228.8,147.8 228.9,146.2 229.0,141.7 229.1,145.9 229.3,144.8 229.4,150.0 229.5,145.0 229.6,149.8 229.7,148.1 229.9,146.2 230.0,146.9 230.1,148.0 230.2,140.2 230.3,147.7 230.5,145.7 230.6,152.0 230.7,144.8 230.8,150.1 230.9,139.6 231.1,149.1 231.2,147.6 231.3,146.1 231.4,146.5 231.5,146.1 231.7,148.0 231.8,146.4 231.9,141.7 232.0,146.3 232.1,153.2 232.3,146.9 232.4,147.6 232.5,145.5 232.6,147.3 232.7,147.3 232.9,146.0 233.0,149.3 233.1,144.1 233.2,146.4 233.3,148.2 233.5,146.0 233.6,143.3 233.7,148.4 233.8,143.9 233.9,145.5 234.1,144.4 234.2,146.4 234.3,145.5 234.4,145.4 234.5,148.7 234.7,151.8 234.8,145.7 234.9,148.2 235.0,145.7 235.1,147.0 235.3,149.9 235.4,146.8 235.5,144.3 235.6,144.5 235.7,144.9 235.9,146.6 236.0,149.1 236.1,142.7 236.2,143.6 236.3,143.9 236.5,141.5 236.6,150.4 236.7,146.4 236.8,152.0 236.9,142.4 237.1,150.2 237.2,144.4 237.3,145.3 237.4,143.6 237.5,143.7 237.7,142.6 237.8,147.0 237.9,142.6 238.0,145.6 238.1,146.3 238.3,148.2 238.4,146.6 238.5,147.2 238.6,147.7 238.7,146.2 238.9,147.3 239.0,143.4 239.1,143.9 239.2,151.7 239.3,146.1 239.5,144.1 239.6,150.1 239.7,145.6 239.8,144.2 239.9,141.8 240.1,148.3 240.2,142.9 240.3,144.4 240.4,147.9 240.5,146.5 240.7,145.7 240.8,145.3 240.9,149.3 241.0,152.4 241.1,144.3 241.3,147.5 241.4,151.5 241.5,149.0 241.6,143.8 241.7,144.5 241.9,144.0 242.0,143.1 242.1,143.9 242.2,146.5 242.3,144.0 242.5,148.2 242.6,146.0 242.7,144.5 242.8,148.2 242.9,146.5 243.1,146.4 243.2,148.6 243.3,147.2 243.4,145.2 243.5,148.3 243.7,146.4 243.8,154.1 243.9,148.7 244.0,148.8 244.1,149.2 244.3,145.6 244.4,149.2 244.5,145.4 244.6,142.9 244.7,143.6 244.9,146.9 245.0,140.7 245.1,145.9 245.2,143.1 245.3,147.4 245.5,143.0 245.6,150.7 245.7,147.4 245.8,141.4 245.9,150.3 246.1,144.4 246.2,142.9 246.3,142.0 246.4,146.7 246.5,149.5 246.7,143.3 246.8,142.0 246.9,141.6 247.0,149.4 247.1,149.9 247.3,143.9 247.4,146.5 247.5,144.9 247.6,144.7 247.7,147.7 247.9,146.2 248.0,145.8 248.1,143.9 248.2,147.2 248.3,143.9 248.5,144.9 248.6,145.4 248.7,141.1 248.8,143.8 248.9,143.7 249.1,145.0 249.2,141.3 249.3,141.1 249.4,149.5 249.5,148.1 249.7,147.2 249.8,150.0 249.9,145.8 250.0,144.2 250.1,145.9 250.3,138.8 250.4,141.2 250.5,146.7 250.6,144.5 250.7,140.6 250.9,146.4 251.0,147.4 251.1,146.4 251.2,144.3 251.3,141.8 251.5,144.6 251.6,145.6 251.7,143.2 251.8,146.1 251.9,145.2 252.1,145.2 252.2,138.1 252.3,147.5 252.4,149.4 252.5,142.9 252.7,139.7 252.8,146.1 252.9,142.7 253.0,141.2 253.1,147.8 253.3,139.9 253.4,146.2 253.5,140.2 253.6,148.4 253.7,145.6 253.9,143.2 254.0,144.4 254.1,145.7 254.2,146.5 254.3,146.4 254.5,145.6 254.6,142.4 254.7,145.9 254.8,139.9 254.9,146.9 255.1,146.5 255.2,148.0 255.3,142.0 255.4,144.3 255.5,146.4 255.7,144.7 255.8,142.4 255.9,144.6 256.0,143.9 256.1,146.7 256.3,141.7 256.4,144.7 256.5,144.5 256.6,145.9 256.7,143.4 256.9,144.0 257.0,143.3 257.1,143.6 257.2,143.5 257.3,142.5 257.5,152.1 257.6,140.9 257.7,139.9 257.8,141.0 257.9,141.2 258.1,143.4 258.2,147.8 258.3,148.6 258.4,144.1 258.5,135.7 258.7,144.5 258.8,139.3 258.9,141.8 259.0,139.7 259.1,144.6 259.3,141.3 259.4,145.6 259.5,144.7 259.6,142.5 259.7,143.4 259.9,146.0 260.0,142.0 260.1,146.0 260.2,143.1 260.3,143.9 260.5,145.6 260.6,147.2 260.7,144.7 260.8,143.2 260.9,145.3 261.1,138.2 261.2,148.1 261.3,138.9 261.4,145.8 261.5,141.2 261.7,144.5 261.8,142.6 261.9,143.8 262.0,140.4 262.1,136.2 262.3,144.1 262.4,141.0 262.5,140.8 262.6,140.6 262.7,149.0 262.9,141.0 263.0,143.8 263.1,139.2 263.2,147.5 263.3,141.0 263.5,134.6 263.6,151.1 263.7,139.3 263.8,146.7 263.9,144.9 264.1,144.7 264.2,141.9 264.3,143.2 264.4,146.4 264.5,141.6 264.7,143.3 264.8,145.4 264.9,142.8 265.0,141.2 265.1,147.0 265.3,143.6 265.4,142.1 265.5,140.0 265.6,139.3 265.7,145.2 265.9,145.4 266.0,135.6 266.1,140.5 266.2,145.4 266.3,149.9 266.5,149.1 266.6,145.3 266.7,146.6 266.8,140.6 266.9,144.7 267.1,138.4 267.2,140.5 267.3,143.2 267.4,149.0 267.5,144.6 267.7,143.1 267.8,141.7 267.9,138.0 268.0,144.0 268.1,141.0 268.3,142.9 268.4,139.3 268.5,142.5 268.6,137.3 268.7,143.7 268.9,146.2 269.0,144.9 269.1,148.7 269.2,143.0 269.3,143.6 269.5,143.6 269.6,139.2 269.7,148.7 269.8,145.1 269.9,141.2 270.1,139.1 270.2,143.7 270.3,144.6 270.4,142.3 270.5,142.4 270.7,141.2 270.8,141.8 270.9,146.0 271.0,146.2 271.1,137.0 271.3,142.2 271.4,137.9 271.5,137.5 271.6,143.6 271.7,139.0 271.9,131.7 272.0,143.7 272.1,145.7 272.2,148.1 272.3,140.4 272.5,146.2 272.6,133.3 272.7,138.3 272.8,143.2 272.9,143.1 273.1,145.7 273.2,144.6 273.3,141.3 273.4,146.4 273.5,143.7 273.7,146.9 273.8,138.9 273.9,142.4 274.0,140.1 274.1,144.0 274.3,140.7 274.4,140.6 274.5,137.2 274.6,142.4 274.7,144.9 274.9,144.6 275.0,131.7 275.1,136.2 275.2,147.7 275.3,140.7 275.5,140.8 275.6,145.0 275.7,141.9 275.8,139.2 275.9,140.6 276.1,147.3 276.2,136.8 276.3,145.4 276.4,140.2 276.5,140.3 276.7,147.1 276.8,139.1 276.9,143.8 277.0,140.0 277.1,136.6 277.3,140.6 277.4,144.8 277.5,140.5 277.6,142.8 277.7,141.7 277.9,141.2 278.0,139.7 278.1,141.5 278.2,134.5 278.3,139.6 278.5,135.2 278.6,141.9 278.7,142.1 278.8,138.4 278.9,143.5 279.1,142.2 279.2,141.9 279.3,139.8 279.4,142.5 279.5,144.3 279.7,138.8 279.8,138.3 279.9,144.7 280.0,133.4 280.1,132.5 280.3,135.0 280.4,141.4 280.5,141.3 280.6,142.4 280.7,141.1 280.9,145.8 281.0,145.9 281.1,144.5 281.2,137.1 281.3,141.9 281.5,138.0 281.6,139.1 281.7,137.5 281.8,140.8 281.9,142.5 282.1,141.0 282.2,136.9 282.3,135.8 282.4,138.2 282.5,138.2 282.7,143.2 282.8,139.6 282.9,140.1 283.0,140.2 283.1,144.2 283.3,145.9 283.4,142.0 283.5,139.8 283.6,145.1 283.7,142.0 283.9,139.3 284.0,143.9 284.1,141.3 284.2,136.0 284.3,142.6 284.5,141.6 284.6,134.6 284.7,133.7 284.8,141.0 284.9,142.8 285.1,142.6 285.2,136.2 285.3,139.5 285.4,142.7 285.5,135.6 285.7,140.9 285.8,141.3 285.9,143.6 286.0,132.7 286.1,141.1 286.3,147.1 286.4,138.6 286.5,139.5 286.6,143.6 286.7,137.9 286.9,143.9 287.0,141.5 287.1,133.8 287.2,138.3 287.3,131.5 287.5,138.0 287.6,126.2 287.7,122.9 287.8,122.7 287.9,121.7 288.1,128.7 288.2,122.6 288.3,124.2 288.4,128.7 288.5,123.7 288.7,126.7 288.8,128.4 288.9,136.8 289.0,141.7 289.1,138.5 289.3,136.7 289.4,137.9 289.5,136.5 289.6,142.8 289.7,137.2 289.9,139.9 290.0,137.0 290.1,134.6 290.2,132.6 290.3,137.9 290.5,141.5 290.6,139.8 290.7,140.1 290.8,137.4 290.9,137.8 291.1,137.4 291.2,141.5 291.3,147.4 291.4,140.4 291.5,136.4 291.7,144.9 291.8,137.6 291.9,142.6 292.0,139.4 292.1,141.1 292.3,151.9 292.4,138.5 292.5,139.0 292.6,142.1 292.7,140.8 292.9,139.6 293.0,138.7 293.1,142.8 293.2,144.4 293.3,137.9 293.5,137.3 293.6,146.8 293.7,136.4 293.8,143.2 293.9,142.3 294.1,137.4 294.2,143.4 294.3,137.4 294.4,137.5 294.5,136.5 294.7,143.6 294.8,139.5 294.9,144.4 295.0,138.4 295.1,142.9 295.3,145.5 295.4,140.7 295.5,137.4 295.6,139.9 295.7,145.0 295.9,143.3 296.0,139.7 296.1,135.4 296.2,143.3 296.3,146.2 296.5,146.3 296.6,142.4 296.7,140.4 296.8,138.5 296.9,139.2 297.1,135.7 297.2,147.8 297.3,140.9 297.4,148.6 297.5,140.8 297.7,135.8 297.8,147.0 297.9,138.2 298.0,139.6 298.1,146.3 298.3,145.7 298.4,134.5 298.5,141.0 298.6,137.5 298.7,142.7 298.9,146.7 299.0,139.2 299.1,145.6 299.2,137.8 299.3,147.7 299.5,138.0 299.6,139.1 299.7,141.5 299.8,135.8 299.9,145.3 300.1,136.6 300.2,141.9 300.3,135.4 300.4,139.7 300.5,139.0 300.7,137.4 300.8,140.0 300.9,134.1 301.0,142.6 301.1,137.6 301.3,126.7 301.4,142.7 301.5,136.6 301.6,139.8 301.7,132.8 301.9,124.4 302.0,130.2 302.1,126.3 302.2,129.8 302.3,127.1 302.5,128.8 302.6,120.2 302.7,126.4 302.8,123.4 302.9,127.0 303.1,116.8 303.2,121.2 303.3,129.1 303.4,116.8 303.5,124.3 303.7,126.4 303.8,120.5 303.9,124.6 304.0,124.8 304.1,127.1 304.3,119.2 304.4,120.5 304.5,124.8 304.6,118.9 304.7,122.8 304.9,120.5 305.0,114.7 305.1,126.3 305.2,132.5 305.3,125.3 305.5,128.0 305.6,126.9 305.7,126.8 305.8,131.1 305.9,135.5 306.1,140.5 306.2,136.3 306.3,130.7 306.4,129.9 306.5,140.2 306.7,137.5 306.8,134.9 306.9,134.0 307.0,135.4 307.1,142.8 307.3,139.0 307.4,134.9 307.5,142.7 307.6,141.1 307.7,139.5 307.9,142.6 308.0,138.2 308.1,144.1 308.2,136.6 308.3,138.4 308.5,137.0 308.6,140.2 308.7,139.2 308.8,140.5 308.9,141.7 309.1,143.5 309.2,142.3 309.3,142.6 309.4,146.9 309.5,141.1 309.7,137.3 309.8,144.9 309.9,147.7 310.0,142.6 310.1,144.6 310.3,139.9 310.4,142.6 310.5,144.0 310.6,143.2 310.7,140.4 310.9,147.2 311.0,142.6 311.1,145.0 311.2,143.4 311.3,144.9 311.5,145.1 311.6,141.5 311.7,144.8 311.8,149.0 311.9,148.5 312.1,144.6 312.2,147.5 312.3,138.1 312.4,146.9 312.5,142.5 312.7,136.7 312.8,142.8 312.9,145.3 313.0,140.1 313.1,148.4 313.3,146.5 313.4,138.3 313.5,145.5 313.6,142.7 313.7,140.6 313.9,141.4 314.0,141.0 314.1,138.6 314.2,141.0 314.3,144.6 314.5,146.9 314.6,147.0 314.7,140.7 314.8,142.1 314.9,139.8 315.1,145.7 315.2,137.4 315.3,138.3 315.4,140.6 315.5,143.3 315.7,141.6 315.8,142.7 315.9,142.7 316.0,143.3 316.1,139.4 316.3,141.6 316.4,144.4 316.5,143.5 316.6,146.1 316.7,140.3 316.9,145.5 317.0,147.3 317.1,142.3 317.2,143.5 317.3,143.4 317.5,144.4 317.6,144.0 317.7,147.3 317.8,144.4 317.9,145.5 318.1,143.8 318.2,139.6 318.3,144.2 318.4,142.1 318.5,140.9 318.7,140.1 318.8,142.7 318.9,141.0 319.0,149.2 319.1,147.9 319.3,142.1 319.4,145.1 319.5,146.5 319.6,142.4 319.7,148.7 319.9,145.9 320.0,142.7 320.1,137.5 320.2,140.1 320.3,144.0 320.5,141.7 320.6,143.0 320.7,140.7 320.8,143.9 320.9,141.7 321.1,138.4 321.2,142.1 321.3,141.4 321.4,138.4 321.5,147.6 321.7,143.0 321.8,142.2 321.9,145.6 322.0,143.0 322.1,145.6 322.3,138.7 322.4,140.1 322.5,145.0 322.6,147.9 322.7,143.4 322.9,144.0 323.0,140.9 323.1,143.3 323.2,141.2 323.3,142.9 323.5,145.7 323.6,137.3 323.7,144.1 323.8,141.0 323.9,141.5 324.1,147.0 324.2,144.5 324.3,146.4 324.4,138.2 324.5,142.3 324.7,142.2 324.8,141.8 324.9,145.0 325.0,146.4 325.1,140.3 325.3,140.8 325.4,139.9 325.5,147.2 325.6,142.2 325.7,143.4 325.9,142.8 326.0,140.9 326.1,144.9 326.2,145.0 326.3,146.7 326.5,143.2 326.6,143.0 326.7,142.1 326.8,148.4 326.9,147.0 327.1,143.8 327.2,145.9 327.3,142.2 327.4,150.2 327.5,142.2 327.7,142.9 327.8,142.9 327.9,149.2 328.0,144.5 328.1,147.4 328.3,143.8 328.4,140.4 328.5,146.5 328.6,142.2 328.7,140.2 328.9,142.9 329.0,146.1 329.1,149.5 329.2,140.0 329.3,137.6 329.5,147.1 329.6,145.2 329.7,142.6 329.8,145.6 329.9,146.5 330.1,150.1 330.2,144.0 330.3,148.2 330.4,143.0 330.5,142.9 330.7,145.7 330.8,141.1 330.9,140.5 331.0,147.4 331.1,138.6 331.3,144.8 331.4,143.5 331.5,143.4 331.6,140.5 331.7,138.4 331.9,142.6 332.0,141.1 332.1,143.3 332.2,144.9 332.3,142.4 332.5,141.4 332.6,145.5 332.7,142.4 332.8,141.8 332.9,143.8 333.1,145.6 333.2,151.1 333.3,149.6 333.4,141.0 333.5,140.8 333.7,145.0 333.8,146.5 333.9,144.5 334.0,151.3 334.1,148.4 334.3,149.8 334.4,143.7 334.5,142.3 334.6,141.8 334.7,144.6 334.9,141.2 335.0,143.1 335.1,143.7 335.2,147.8 335.3,143.5 335.5,140.5 335.6,143.1 335.7,144.6 335.8,145.0 335.9,139.5 336.1,143.3 336.2,144.5 336.3,140.4 336.4,138.6 336.5,135.7 336.7,135.2 336.8,131.0 336.9,140.9 337.0,138.9 337.1,141.9 337.3,144.1 337.4,141.1 337.5,147.3 337.6,145.1 337.7,149.5 337.9,145.7 338.0,146.2 338.1,144.6 338.2,149.8 338.3,139.2 338.5,143.9 338.6,144.6 338.7,141.0 338.8,143.1 338.9,139.1 339.1,146.1 339.2,141.4 339.3,146.6 339.4,144.8 339.5,143.1 339.7,141.0 339.8,143.6 339.9,146.5 340.0,145.3 340.1,147.6 340.3,143.4 340.4,150.4 340.5,145.0 340.6,143.2 340.7,149.6 340.9,149.7 341.0,145.5 341.1,144.4 341.2,148.5 341.3,143.2 341.5,148.6 341.6,141.8 341.7,145.6 341.8,145.9 341.9,149.4 342.1,140.6 342.2,146.6 342.3,145.6 342.4,146.0 342.5,143.4 342.7,142.2 342.8,144.7 342.9,145.3 343.0,150.3 343.1,146.4 343.3,146.1 343.4,148.1 343.5,141.4 343.6,148.2 343.7,148.8 343.9,148.8 344.0,145.2 344.1,142.6 344.2,143.3 344.3,146.9 344.5,147.8 344.6,149.9 344.7,150.5 344.8,148.5 344.9,145.8 345.1,146.1 345.2,143.9 345.3,146.9 345.4,144.3 345.5,141.7 345.7,135.5 345.8,141.9 345.9,132.5 346.0,141.6 346.1,141.2 346.3,133.6 346.4,140.0 346.5,137.7 346.6,142.6 346.7,145.9 346.9,144.7 347.0,141.7 347.1,146.9 347.2,147.1 347.3,146.4 347.5,143.6 347.6,145.6 347.7,147.4 347.8,146.2 347.9,152.7 348.1,147.4 348.2,146.1 348.3,148.1 348.4,143.6 348.5,148.0 348.7,151.4 348.8,144.2 348.9,147.7 349.0,149.0 349.1,142.0 349.3,151.5 349.4,143.9 349.5,145.9 349.6,148.0 349.7,146.2 349.9,149.2 350.0,147.4 350.1,148.6 350.2,147.2 350.3,151.2 350.5,141.2 350.6,148.0 350.7,146.1 350.8,144.3 350.9,144.6 351.1,145.2 351.2,148.2 351.3,143.5 351.4,144.9 351.5,145.1 351.7,139.2 351.8,144.6 351.9,147.1 352.0,135.0 352.1,139.1 352.3,134.2 352.4,137.3 352.5,135.8 352.6,145.4 352.7,138.8 352.9,144.3 353.0,145.4 353.1,141.6 353.2,139.6 353.3,148.2 353.5,149.4 353.6,145.7 353.7,145.5 353.8,150.2 353.9,149.8 354.1,150.2 354.2,148.2 354.3,145.3 354.4,144.1 354.5,141.9 354.7,147.4 354.8,153.0 354.9,148.9 355.0,147.4 355.1,143.3 355.3,145.7 355.4,147.6 355.5,147.0 355.6,150.2 355.7,147.2 355.9,149.6 356.0,147.4 356.1,147.2 356.2,151.3 356.3,145.6 356.5,147.0 356.6,144.2 356.7,148.1 356.8,150.8 356.9,149.7 357.1,149.9 357.2,150.8 357.3,149.6 357.4,150.0 357.5,149.0 357.7,145.2 357.8,149.4 357.9,150.6 358.0,145.5 358.1,148.7 358.3,151.0 358.4,147.0 358.5,144.4 358.6,148.2 358.7,152.5 358.9,145.5 359.0,147.8 359.1,146.0 359.2,147.1 359.3,148.8 359.5,152.3 359.6,146.2 359.7,146.2 359.8,145.8 359.9,145.2 360.1,144.0 360.2,145.9 360.3,148.0 360.4,148.4 360.5,151.5 360.7,146.0 360.8,146.2 360.9,146.2 361.0,148.9 361.1,147.9 361.3,150.5 361.4,146.2 361.5,150.9 361.6,151.0 361.7,147.7 361.9,146.7 362.0,149.0 362.1,146.3 362.2,154.0 362.3,148.9 362.5,150.7 362.6,145.0 362.7,143.7 362.8,150.5 362.9,150.0 363.1,146.5 363.2,147.0 363.3,146.8 363.4,149.3 363.5,151.2 363.7,144.4 363.8,150.0 363.9,146.3 364.0,147.2 364.1,148.3 364.3,145.0 364.4,156.5 364.5,155.4 364.6,150.8 364.7,150.6 364.9,145.9 365.0,155.3 365.1,148.9 365.2,148.5 365.3,152.1 365.5,149.6 365.6,146.7 365.7,148.3 365.8,147.9 365.9,149.1 366.1,150.4 366.2,150.4 366.3,152.5 366.4,148.9 366.5,151.6 366.7,153.6 366.8,145.6 366.9,150.9 367.0,146.1 367.1,144.9 367.3,153.4 367.4,152.1 367.5,150.5 367.6,147.8 367.7,153.2 367.9,145.4 368.0,149.3 368.1,150.4 368.2,152.6 368.3,145.0 368.5,140.8 368.6,149.5 368.7,150.0 368.8,149.7 368.9,146.8 369.1,149.1 369.2,145.1 369.3,150.4 369.4,151.7 369.5,147.3 369.7,143.9 369.8,148.9 369.9,148.8 370.0,149.1 370.1,152.9 370.3,149.7 370.4,155.0 370.5,150.4 370.6,146.4 370.7,152.5 370.9,149.2 371.0,148.1 371.1,150.2 371.2,149.8 371.3,145.3 371.5,147.2 371.6,152.6 371.7,150.0 371.8,151.2 371.9,152.3 372.1,154.4 372.2,147.8 372.3,147.7 372.4,147.1 372.5,148.0 372.7,147.1 372.8,149.6 372.9,149.3 373.0,151.2 373.1,146.5 373.3,147.9 373.4,150.6 373.5,151.6 373.6,143.5 373.7,148.1 373.9,149.0 374.0,144.3 374.1,150.9 374.2,153.0 374.3,144.6 374.5,145.6 374.6,152.3 374.7,152.8 374.8,146.4 374.9,147.2 375.1,151.6 375.2,149.2 375.3,148.5 375.4,154.1 375.5,150.7 375.7,145.1 375.8,150.6 375.9,146.2 376.0,151.9 376.1,152.6 376.3,151.1 376.4,152.5 376.5,155.2 376.6,151.9 376.7,149.0 376.9,147.1 377.0,150.6 377.1,147.3 377.2,146.2 377.3,148.9 377.5,145.4 377.6,146.7 377.7,151.4 377.8,148.9 377.9,149.3 378.1,150.1 378.2,145.0 378.3,150.7 378.4,150.2 378.5,150.1 378.7,151.1 378.8,144.5 378.9,155.3 379.0,149.5 379.1,146.5 379.3,150.6 379.4,146.9 379.5,150.5 379.6,151.7 379.7,146.8 379.9,152.6 380.0,150.7 380.1,151.3 380.2,151.4 380.3,151.7 380.5,153.4 380.6,152.7 380.7,151.7 380.8,148.4 380.9,151.2 381.1,149.0 381.2,146.7 381.3,150.4 381.4,148.1 381.5,153.5 381.7,150.4 381.8,150.7 381.9,152.6 382.0,149.5 382.1,149.9 382.3,153.6 382.4,147.0 382.5,148.3 382.6,150.3 382.7,152.7 382.9,151.3 383.0,147.6 383.1,148.3 383.2,155.1 383.3,151.5 383.5,149.1 383.6,149.5 383.7,160.5 383.8,154.2 383.9,146.5 384.1,149.6 384.2,152.7 384.3,150.1 384.4,153.8 384.5,155.4 384.7,150.9 384.8,151.6 384.9,150.4 385.0,153.2 385.1,154.8 385.3,153.3 385.4,148.1 385.5,152.9 385.6,149.4 385.7,155.5 385.9,152.2 386.0,153.7 386.1,150.9 386.2,150.9 386.3,152.1 386.5,150.9 386.6,155.1 386.7,148.1 386.8,152.8 386.9,149.6 387.1,153.3 387.2,146.5 387.3,154.4 387.4,150.3 387.5,147.9 387.7,153.0 387.8,150.7 387.9,151.9 388.0,154.4 388.1,148.4 388.3,149.3 388.4,151.4 388.5,152.7 388.6,149.4 388.7,149.2 388.9,153.3 389.0,153.8 389.1,154.9 389.2,150.6 389.3,144.7 389.5,152.7 389.6,153.3 389.7,147.6 389.8,151.6 389.9,152.1 390.1,152.3 390.2,150.2 390.3,151.6 390.4,153.0 390.5,146.9 390.7,153.8 390.8,150.5 390.9,153.4 391.0,149.7 391.1,147.1 391.3,154.5 391.4,155.7 391.5,146.8 391.6,148.3 391.7,151.8 391.9,148.9 392.0,153.5 392.1,149.6 392.2,150.3 392.3,152.2 392.5,146.1 392.6,150.8 392.7,156.8 392.8,153.2 392.9,149.2 393.1,154.4 393.2,157.0 393.3,155.0 393.4,150.3 393.5,150.1 393.7,150.8 393.8,149.1 393.9,151.9 394.0,149.3 394.1,149.6 394.3,152.7 394.4,150.4 394.5,151.4 394.6,157.3 394.7,152.8 394.9,154.9 395.0,153.0 395.1,153.5 395.2,148.5 395.3,150.6 395.5,151.3 395.6,150.9 395.7,151.5 395.8,152.4 395.9,151.5 396.1,153.8 396.2,151.4 396.3,154.8 396.4,152.0 396.5,150.6 396.7,148.9 396.8,150.2 396.9,151.5 397.0,155.2 397.1,149.0 397.3,154.8 397.4,151.9 397.5,150.1 397.6,148.9 397.7,153.6 397.9,147.4 398.0,151.1 398.1,151.1 398.2,151.9 398.3,153.7 398.5,150.8 398.6,152.6 398.7,149.3 398.8,152.5 398.9,153.9 399.1,151.5 399.2,153.3 399.3,152.6 399.4,151.5 399.5,152.3 399.7,151.9 399.8,147.5 399.9,148.7 400.0,153.5 400.1,147.3 400.3,155.4 400.4,149.0 400.5,152.6 400.6,153.7 400.7,151.0 400.9,155.4 401.0,149.2 401.1,154.8 401.2,153.0 401.3,152.2 401.5,155.1 401.6,154.0 401.7,149.7 401.8,156.1 401.9,155.2 402.1,152.9 402.2,153.1 402.3,156.0 402.4,156.8 402.5,154.2 402.7,149.9 402.8,153.1 402.9,154.8 403.0,150.7 403.1,149.8 403.3,152.8 403.4,153.1 403.5,153.8 403.6,155.9 403.7,147.5 403.9,153.1 404.0,152.4 404.1,152.9 404.2,153.3 404.3,155.4 404.5,154.3 404.6,152.8 404.7,153.2 404.8,153.2 404.9,152.7 405.1,156.2 405.2,148.3 405.3,149.6 405.4,156.9 405.5,154.5 405.7,154.6 405.8,155.9 405.9,148.2 406.0,156.6 406.1,150.3 406.3,150.7 406.4,155.7 406.5,150.3 406.6,154.5 406.7,156.7 406.9,151.6 407.0,151.8 407.1,154.9 407.2,155.4 407.3,154.1 407.5,149.4 407.6,157.2 407.7,154.8 407.8,147.6 407.9,151.1 408.1,150.7 408.2,151.4 408.3,154.0 408.4,151.6 408.5,156.3 408.7,156.1 408.8,153.6 408.9,150.9 409.0,153.4 409.1,154.4 409.3,156.3 409.4,152.3 409.5,153.7 409.6,151.1 409.7,152.4 409.9,156.3 410.0,157.4 410.1,152.7 410.2,152.9 410.3,151.7 410.5,149.9 410.6,154.5 410.7,154.7 410.8,155.1 410.9,153.7 411.1,154.9 411.2,154.0 411.3,156.7 411.4,154.6 411.5,157.2 411.7,156.3 411.8,154.6 411.9,150.7 412.0,155.0 412.1,154.5 412.3,158.4 412.4,155.6 412.5,151.1 412.6,151.9 412.7,156.1 412.9,153.4 413.0,151.0 413.1,155.0 413.2,155.0 413.3,153.6 413.5,156.0 413.6,153.7 413.7,158.4 413.8,151.3 413.9,156.1 414.1,156.3 414.2,157.0 414.3,153.7 414.4,153.0 414.5,158.2 414.7,155.3 414.8,152.6 414.9,156.0 415.0,157.8 415.1,155.7 415.3,152.4 415.4,156.4 415.5,150.5 415.6,156.0 415.7,156.5 415.9,153.6 416.0,154.8 416.1,154.5 416.2,152.9 416.3,152.2 416.5,153.6 416.6,152.8 416.7,157.8 416.8,151.1 416.9,158.5 417.1,153.7 417.2,152.5 417.3,153.0 417.4,151.9 417.5,149.5 417.7,156.3 417.8,154.0 417.9,152.4 418.0,151.3 418.1,153.1 418.3,151.5 418.4,157.5 418.5,150.0 418.6,152.2 418.7,152.4 418.9,155.6 419.0,155.1 419.1,154.2 419.2,154.1 419.3,155.5 419.5,152.7 419.6,155.7 419.7,151.5 419.8,155.8 419.9,153.4 420.1,157.2 420.2,151.8 420.3,153.6 420.4,152.7 420.5,156.8 420.7,151.4 420.8,156.7 420.9,155.8 421.0,156.0 421.1,153.1 421.3,155.8 421.4,158.8 421.5,153.2 421.6,155.4 421.7,154.2 421.9,152.2 422.0,152.9 422.1,156.0 422.2,154.7 422.3,149.2 422.5,156.1 422.6,154.1 422.7,157.0 422.8,153.4 422.9,160.2 423.1,152.7 423.2,156.7 423.3,152.5 423.4,155.4 423.5,152.3 423.7,157.9 423.8,155.0 423.9,158.5 424.0,154.8 424.1,151.3 424.3,153.1 424.4,154.2 424.5,158.3 424.6,161.4 424.7,154.8 424.9,155.8 425.0,158.0 425.1,152.5 425.2,154.4 425.3,156.7 425.5,156.0 425.6,155.0 425.7,153.0 425.8,155.5 425.9,156.9 426.1,153.6 426.2,155.4 426.3,160.0 426.4,156.4 426.5,156.6 426.7,152.9 426.8,154.0 426.9,154.6 427.0,153.4 427.1,152.6 427.3,151.8 427.4,154.9 427.5,157.3 427.6,156.8 427.7,156.9 427.9,157.5 428.0,153.4 428.1,153.8 428.2,154.9 428.3,153.4"/>
</g>
<rect x="94.9" y="12.7" width="334.1" height="470.9" fill="none" stroke="#000" stroke-width="2"/>
<path d="M94.9 444.4 h4.4 M429.0 444.4 h-4.4 M94.9 405.1 h7.9 M429.0 405.1 h-7.9 M94.9 365.9 h4.4 M429.0 365.9 h-4.4 M94.9 326.6 h7.9 M429.0 326.6 h-7.9 M94.9 287.4 h4.4 M429.0 287.4 h-4.4 M94.9 248.2 h7.9 M429.0 248.2 h-7.9 M94.9 208.9 h4.4 M429.0 208.9 h-4.4 M94.9 169.7 h7.9 M429.0 169.7 h-7.9 M94.9 130.4 h4.4 M429.0 130.4 h-4.4 M94.9 91.2 h7.9 M429.0 91.2 h-7.9 M94.9 51.9 h4.4 M429.0 51.9 h-4.4 M136.7 483.6 v-4.4 M136.7 12.7 v4.4 M178.4 483.6 v-7.9 M178.4 12.7 v7.9 M220.2 483.6 v-4.4 M220.2 12.7 v4.4 M262.0 483.6 v-7.9 M262.0 12.7 v7.9 M303.7 483.6 v-4.4 M303.7 12.7 v4.4 M345.5 483.6 v-7.9 M345.5 12.7 v7.9 M387.2 483.6 v-4.4 M387.2 12.7 v4.4" stroke="#000" stroke-width="1.8" fill="none"/>
<g fill="#000" stroke="#000" stroke-width="1.2" stroke-linejoin="round">
<path d="M140.9 106.0 L151.1 106.0 L146.0 113.8 Z"/>
<path d="M285.9 108.0 L296.1 108.0 L291.0 115.8 Z"/>
<path d="M335.9 124.6 L346.1 124.6 L341.0 132.4 Z"/>
<path d="M341.7 121.6 L351.9 121.6 L346.8 129.4 Z"/>
<path d="M347.2 119.1 L357.4 119.1 L352.3 126.9 Z"/>
<path d="M140.9 194.0 L151.1 194.0 L146.0 201.8 Z"/>
<path d="M256.3 209.1 L266.5 209.1 L261.4 216.9 Z"/>
<path d="M285.9 193.4 L296.1 193.4 L291.0 201.2 Z"/>
<path d="M311.1 206.6 L321.3 206.6 L316.2 214.4 Z"/>
<path d="M333.9 216.9 L344.1 216.9 L339.0 224.7 Z"/>
<path d="M342.2 213.4 L352.4 213.4 L347.3 221.2 Z"/>
<path d="M347.7 207.3 L357.9 207.3 L352.8 215.1 Z"/>
<path d="M355.2 217.5 L365.4 217.5 L360.3 225.3 Z"/>
<path d="M360.9 211.9 L371.1 211.9 L366.0 219.7 Z"/>
<path d="M374.1 220.6 L384.3 220.6 L379.2 228.4 Z"/>
<path d="M402.4 224.9 L412.6 224.9 L407.5 232.7 Z"/>
<path d="M259.2 69.2 L275.8 69.2 L267.5 82.4 Z" stroke-width="2.8"/>
</g>
<g fill="none" stroke="#000">
<circle cx="305.4" cy="111.1" r="5.4" stroke-width="4"/>
<circle cx="305.1" cy="334.3" r="5.4" stroke-width="4"/>
<circle cx="267" cy="47.2" r="7.2" stroke-width="4.6"/>
</g>
<g font-family="'Liberation Serif', 'Times New Roman', serif" fill="#000">
<g font-size="26.4" text-anchor="end">
<text x="88.1" y="413.6">200</text>
<text x="88.1" y="335.1">400</text>
<text x="88.1" y="256.7">600</text>
<text x="88.1" y="178.2">800</text>
<text x="88.1" y="99.7">1000</text>
<text x="88.1" y="21.2">1200</text>
</g>
<g font-size="26.4" text-anchor="middle">
<text x="81.5" y="506.4">0</text>
<text x="178.4" y="506.3">10</text>
<text x="262.0" y="506.3">20</text>
<text x="345.5" y="506.3">30</text>
<text x="429.0" y="506.3">40</text>
</g>
<text font-size="23.4" textLength="137.6" lengthAdjust="spacing" transform="translate(21,288.2) rotate(-90)">Intensity (a. u.)</text>
<text font-size="23.8" transform="translate(226.1,544.9) scale(0.915,1)">Cu-K</text>
<text font-size="29.5" font-style="italic" x="277.9" y="544.9">α</text>
<text font-size="24" transform="translate(292.6,544.9) scale(0.85,1)">/</text>
<text font-size="24.5" x="297.1" y="544.9">2</text>
<text font-size="24" font-style="italic" x="311.5" y="544.9">θ</text>
<text font-size="23.1" x="286.3" y="57.3">TiO<tspan font-size="15" dy="5.7">2</tspan><tspan dy="-5.7">(anatase)</tspan></text>
<text font-size="23.1" x="286.3" y="84.2">X-zeolite</text>
<g font-size="31.3">
<text x="378.8" y="135.9">(d)</text>
<text x="378.6" y="203.5">(c)</text>
<text x="379.3" y="362.3">(b)</text>
<text x="379.9" y="434">(a)</text>
</g>
</g>
</svg>
</body></html>
